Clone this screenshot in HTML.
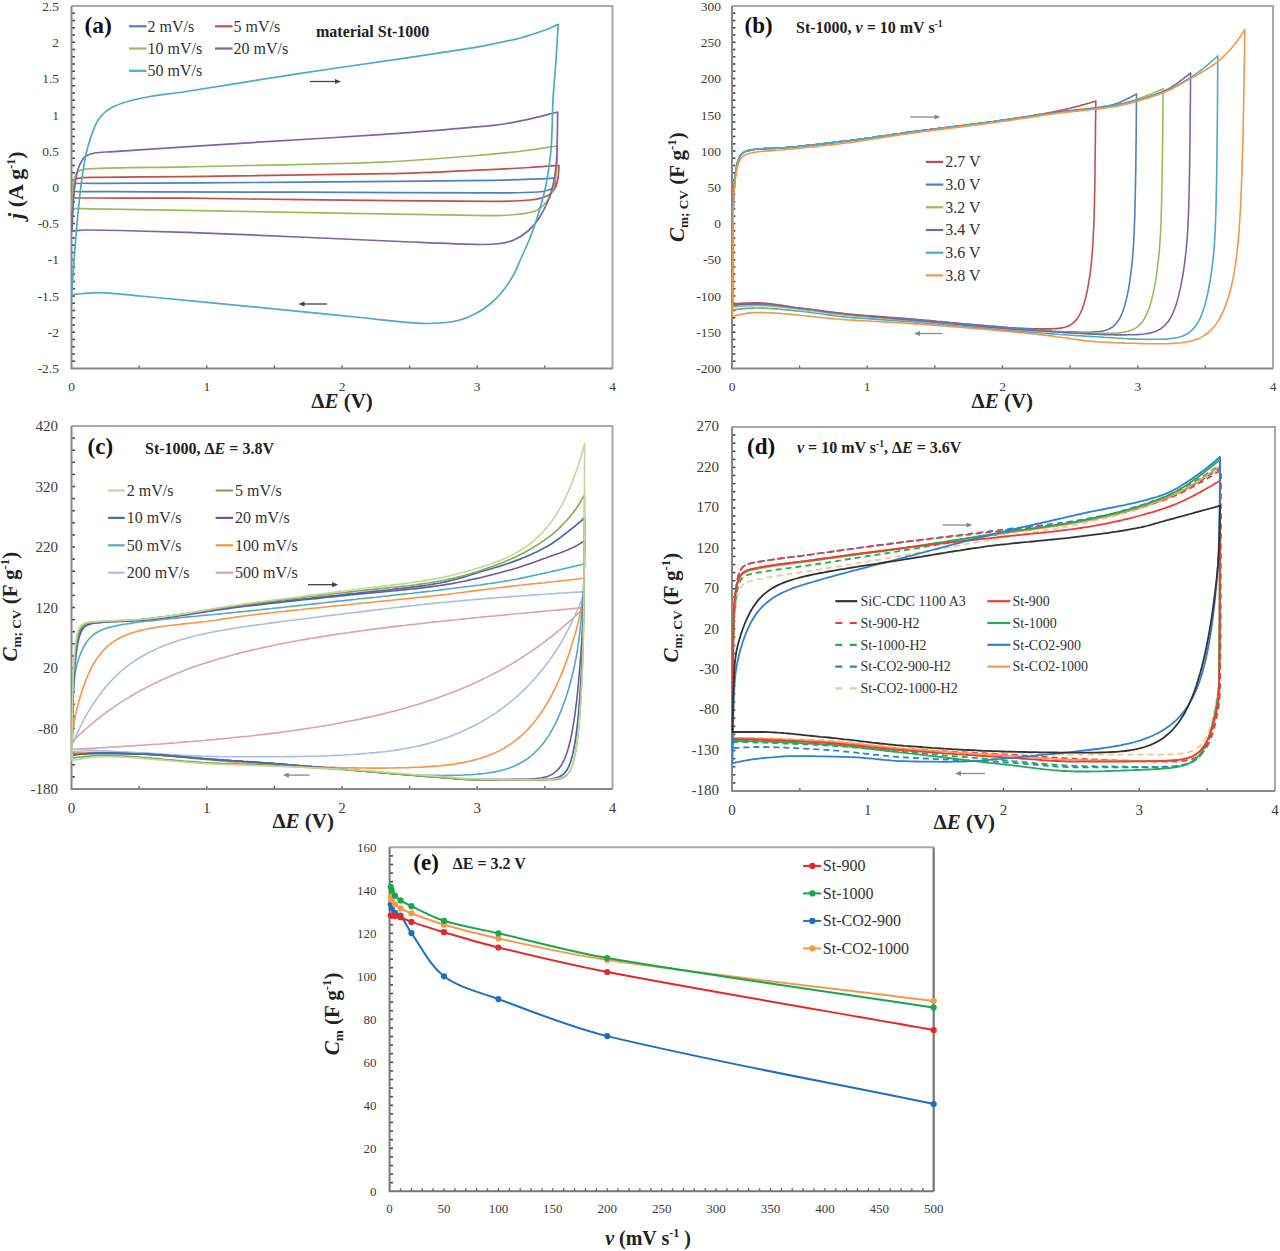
<!DOCTYPE html><html><head><meta charset="utf-8"><style>html,body{margin:0;padding:0;background:#fff;width:1280px;height:1251px;overflow:hidden}svg{display:block}text{font-family:"Liberation Serif",serif}</style></head><body>
<svg width="1280" height="1251" viewBox="0 0 1280 1251">
<rect width="1280" height="1251" fill="#fff"/>
<path d="M71.5 6.0 H612.5 V368.5" fill="none" stroke="#a8a8a8" stroke-width="2"/>
<path d="M71.5 13.2 h3.4" stroke="#444" stroke-width="1.6"/>
<path d="M71.5 20.5 h3.4" stroke="#444" stroke-width="1.6"/>
<path d="M71.5 27.8 h3.4" stroke="#444" stroke-width="1.6"/>
<path d="M71.5 35.0 h3.4" stroke="#444" stroke-width="1.6"/>
<path d="M71.5 42.2 h3.4" stroke="#444" stroke-width="1.6"/>
<path d="M71.5 49.5 h3.4" stroke="#444" stroke-width="1.6"/>
<path d="M71.5 56.8 h3.4" stroke="#444" stroke-width="1.6"/>
<path d="M71.5 64.0 h3.4" stroke="#444" stroke-width="1.6"/>
<path d="M71.5 71.2 h3.4" stroke="#444" stroke-width="1.6"/>
<path d="M71.5 78.5 h3.4" stroke="#444" stroke-width="1.6"/>
<path d="M71.5 85.8 h3.4" stroke="#444" stroke-width="1.6"/>
<path d="M71.5 93.0 h3.4" stroke="#444" stroke-width="1.6"/>
<path d="M71.5 100.2 h3.4" stroke="#444" stroke-width="1.6"/>
<path d="M71.5 107.5 h3.4" stroke="#444" stroke-width="1.6"/>
<path d="M71.5 114.8 h3.4" stroke="#444" stroke-width="1.6"/>
<path d="M71.5 122.0 h3.4" stroke="#444" stroke-width="1.6"/>
<path d="M71.5 129.2 h3.4" stroke="#444" stroke-width="1.6"/>
<path d="M71.5 136.5 h3.4" stroke="#444" stroke-width="1.6"/>
<path d="M71.5 143.8 h3.4" stroke="#444" stroke-width="1.6"/>
<path d="M71.5 151.0 h3.4" stroke="#444" stroke-width="1.6"/>
<path d="M71.5 158.2 h3.4" stroke="#444" stroke-width="1.6"/>
<path d="M71.5 165.5 h3.4" stroke="#444" stroke-width="1.6"/>
<path d="M71.5 172.8 h3.4" stroke="#444" stroke-width="1.6"/>
<path d="M71.5 180.0 h3.4" stroke="#444" stroke-width="1.6"/>
<path d="M71.5 187.2 h3.4" stroke="#444" stroke-width="1.6"/>
<path d="M71.5 194.5 h3.4" stroke="#444" stroke-width="1.6"/>
<path d="M71.5 201.8 h3.4" stroke="#444" stroke-width="1.6"/>
<path d="M71.5 209.0 h3.4" stroke="#444" stroke-width="1.6"/>
<path d="M71.5 216.2 h3.4" stroke="#444" stroke-width="1.6"/>
<path d="M71.5 223.5 h3.4" stroke="#444" stroke-width="1.6"/>
<path d="M71.5 230.8 h3.4" stroke="#444" stroke-width="1.6"/>
<path d="M71.5 238.0 h3.4" stroke="#444" stroke-width="1.6"/>
<path d="M71.5 245.2 h3.4" stroke="#444" stroke-width="1.6"/>
<path d="M71.5 252.5 h3.4" stroke="#444" stroke-width="1.6"/>
<path d="M71.5 259.8 h3.4" stroke="#444" stroke-width="1.6"/>
<path d="M71.5 267.0 h3.4" stroke="#444" stroke-width="1.6"/>
<path d="M71.5 274.2 h3.4" stroke="#444" stroke-width="1.6"/>
<path d="M71.5 281.5 h3.4" stroke="#444" stroke-width="1.6"/>
<path d="M71.5 288.8 h3.4" stroke="#444" stroke-width="1.6"/>
<path d="M71.5 296.0 h3.4" stroke="#444" stroke-width="1.6"/>
<path d="M71.5 303.2 h3.4" stroke="#444" stroke-width="1.6"/>
<path d="M71.5 310.5 h3.4" stroke="#444" stroke-width="1.6"/>
<path d="M71.5 317.8 h3.4" stroke="#444" stroke-width="1.6"/>
<path d="M71.5 325.0 h3.4" stroke="#444" stroke-width="1.6"/>
<path d="M71.5 332.2 h3.4" stroke="#444" stroke-width="1.6"/>
<path d="M71.5 339.5 h3.4" stroke="#444" stroke-width="1.6"/>
<path d="M71.5 346.8 h3.4" stroke="#444" stroke-width="1.6"/>
<path d="M71.5 354.0 h3.4" stroke="#444" stroke-width="1.6"/>
<path d="M71.5 361.2 h3.4" stroke="#444" stroke-width="1.6"/>
<path d="M139.1 368.5 v-3" stroke="#555" stroke-width="1.3"/>
<path d="M206.8 368.5 v-3" stroke="#555" stroke-width="1.3"/>
<path d="M274.4 368.5 v-3" stroke="#555" stroke-width="1.3"/>
<path d="M342.0 368.5 v-3" stroke="#555" stroke-width="1.3"/>
<path d="M409.6 368.5 v-3" stroke="#555" stroke-width="1.3"/>
<path d="M477.2 368.5 v-3" stroke="#555" stroke-width="1.3"/>
<path d="M544.9 368.5 v-3" stroke="#555" stroke-width="1.3"/>
<path d="M71.5 6.0 V368.5 H612.5" fill="none" stroke="#888" stroke-width="2"/>
<text x="59.0" y="10.7" font-size="13.5" text-anchor="end" font-weight="normal" fill="#3c3c3c" >2.5</text>
<text x="59.0" y="47.0" font-size="13.5" text-anchor="end" font-weight="normal" fill="#3c3c3c" >2</text>
<text x="59.0" y="83.2" font-size="13.5" text-anchor="end" font-weight="normal" fill="#3c3c3c" >1.5</text>
<text x="59.0" y="119.5" font-size="13.5" text-anchor="end" font-weight="normal" fill="#3c3c3c" >1</text>
<text x="59.0" y="155.7" font-size="13.5" text-anchor="end" font-weight="normal" fill="#3c3c3c" >0.5</text>
<text x="59.0" y="191.9" font-size="13.5" text-anchor="end" font-weight="normal" fill="#3c3c3c" >0</text>
<text x="59.0" y="228.2" font-size="13.5" text-anchor="end" font-weight="normal" fill="#3c3c3c" >-0.5</text>
<text x="59.0" y="264.4" font-size="13.5" text-anchor="end" font-weight="normal" fill="#3c3c3c" >-1</text>
<text x="59.0" y="300.7" font-size="13.5" text-anchor="end" font-weight="normal" fill="#3c3c3c" >-1.5</text>
<text x="59.0" y="336.9" font-size="13.5" text-anchor="end" font-weight="normal" fill="#3c3c3c" >-2</text>
<text x="59.0" y="373.2" font-size="13.5" text-anchor="end" font-weight="normal" fill="#3c3c3c" >-2.5</text>
<text x="71.5" y="390.5" font-size="13.5" text-anchor="middle" font-weight="normal" fill="#3c3c3c" >0</text>
<text x="206.8" y="390.5" font-size="13.5" text-anchor="middle" font-weight="normal" fill="#3c3c3c" >1</text>
<text x="342.0" y="390.5" font-size="13.5" text-anchor="middle" font-weight="normal" fill="#3c3c3c" >2</text>
<text x="477.2" y="390.5" font-size="13.5" text-anchor="middle" font-weight="normal" fill="#3c3c3c" >3</text>
<text x="612.5" y="390.5" font-size="13.5" text-anchor="middle" font-weight="normal" fill="#3c3c3c" >4</text>
<path d="M72.0 191.5 C72.3 189.3 72.1 186.8 73.0 185.0 C73.5 184.1 74.9 183.6 76.0 183.5 C83.9 183.0 92.0 183.4 100.0 183.4 C166.7 183.0 233.3 182.7 300.0 182.2 C363.3 181.7 426.7 181.2 490.0 180.3 C506.7 180.1 523.3 179.4 540.0 178.8 C545.2 178.6 550.3 178.3 555.5 178.0 C555.3 180.3 555.9 183.0 555.0 185.0 C554.1 186.9 552.0 188.7 550.0 189.5 C546.3 191.0 542.1 191.8 538.0 192.0 C522.1 192.9 506.0 192.9 490.0 192.9 C426.7 193.0 363.3 192.4 300.0 192.2 C250.0 192.0 200.0 191.9 150.0 191.8 C130.0 191.7 110.0 191.7 90.0 191.6 C84.0 191.6 78.0 191.5 72.0 191.5" fill="none" stroke="#4f81bd" stroke-width="1.70" stroke-linejoin="round" stroke-linecap="round" opacity="1.00"/>
<path d="M72.0 198.0 C72.3 193.3 71.9 188.4 73.0 184.0 C73.5 181.9 74.9 179.0 77.0 178.5 C83.9 176.8 92.3 177.5 100.0 177.4 C128.7 176.9 157.3 177.0 186.0 176.6 C253.2 175.7 320.4 175.3 387.5 173.7 C423.5 172.9 459.4 170.9 495.3 169.3 C506.9 168.8 518.4 168.2 530.0 167.5 C539.7 166.9 549.3 166.0 559.0 165.3 C558.7 169.5 558.7 173.8 558.0 178.0 C557.4 181.4 556.7 185.1 555.0 188.0 C553.3 190.9 551.0 194.1 548.0 195.5 C542.6 198.1 536.1 199.4 530.0 200.0 C516.8 201.3 503.3 201.3 490.0 201.3 C426.7 201.2 363.3 200.2 300.0 199.6 C262.0 199.2 224.0 198.5 186.0 198.2 C154.0 198.0 122.0 198.1 90.0 198.0 C84.0 198.0 78.0 198.0 72.0 198.0" fill="none" stroke="#c0504d" stroke-width="1.70" stroke-linejoin="round" stroke-linecap="round" opacity="1.00"/>
<path d="M72.0 208.5 C72.3 200.7 71.9 192.7 73.0 185.0 C73.6 180.7 74.3 175.4 77.0 172.5 C79.3 170.0 84.2 169.0 88.0 168.8 C120.5 167.1 153.3 167.6 186.0 166.8 C253.2 165.2 320.4 164.6 387.5 161.8 C423.5 160.3 459.4 156.9 495.3 153.9 C506.9 152.9 518.5 151.5 530.0 150.0 C539.0 148.8 548.0 147.3 557.0 146.0 C557.0 152.3 557.5 158.7 557.0 165.0 C556.5 171.7 555.7 178.5 554.0 185.0 C552.7 190.2 551.1 195.8 548.0 200.0 C544.7 204.4 540.1 209.0 535.0 211.0 C527.4 214.0 518.4 214.1 510.0 215.0 C503.4 215.7 496.7 215.7 490.0 215.6 C388.7 214.2 287.3 212.1 186.0 210.4 C154.0 209.9 122.0 209.3 90.0 208.8 C84.0 208.7 78.0 208.6 72.0 208.5" fill="none" stroke="#9bbb59" stroke-width="1.70" stroke-linejoin="round" stroke-linecap="round" opacity="1.00"/>
<path d="M72.0 231.0 C72.3 224.7 72.5 218.3 72.8 212.0 C73.1 206.7 73.3 201.3 73.8 196.0 C74.2 191.0 74.7 186.0 75.5 181.0 C76.2 176.8 77.0 172.5 78.3 168.5 C79.2 165.7 80.5 163.0 82.0 160.5 C83.0 158.8 84.3 157.0 86.0 156.0 C88.5 154.5 91.6 153.5 94.5 153.0 C99.6 152.1 104.8 152.1 110.0 151.8 C154.6 148.8 199.1 145.9 243.7 143.1 C291.6 140.0 339.6 137.5 387.5 134.1 C423.5 131.5 459.5 129.0 495.3 125.2 C507.4 123.9 519.3 121.2 531.2 118.7 C540.1 116.8 548.9 114.2 557.7 112.0 C557.6 119.7 557.5 127.3 557.3 135.0 C557.1 143.3 557.2 151.7 556.5 160.0 C555.9 167.7 555.1 175.5 553.5 183.0 C552.2 189.1 550.4 195.2 548.0 201.0 C545.3 207.5 541.9 213.9 538.0 219.8 C535.2 223.9 531.8 227.8 528.0 231.0 C524.1 234.3 519.7 237.4 515.0 239.5 C510.3 241.6 505.1 242.8 500.0 243.5 C493.4 244.4 486.7 244.6 480.0 244.5 C453.3 244.0 426.7 242.6 400.0 241.5 C366.0 240.1 332.0 238.4 298.0 237.0 C260.7 235.4 223.3 233.8 186.0 232.4 C164.0 231.6 142.0 231.0 120.0 230.5 C108.3 230.2 96.7 229.9 85.0 230.0 C80.7 230.0 76.3 230.7 72.0 231.0" fill="none" stroke="#8064a2" stroke-width="1.70" stroke-linejoin="round" stroke-linecap="round" opacity="1.00"/>
<path d="M71.8 294.7 C72.2 288.4 72.6 282.0 73.0 275.7 C74.0 261.3 75.0 247.0 76.2 232.6 C77.5 218.2 78.8 203.8 80.5 189.4 C81.4 181.2 82.6 173.1 84.0 165.0 C85.1 158.7 86.2 152.4 88.0 146.3 C90.1 139.0 92.5 131.6 95.6 124.7 C97.2 121.2 99.4 117.8 102.0 115.0 C104.8 112.0 108.2 109.4 111.8 107.5 C117.3 104.7 123.3 102.7 129.3 101.0 C136.1 99.1 143.0 97.7 150.0 96.5 C161.9 94.5 174.0 93.3 186.0 91.5 C223.6 85.7 261.2 79.4 298.8 73.6 C332.5 68.5 366.3 63.8 400.0 58.8 C413.3 56.8 426.5 54.8 439.8 52.8 C453.1 50.8 466.5 49.0 479.7 46.6 C493.0 44.2 506.4 41.5 519.5 38.2 C528.5 35.9 537.3 32.9 546.0 29.8 C550.2 28.3 554.1 26.2 558.2 24.4 C557.5 36.3 556.8 48.1 556.0 60.0 C555.1 73.3 553.7 86.7 553.0 100.0 C552.1 116.7 552.4 133.4 551.0 150.0 C550.0 161.7 548.3 173.5 546.0 185.0 C544.0 195.1 541.0 205.1 538.0 215.0 C535.7 222.8 532.9 230.4 530.0 238.0 C527.6 244.1 524.7 250.0 522.0 256.0 C519.3 262.0 517.2 268.3 514.0 274.0 C510.5 280.3 506.5 286.4 502.0 292.0 C498.5 296.4 494.4 300.4 490.0 304.0 C485.4 307.8 480.3 311.3 475.0 314.0 C469.6 316.8 463.8 319.0 458.0 320.5 C452.2 322.0 446.0 322.6 440.0 323.0 C432.5 323.5 425.0 323.7 417.5 323.2 C398.3 321.9 379.2 319.4 360.0 317.5 C339.6 315.5 319.2 313.3 298.8 311.3 C261.2 307.6 223.6 304.0 186.0 300.4 C170.7 298.9 155.3 297.4 140.0 296.0 C128.0 294.9 116.0 293.4 104.0 292.8 C97.7 292.5 91.3 292.9 85.0 293.3 C80.7 293.6 76.3 294.2 72.0 294.7" fill="none" stroke="#4bacc6" stroke-width="1.70" stroke-linejoin="round" stroke-linecap="round" opacity="1.00"/>
<text x="84.5" y="32.5" font-size="23.5" text-anchor="start" font-weight="bold" fill="#111" >(a)</text>
<path d="M129.0 26.3 h17.5" stroke="#4f81bd" stroke-width="2.2"/>
<text x="147.5" y="31.6" font-size="16.0" text-anchor="start" font-weight="normal" fill="#333" >2 mV/s</text>
<path d="M215.0 26.3 h17.5" stroke="#c0504d" stroke-width="2.2"/>
<text x="233.5" y="31.6" font-size="16.0" text-anchor="start" font-weight="normal" fill="#333" >5 mV/s</text>
<path d="M129.0 48.5 h17.5" stroke="#9bbb59" stroke-width="2.2"/>
<text x="147.5" y="53.8" font-size="16.0" text-anchor="start" font-weight="normal" fill="#333" >10 mV/s</text>
<path d="M215.0 48.5 h17.5" stroke="#8064a2" stroke-width="2.2"/>
<text x="233.5" y="53.8" font-size="16.0" text-anchor="start" font-weight="normal" fill="#333" >20 mV/s</text>
<path d="M129.0 70.8 h17.5" stroke="#4bacc6" stroke-width="2.2"/>
<text x="147.5" y="76.1" font-size="16.0" text-anchor="start" font-weight="normal" fill="#333" >50 mV/s</text>
<text x="316.0" y="36.5" font-size="16.0" text-anchor="start" font-weight="bold" fill="#222" >material St-1000</text>
<path d="M310.0 81.5 H338.0" stroke="#444" stroke-width="1.3"/>
<path d="M341.0 81.5 L335.0 78.9 L335.0 84.1 Z" fill="#444"/>
<path d="M327.0 304.0 H301.5" stroke="#444" stroke-width="1.3"/>
<path d="M298.5 304.0 L304.5 301.4 L304.5 306.6 Z" fill="#444"/>
<text x="342.0" y="407.5" font-size="21.0" text-anchor="middle" font-weight="bold" fill="#222" >&#916;<tspan font-style="italic">E</tspan> (V)</text>
<text transform="translate(22.5 185.2) rotate(-90)" font-size="22" font-weight="bold" fill="#222" text-anchor="middle"><tspan font-style="italic">j</tspan> (A g<tspan font-size="12" dy="-8">-1</tspan><tspan dy="8">)</tspan></text>
<path d="M732.0 6.0 H1273.0 V368.5" fill="none" stroke="#a8a8a8" stroke-width="2"/>
<path d="M732.0 13.2 h3.4" stroke="#444" stroke-width="1.6"/>
<path d="M732.0 20.5 h3.4" stroke="#444" stroke-width="1.6"/>
<path d="M732.0 27.8 h3.4" stroke="#444" stroke-width="1.6"/>
<path d="M732.0 35.0 h3.4" stroke="#444" stroke-width="1.6"/>
<path d="M732.0 42.2 h3.4" stroke="#444" stroke-width="1.6"/>
<path d="M732.0 49.5 h3.4" stroke="#444" stroke-width="1.6"/>
<path d="M732.0 56.8 h3.4" stroke="#444" stroke-width="1.6"/>
<path d="M732.0 64.0 h3.4" stroke="#444" stroke-width="1.6"/>
<path d="M732.0 71.2 h3.4" stroke="#444" stroke-width="1.6"/>
<path d="M732.0 78.5 h3.4" stroke="#444" stroke-width="1.6"/>
<path d="M732.0 85.8 h3.4" stroke="#444" stroke-width="1.6"/>
<path d="M732.0 93.0 h3.4" stroke="#444" stroke-width="1.6"/>
<path d="M732.0 100.2 h3.4" stroke="#444" stroke-width="1.6"/>
<path d="M732.0 107.5 h3.4" stroke="#444" stroke-width="1.6"/>
<path d="M732.0 114.8 h3.4" stroke="#444" stroke-width="1.6"/>
<path d="M732.0 122.0 h3.4" stroke="#444" stroke-width="1.6"/>
<path d="M732.0 129.2 h3.4" stroke="#444" stroke-width="1.6"/>
<path d="M732.0 136.5 h3.4" stroke="#444" stroke-width="1.6"/>
<path d="M732.0 143.8 h3.4" stroke="#444" stroke-width="1.6"/>
<path d="M732.0 151.0 h3.4" stroke="#444" stroke-width="1.6"/>
<path d="M732.0 158.2 h3.4" stroke="#444" stroke-width="1.6"/>
<path d="M732.0 165.5 h3.4" stroke="#444" stroke-width="1.6"/>
<path d="M732.0 172.8 h3.4" stroke="#444" stroke-width="1.6"/>
<path d="M732.0 180.0 h3.4" stroke="#444" stroke-width="1.6"/>
<path d="M732.0 187.2 h3.4" stroke="#444" stroke-width="1.6"/>
<path d="M732.0 194.5 h3.4" stroke="#444" stroke-width="1.6"/>
<path d="M732.0 201.8 h3.4" stroke="#444" stroke-width="1.6"/>
<path d="M732.0 209.0 h3.4" stroke="#444" stroke-width="1.6"/>
<path d="M732.0 216.2 h3.4" stroke="#444" stroke-width="1.6"/>
<path d="M732.0 223.5 h3.4" stroke="#444" stroke-width="1.6"/>
<path d="M732.0 230.8 h3.4" stroke="#444" stroke-width="1.6"/>
<path d="M732.0 238.0 h3.4" stroke="#444" stroke-width="1.6"/>
<path d="M732.0 245.2 h3.4" stroke="#444" stroke-width="1.6"/>
<path d="M732.0 252.5 h3.4" stroke="#444" stroke-width="1.6"/>
<path d="M732.0 259.8 h3.4" stroke="#444" stroke-width="1.6"/>
<path d="M732.0 267.0 h3.4" stroke="#444" stroke-width="1.6"/>
<path d="M732.0 274.2 h3.4" stroke="#444" stroke-width="1.6"/>
<path d="M732.0 281.5 h3.4" stroke="#444" stroke-width="1.6"/>
<path d="M732.0 288.8 h3.4" stroke="#444" stroke-width="1.6"/>
<path d="M732.0 296.0 h3.4" stroke="#444" stroke-width="1.6"/>
<path d="M732.0 303.2 h3.4" stroke="#444" stroke-width="1.6"/>
<path d="M732.0 310.5 h3.4" stroke="#444" stroke-width="1.6"/>
<path d="M732.0 317.8 h3.4" stroke="#444" stroke-width="1.6"/>
<path d="M732.0 325.0 h3.4" stroke="#444" stroke-width="1.6"/>
<path d="M732.0 332.2 h3.4" stroke="#444" stroke-width="1.6"/>
<path d="M732.0 339.5 h3.4" stroke="#444" stroke-width="1.6"/>
<path d="M732.0 346.8 h3.4" stroke="#444" stroke-width="1.6"/>
<path d="M732.0 354.0 h3.4" stroke="#444" stroke-width="1.6"/>
<path d="M732.0 361.2 h3.4" stroke="#444" stroke-width="1.6"/>
<path d="M799.6 368.5 v-3" stroke="#555" stroke-width="1.3"/>
<path d="M867.2 368.5 v-3" stroke="#555" stroke-width="1.3"/>
<path d="M934.9 368.5 v-3" stroke="#555" stroke-width="1.3"/>
<path d="M1002.5 368.5 v-3" stroke="#555" stroke-width="1.3"/>
<path d="M1070.1 368.5 v-3" stroke="#555" stroke-width="1.3"/>
<path d="M1137.8 368.5 v-3" stroke="#555" stroke-width="1.3"/>
<path d="M1205.4 368.5 v-3" stroke="#555" stroke-width="1.3"/>
<path d="M732.0 6.0 V368.5 H1273.0" fill="none" stroke="#888" stroke-width="2"/>
<text x="721.0" y="10.7" font-size="13.5" text-anchor="end" font-weight="normal" fill="#3c3c3c" >300</text>
<text x="721.0" y="47.0" font-size="13.5" text-anchor="end" font-weight="normal" fill="#3c3c3c" >250</text>
<text x="721.0" y="83.2" font-size="13.5" text-anchor="end" font-weight="normal" fill="#3c3c3c" >200</text>
<text x="721.0" y="119.5" font-size="13.5" text-anchor="end" font-weight="normal" fill="#3c3c3c" >150</text>
<text x="721.0" y="155.7" font-size="13.5" text-anchor="end" font-weight="normal" fill="#3c3c3c" >100</text>
<text x="721.0" y="191.9" font-size="13.5" text-anchor="end" font-weight="normal" fill="#3c3c3c" >50</text>
<text x="721.0" y="228.2" font-size="13.5" text-anchor="end" font-weight="normal" fill="#3c3c3c" >0</text>
<text x="721.0" y="264.4" font-size="13.5" text-anchor="end" font-weight="normal" fill="#3c3c3c" >-50</text>
<text x="721.0" y="300.7" font-size="13.5" text-anchor="end" font-weight="normal" fill="#3c3c3c" >-100</text>
<text x="721.0" y="336.9" font-size="13.5" text-anchor="end" font-weight="normal" fill="#3c3c3c" >-150</text>
<text x="721.0" y="373.2" font-size="13.5" text-anchor="end" font-weight="normal" fill="#3c3c3c" >-200</text>
<text x="732.0" y="390.5" font-size="13.5" text-anchor="middle" font-weight="normal" fill="#3c3c3c" >0</text>
<text x="867.2" y="390.5" font-size="13.5" text-anchor="middle" font-weight="normal" fill="#3c3c3c" >1</text>
<text x="1002.5" y="390.5" font-size="13.5" text-anchor="middle" font-weight="normal" fill="#3c3c3c" >2</text>
<text x="1137.8" y="390.5" font-size="13.5" text-anchor="middle" font-weight="normal" fill="#3c3c3c" >3</text>
<text x="1273.0" y="390.5" font-size="13.5" text-anchor="middle" font-weight="normal" fill="#3c3c3c" >4</text>
<path d="M732.4 304.0 L732.5 281.8 L732.6 264.2 L732.8 244.1 L732.9 229.6 L733.1 213.3 L733.4 203.0 L733.7 194.8 L734.0 189.2 L734.4 183.6 L734.9 178.4 L735.4 174.1 L735.9 170.6 L736.4 167.7 L737.4 163.0 L738.4 159.7 L739.4 157.2 L740.4 155.4 L741.4 154.1 L742.4 153.2 L744.4 151.9 L746.4 151.1 L748.4 150.6 L750.4 150.1 L752.4 149.8 L755.4 149.3 L756.4 149.1 L758.4 148.9 L760.4 148.8 L762.4 148.7 L764.4 148.6 L767.4 148.5 L768.4 148.5 L772.4 148.4 L776.4 148.2 L777.4 148.1 L780.4 147.9 L782.4 147.8 L784.4 147.7 L788.4 147.4 L792.4 147.0 L794.4 146.9 L796.4 146.7 L800.4 146.3 L802.4 146.1 L804.4 145.9 L808.4 145.4 L812.4 145.0 L816.4 144.5 L820.4 144.1 L824.4 143.6 L828.4 143.1 L832.4 142.6 L836.4 142.1 L840.4 141.6 L844.4 141.2 L848.4 140.7 L852.4 140.2 L856.4 139.7 L860.4 139.1 L864.4 138.6 L868.4 138.0 L872.4 137.5 L876.4 136.9 L880.4 136.3 L884.4 135.7 L888.4 135.2 L892.4 134.6 L896.4 134.0 L900.4 133.5 L904.4 132.9 L908.4 132.4 L912.4 131.9 L916.4 131.3 L920.4 130.8 L924.4 130.3 L928.4 129.8 L932.4 129.4 L936.4 128.9 L940.4 128.4 L944.4 127.9 L948.4 127.4 L952.4 126.9 L956.4 126.4 L960.4 125.9 L964.4 125.5 L968.4 124.9 L972.4 124.4 L976.4 123.9 L980.4 123.4 L984.4 122.9 L988.4 122.3 L992.4 121.8 L996.4 121.2 L1000.4 120.6 L1004.4 120.0 L1008.4 119.4 L1012.4 118.8 L1016.4 118.2 L1020.4 117.6 L1024.4 117.0 L1025.8 116.8 L1028.4 116.3 L1032.4 115.7 L1033.8 115.4 L1036.4 115.0 L1039.8 114.4 L1040.4 114.3 L1044.4 113.6 L1045.8 113.3 L1048.4 112.8 L1050.8 112.4 L1052.4 112.0 L1055.8 111.4 L1056.4 111.2 L1060.4 110.4 L1060.8 110.3 L1064.4 109.5 L1065.8 109.2 L1068.4 108.6 L1069.8 108.3 L1072.4 107.6 L1072.8 107.5 L1075.8 106.8 L1076.4 106.6 L1077.8 106.2 L1079.8 105.7 L1080.4 105.5 L1081.8 105.1 L1083.8 104.6 L1084.4 104.4 L1085.8 104.0 L1086.8 103.7 L1087.8 103.4 L1088.4 103.3 L1088.8 103.2 L1089.8 102.9 L1090.8 102.6 L1091.8 102.3 L1092.2 102.1 L1092.4 102.1 L1092.8 102.0 L1093.2 101.8 L1093.8 101.7 L1094.2 101.6 L1094.5 101.5 L1094.8 101.4 L1095.0 101.3 L1095.2 101.2 L1095.4 101.2 L1095.5 101.2 L1095.7 101.1 L1095.8 101.1 L1095.8 101.1 L1095.7 113.4 L1095.5 124.7 L1095.4 139.8 L1095.2 153.1 L1095.0 171.7 L1094.8 186.9 L1094.5 201.5 L1094.2 213.2 L1093.8 225.4 L1093.2 236.9 L1092.8 245.6 L1092.4 250.7 L1092.2 252.6 L1091.8 258.5 L1090.8 268.0 L1089.8 275.6 L1088.8 282.2 L1088.4 284.2 L1087.8 287.8 L1086.8 292.8 L1085.8 297.2 L1084.4 302.2 L1083.8 304.4 L1081.8 310.0 L1080.4 313.1 L1079.8 314.4 L1077.8 317.8 L1076.4 319.6 L1075.8 320.4 L1072.8 323.3 L1072.4 323.6 L1069.8 325.3 L1068.4 325.9 L1065.8 327.0 L1064.4 327.3 L1060.8 328.1 L1060.4 328.1 L1056.4 328.6 L1055.8 328.6 L1052.4 328.8 L1050.8 328.9 L1048.4 328.9 L1045.8 328.9 L1044.4 328.9 L1040.4 328.9 L1039.8 328.9 L1036.4 328.8 L1033.8 328.8 L1032.4 328.7 L1028.4 328.6 L1025.8 328.5 L1024.4 328.4 L1020.4 328.2 L1016.4 328.0 L1012.4 327.7 L1008.4 327.5 L1004.4 327.2 L1000.4 326.9 L996.4 326.6 L992.4 326.3 L988.4 326.0 L984.4 325.6 L980.4 325.3 L976.4 324.9 L972.4 324.6 L968.4 324.2 L964.4 323.8 L960.4 323.5 L956.4 323.1 L952.4 322.7 L948.4 322.3 L944.4 321.9 L940.4 321.5 L936.4 321.2 L932.4 320.8 L928.4 320.4 L924.4 320.1 L920.4 319.7 L916.4 319.4 L912.4 319.0 L908.4 318.7 L904.4 318.4 L900.4 318.1 L896.4 317.8 L892.4 317.5 L888.4 317.2 L884.4 316.9 L880.4 316.6 L876.4 316.3 L872.4 316.0 L868.4 315.7 L864.4 315.4 L860.4 315.0 L856.4 314.7 L852.4 314.3 L848.4 314.0 L844.4 313.6 L840.4 313.1 L836.4 312.7 L832.4 312.2 L828.4 311.7 L824.4 311.2 L820.4 310.6 L816.4 310.1 L812.4 309.6 L808.4 309.0 L804.4 308.5 L802.4 308.2 L800.4 308.0 L796.4 307.5 L794.4 307.2 L792.4 307.0 L788.4 306.4 L784.4 305.7 L782.4 305.4 L780.4 305.1 L777.4 304.7 L776.4 304.5 L772.4 304.0 L768.4 303.5 L767.4 303.4 L764.4 303.2 L762.4 303.1 L760.4 303.0 L758.4 302.9 L756.4 302.9 L755.4 302.9 L752.4 302.9 L750.4 303.0 L748.4 303.0 L746.4 303.1 L744.4 303.1 L742.4 303.2 L741.4 303.3 L740.4 303.3 L739.4 303.4 L738.4 303.5 L737.4 303.5 L736.4 303.6 L735.9 303.7 L735.4 303.7 L734.9 303.8 L734.4 303.8 L734.0 303.8 L733.7 303.9 L733.4 303.9 L733.1 303.9 L732.9 303.9 L732.8 304.0 L732.6 304.0 L732.5 304.0 L732.4 304.0 Z" fill="none" stroke="#c0504d" stroke-width="1.60" stroke-linejoin="round"/>
<path d="M732.4 305.5 L732.5 283.1 L732.6 265.3 L732.8 245.0 L732.9 230.3 L733.1 213.9 L733.4 203.5 L733.7 195.3 L734.0 189.6 L734.4 184.0 L734.9 178.6 L735.4 174.4 L735.9 170.8 L736.4 167.8 L737.4 163.1 L738.4 159.7 L739.4 157.3 L740.4 155.5 L741.4 154.2 L742.4 153.2 L744.4 151.9 L746.4 151.1 L748.4 150.6 L750.4 150.1 L752.4 149.8 L755.4 149.3 L756.4 149.1 L758.4 148.9 L760.4 148.8 L762.4 148.7 L764.4 148.6 L767.4 148.5 L768.4 148.5 L772.4 148.4 L776.4 148.2 L777.4 148.1 L780.4 147.9 L782.4 147.8 L784.4 147.7 L788.4 147.4 L792.4 147.0 L794.4 146.9 L796.4 146.7 L800.4 146.3 L802.4 146.1 L804.4 145.9 L808.4 145.4 L812.4 145.0 L816.4 144.5 L820.4 144.1 L824.4 143.6 L828.4 143.1 L832.4 142.6 L836.4 142.1 L840.4 141.6 L844.4 141.2 L848.4 140.7 L852.4 140.2 L856.4 139.7 L860.4 139.1 L864.4 138.6 L868.4 138.0 L872.4 137.5 L876.4 136.9 L880.4 136.3 L884.4 135.7 L888.4 135.2 L892.4 134.6 L896.4 134.0 L900.4 133.5 L904.4 132.9 L908.4 132.4 L912.4 131.9 L916.4 131.3 L920.4 130.8 L924.4 130.3 L928.4 129.8 L932.4 129.3 L936.4 128.8 L940.4 128.3 L944.4 127.8 L948.4 127.3 L952.4 126.8 L956.4 126.3 L960.4 125.8 L964.4 125.3 L968.4 124.8 L972.4 124.3 L976.4 123.8 L980.4 123.3 L984.4 122.7 L988.4 122.2 L992.4 121.7 L996.4 121.2 L1000.4 120.6 L1004.4 120.1 L1008.4 119.5 L1012.4 118.9 L1016.4 118.4 L1020.4 117.8 L1024.4 117.2 L1028.4 116.6 L1032.4 116.0 L1036.4 115.4 L1040.4 114.8 L1044.4 114.2 L1048.4 113.7 L1052.4 113.1 L1056.4 112.5 L1060.4 111.9 L1064.4 111.4 L1066.5 111.2 L1068.4 110.9 L1072.4 110.5 L1074.5 110.3 L1076.4 110.0 L1080.4 109.6 L1080.5 109.6 L1084.4 109.2 L1086.5 108.9 L1088.4 108.7 L1091.5 108.4 L1092.4 108.2 L1096.4 107.7 L1096.5 107.7 L1100.4 107.1 L1101.5 106.9 L1104.4 106.4 L1106.5 106.0 L1108.4 105.7 L1110.5 105.2 L1112.4 104.8 L1113.5 104.5 L1116.4 103.6 L1116.5 103.6 L1118.5 102.9 L1120.4 102.1 L1120.5 102.1 L1122.5 101.2 L1124.4 100.3 L1124.5 100.2 L1126.5 99.3 L1127.5 98.7 L1128.4 98.3 L1128.5 98.2 L1129.5 97.7 L1130.5 97.2 L1131.5 96.6 L1132.4 96.1 L1132.5 96.1 L1133.0 95.8 L1133.5 95.5 L1134.0 95.3 L1134.5 95.0 L1134.9 94.8 L1135.2 94.6 L1135.5 94.4 L1135.8 94.3 L1136.0 94.2 L1136.2 94.1 L1136.3 94.0 L1136.4 94.0 L1136.5 93.9 L1136.5 93.9 L1136.4 106.8 L1136.3 118.5 L1136.2 134.3 L1136.0 148.2 L1135.8 167.7 L1135.5 183.5 L1135.2 198.8 L1134.9 211.0 L1134.5 223.7 L1134.0 235.7 L1133.5 244.9 L1133.0 252.2 L1132.5 258.3 L1132.4 259.4 L1131.5 268.2 L1130.5 276.2 L1129.5 283.0 L1128.5 289.0 L1128.4 289.5 L1127.5 294.2 L1126.5 298.7 L1124.5 306.3 L1124.4 306.6 L1122.5 312.2 L1120.5 316.8 L1120.4 317.0 L1118.5 320.3 L1116.5 323.1 L1116.4 323.2 L1113.5 326.1 L1112.4 327.0 L1110.5 328.2 L1108.4 329.2 L1106.5 330.0 L1104.4 330.6 L1101.5 331.2 L1100.4 331.4 L1096.5 331.8 L1096.4 331.8 L1092.4 332.0 L1091.5 332.1 L1088.4 332.2 L1086.5 332.2 L1084.4 332.2 L1080.5 332.2 L1080.4 332.2 L1076.4 332.1 L1074.5 332.1 L1072.4 332.0 L1068.4 331.9 L1066.5 331.9 L1064.4 331.8 L1060.4 331.5 L1056.4 331.3 L1052.4 331.0 L1048.4 330.6 L1044.4 330.3 L1040.4 330.0 L1036.4 329.7 L1032.4 329.4 L1028.4 329.1 L1024.4 328.8 L1020.4 328.5 L1016.4 328.2 L1012.4 327.9 L1008.4 327.6 L1004.4 327.2 L1000.4 326.9 L996.4 326.6 L992.4 326.2 L988.4 325.9 L984.4 325.6 L980.4 325.2 L976.4 324.9 L972.4 324.5 L968.4 324.2 L964.4 323.9 L960.4 323.5 L956.4 323.2 L952.4 322.8 L948.4 322.5 L944.4 322.1 L940.4 321.8 L936.4 321.5 L932.4 321.1 L928.4 320.8 L924.4 320.5 L920.4 320.1 L916.4 319.8 L912.4 319.5 L908.4 319.2 L904.4 318.9 L900.4 318.6 L896.4 318.3 L892.4 318.0 L888.4 317.7 L884.4 317.5 L880.4 317.2 L876.4 316.9 L872.4 316.6 L868.4 316.3 L864.4 316.1 L860.4 315.7 L856.4 315.4 L852.4 315.1 L848.4 314.7 L844.4 314.4 L840.4 313.9 L836.4 313.5 L832.4 313.0 L828.4 312.5 L824.4 311.9 L820.4 311.4 L816.4 310.8 L812.4 310.3 L808.4 309.8 L804.4 309.2 L802.4 309.0 L800.4 308.8 L796.4 308.3 L794.4 308.1 L792.4 307.8 L788.4 307.3 L784.4 306.8 L782.4 306.5 L780.4 306.3 L777.4 305.9 L776.4 305.8 L772.4 305.4 L768.4 305.0 L767.4 304.9 L764.4 304.7 L762.4 304.6 L760.4 304.5 L758.4 304.5 L756.4 304.5 L755.4 304.5 L752.4 304.5 L750.4 304.6 L748.4 304.6 L746.4 304.7 L744.4 304.7 L742.4 304.8 L741.4 304.9 L740.4 304.9 L739.4 305.0 L738.4 305.0 L737.4 305.1 L736.4 305.2 L735.9 305.2 L735.4 305.2 L734.9 305.3 L734.4 305.3 L734.0 305.4 L733.7 305.4 L733.4 305.4 L733.1 305.4 L732.9 305.5 L732.8 305.5 L732.6 305.5 L732.5 305.5 L732.4 305.5 Z" fill="none" stroke="#4f81bd" stroke-width="1.60" stroke-linejoin="round"/>
<path d="M732.4 307.0 L732.5 284.4 L732.6 266.4 L732.8 245.9 L732.9 231.1 L733.1 214.5 L733.4 204.0 L733.7 195.7 L734.0 189.9 L734.4 184.3 L734.9 178.9 L735.4 174.6 L735.9 171.0 L736.4 168.0 L737.4 163.2 L738.4 159.8 L739.4 157.3 L740.4 155.5 L741.4 154.2 L742.4 153.2 L744.4 151.9 L746.4 151.1 L748.4 150.6 L750.4 150.1 L752.4 149.8 L755.4 149.3 L756.4 149.1 L758.4 148.9 L760.4 148.8 L762.4 148.7 L764.4 148.6 L767.4 148.5 L768.4 148.5 L772.4 148.4 L776.4 148.2 L777.4 148.1 L780.4 147.9 L782.4 147.8 L784.4 147.7 L788.4 147.4 L792.4 147.0 L794.4 146.9 L796.4 146.7 L800.4 146.3 L802.4 146.1 L804.4 145.9 L808.4 145.4 L812.4 145.0 L816.4 144.5 L820.4 144.1 L824.4 143.6 L828.4 143.1 L832.4 142.6 L836.4 142.1 L840.4 141.6 L844.4 141.2 L848.4 140.7 L852.4 140.2 L856.4 139.7 L860.4 139.1 L864.4 138.6 L868.4 138.0 L872.4 137.5 L876.4 136.9 L880.4 136.3 L884.4 135.7 L888.4 135.2 L892.4 134.6 L896.4 134.0 L900.4 133.5 L904.4 132.9 L908.4 132.4 L912.4 131.9 L916.4 131.3 L920.4 130.8 L924.4 130.3 L928.4 129.8 L932.4 129.3 L936.4 128.8 L940.4 128.3 L944.4 127.8 L948.4 127.3 L952.4 126.8 L956.4 126.3 L960.4 125.8 L964.4 125.3 L968.4 124.8 L972.4 124.3 L976.4 123.8 L980.4 123.3 L984.4 122.7 L988.4 122.2 L992.4 121.7 L996.4 121.2 L1000.4 120.6 L1004.4 120.1 L1008.4 119.5 L1012.4 118.9 L1016.4 118.3 L1020.4 117.7 L1024.4 117.1 L1028.4 116.5 L1032.4 115.9 L1036.4 115.3 L1040.4 114.7 L1044.4 114.2 L1048.4 113.6 L1052.4 113.0 L1056.4 112.5 L1060.4 111.9 L1064.4 111.5 L1068.4 111.0 L1072.4 110.6 L1076.4 110.2 L1080.4 109.8 L1084.4 109.4 L1088.4 109.0 L1092.4 108.6 L1093.1 108.5 L1096.4 108.2 L1100.4 107.7 L1101.1 107.6 L1104.4 107.1 L1107.1 106.7 L1108.4 106.5 L1112.4 105.9 L1113.1 105.7 L1116.4 105.1 L1118.1 104.7 L1120.4 104.2 L1123.1 103.5 L1124.4 103.1 L1128.1 102.1 L1128.4 102.0 L1132.4 100.8 L1133.1 100.6 L1136.4 99.5 L1137.1 99.2 L1140.1 98.1 L1140.4 98.0 L1143.1 97.0 L1144.4 96.5 L1145.1 96.3 L1147.1 95.5 L1148.4 95.0 L1149.1 94.7 L1151.1 93.9 L1152.4 93.4 L1153.1 93.1 L1154.1 92.6 L1155.1 92.2 L1156.1 91.8 L1156.4 91.7 L1157.1 91.4 L1158.1 90.9 L1159.1 90.5 L1159.6 90.3 L1160.1 90.1 L1160.4 89.9 L1160.6 89.9 L1161.1 89.6 L1161.5 89.5 L1161.8 89.3 L1162.1 89.2 L1162.3 89.1 L1162.6 89.0 L1162.8 88.9 L1162.9 88.8 L1163.0 88.8 L1163.1 88.8 L1163.1 88.8 L1163.0 101.8 L1162.9 113.7 L1162.8 129.6 L1162.6 143.6 L1162.3 163.3 L1162.1 179.2 L1161.8 194.4 L1161.5 206.6 L1161.1 219.2 L1160.6 231.0 L1160.4 234.9 L1160.1 240.0 L1159.6 247.2 L1159.1 253.1 L1158.1 262.8 L1157.1 270.7 L1156.4 275.6 L1156.1 277.5 L1155.1 283.5 L1154.1 288.9 L1153.1 293.6 L1152.4 296.6 L1151.1 301.7 L1149.1 308.1 L1148.4 310.0 L1147.1 313.2 L1145.1 317.4 L1144.4 318.6 L1143.1 320.7 L1140.4 324.1 L1140.1 324.4 L1137.1 327.1 L1136.4 327.6 L1133.1 329.5 L1132.4 329.8 L1128.4 331.2 L1128.1 331.3 L1124.4 332.1 L1123.1 332.3 L1120.4 332.7 L1118.1 332.9 L1116.4 333.0 L1113.1 333.2 L1112.4 333.2 L1108.4 333.3 L1107.1 333.3 L1104.4 333.4 L1101.1 333.4 L1100.4 333.4 L1096.4 333.4 L1093.1 333.3 L1092.4 333.3 L1088.4 333.2 L1084.4 333.1 L1080.4 333.0 L1076.4 332.8 L1072.4 332.7 L1068.4 332.5 L1064.4 332.3 L1060.4 332.1 L1056.4 331.9 L1052.4 331.7 L1048.4 331.4 L1044.4 331.2 L1040.4 331.0 L1036.4 330.8 L1032.4 330.6 L1028.4 330.3 L1024.4 330.1 L1020.4 329.8 L1016.4 329.5 L1012.4 329.2 L1008.4 328.9 L1004.4 328.6 L1000.4 328.3 L996.4 328.0 L992.4 327.7 L988.4 327.3 L984.4 327.0 L980.4 326.6 L976.4 326.3 L972.4 325.9 L968.4 325.6 L964.4 325.2 L960.4 324.9 L956.4 324.5 L952.4 324.1 L948.4 323.8 L944.4 323.4 L940.4 323.0 L936.4 322.7 L932.4 322.3 L928.4 321.9 L924.4 321.6 L920.4 321.2 L916.4 320.9 L912.4 320.5 L908.4 320.2 L904.4 319.9 L900.4 319.5 L896.4 319.2 L892.4 318.9 L888.4 318.6 L884.4 318.3 L880.4 318.0 L876.4 317.7 L872.4 317.4 L868.4 317.0 L864.4 316.7 L860.4 316.4 L856.4 316.0 L852.4 315.6 L848.4 315.3 L844.4 314.9 L840.4 314.4 L836.4 313.9 L832.4 313.4 L828.4 312.9 L824.4 312.3 L820.4 311.8 L816.4 311.2 L812.4 310.7 L808.4 310.2 L804.4 309.7 L802.4 309.5 L800.4 309.3 L796.4 308.8 L794.4 308.6 L792.4 308.4 L788.4 307.9 L784.4 307.5 L782.4 307.3 L780.4 307.0 L777.4 306.7 L776.4 306.6 L772.4 306.2 L768.4 305.9 L767.4 305.9 L764.4 305.7 L762.4 305.6 L760.4 305.5 L758.4 305.5 L756.4 305.5 L755.4 305.5 L752.4 305.6 L750.4 305.6 L748.4 305.7 L746.4 305.8 L744.4 305.9 L742.4 306.0 L741.4 306.1 L740.4 306.2 L739.4 306.3 L738.4 306.4 L737.4 306.5 L736.4 306.6 L735.9 306.6 L735.4 306.7 L734.9 306.7 L734.4 306.8 L734.0 306.8 L733.7 306.9 L733.4 306.9 L733.1 306.9 L732.9 306.9 L732.8 307.0 L732.6 307.0 L732.5 307.0 L732.4 307.0 Z" fill="none" stroke="#9bbb59" stroke-width="1.60" stroke-linejoin="round"/>
<path d="M732.4 305.0 L732.5 282.7 L732.6 264.9 L732.8 244.7 L732.9 230.1 L733.1 213.7 L733.4 203.3 L733.7 195.1 L734.0 189.4 L734.4 183.9 L734.9 178.5 L735.4 174.3 L735.9 170.7 L736.4 167.8 L737.4 163.1 L738.4 159.7 L739.4 157.3 L740.4 155.5 L741.4 154.2 L742.4 153.2 L744.4 151.9 L746.4 151.1 L748.4 150.6 L750.4 150.1 L752.4 149.8 L755.4 149.3 L756.4 149.1 L758.4 148.9 L760.4 148.8 L762.4 148.7 L764.4 148.6 L767.4 148.5 L768.4 148.5 L772.4 148.4 L776.4 148.2 L777.4 148.1 L780.4 147.9 L782.4 147.8 L784.4 147.7 L788.4 147.4 L792.4 147.0 L794.4 146.9 L796.4 146.7 L800.4 146.3 L802.4 146.1 L804.4 145.9 L808.4 145.4 L812.4 145.0 L816.4 144.5 L820.4 144.1 L824.4 143.6 L828.4 143.1 L832.4 142.6 L836.4 142.1 L840.4 141.6 L844.4 141.2 L848.4 140.7 L852.4 140.2 L856.4 139.7 L860.4 139.1 L864.4 138.6 L868.4 138.0 L872.4 137.5 L876.4 136.9 L880.4 136.3 L884.4 135.7 L888.4 135.2 L892.4 134.6 L896.4 134.0 L900.4 133.5 L904.4 132.9 L908.4 132.4 L912.4 131.9 L916.4 131.3 L920.4 130.8 L924.4 130.3 L928.4 129.8 L932.4 129.3 L936.4 128.8 L940.4 128.3 L944.4 127.8 L948.4 127.3 L952.4 126.8 L956.4 126.3 L960.4 125.8 L964.4 125.3 L968.4 124.8 L972.4 124.3 L976.4 123.8 L980.4 123.3 L984.4 122.7 L988.4 122.2 L992.4 121.7 L996.4 121.2 L1000.4 120.6 L1004.4 120.1 L1008.4 119.5 L1012.4 118.9 L1016.4 118.3 L1020.4 117.7 L1024.4 117.1 L1028.4 116.5 L1032.4 115.9 L1036.4 115.3 L1040.4 114.7 L1044.4 114.2 L1048.4 113.6 L1052.4 113.0 L1056.4 112.5 L1060.4 111.9 L1064.4 111.5 L1068.4 111.0 L1072.4 110.6 L1076.4 110.2 L1080.4 109.8 L1084.4 109.4 L1088.4 109.0 L1092.4 108.5 L1096.4 108.1 L1100.4 107.6 L1104.4 107.1 L1108.4 106.5 L1112.4 105.9 L1116.4 105.2 L1120.4 104.4 L1120.6 104.4 L1124.4 103.6 L1128.4 102.6 L1128.6 102.6 L1132.4 101.7 L1134.6 101.1 L1136.4 100.6 L1140.4 99.5 L1140.6 99.4 L1144.4 98.3 L1145.6 97.9 L1148.4 97.0 L1150.6 96.2 L1152.4 95.6 L1155.6 94.4 L1156.4 94.1 L1160.4 92.6 L1160.6 92.5 L1164.4 90.9 L1164.6 90.8 L1167.6 89.3 L1168.4 88.9 L1170.6 87.6 L1172.4 86.5 L1172.6 86.4 L1174.6 85.1 L1176.4 83.8 L1176.6 83.7 L1178.6 82.3 L1180.4 80.9 L1180.6 80.8 L1181.6 80.0 L1182.6 79.3 L1183.6 78.5 L1184.4 77.9 L1184.6 77.7 L1185.6 76.9 L1186.6 76.1 L1187.1 75.7 L1187.6 75.3 L1188.1 74.9 L1188.4 74.7 L1188.6 74.5 L1189.0 74.2 L1189.3 74.0 L1189.6 73.7 L1189.8 73.5 L1190.1 73.3 L1190.2 73.2 L1190.4 73.1 L1190.5 73.0 L1190.6 72.9 L1190.6 72.9 L1190.5 86.7 L1190.4 99.3 L1190.2 116.2 L1190.1 131.0 L1189.8 151.7 L1189.6 168.4 L1189.3 184.4 L1189.0 197.1 L1188.6 210.2 L1188.4 215.6 L1188.1 222.5 L1187.6 231.7 L1187.1 239.0 L1186.6 245.1 L1185.6 255.0 L1184.6 263.1 L1184.4 264.6 L1183.6 270.2 L1182.6 276.5 L1181.6 282.1 L1180.6 287.2 L1180.4 288.1 L1178.6 295.9 L1176.6 303.1 L1176.4 303.7 L1174.6 309.0 L1172.6 313.8 L1172.4 314.2 L1170.6 317.7 L1168.4 321.2 L1167.6 322.3 L1164.6 325.7 L1164.4 325.9 L1160.6 328.9 L1160.4 329.0 L1156.4 331.1 L1155.6 331.4 L1152.4 332.5 L1150.6 332.9 L1148.4 333.4 L1145.6 333.8 L1144.4 334.0 L1140.6 334.3 L1140.4 334.4 L1136.4 334.6 L1134.6 334.7 L1132.4 334.8 L1128.6 334.8 L1128.4 334.8 L1124.4 334.9 L1120.6 334.9 L1120.4 334.9 L1116.4 334.9 L1112.4 334.8 L1108.4 334.7 L1104.4 334.6 L1100.4 334.5 L1096.4 334.3 L1092.4 334.1 L1088.4 333.9 L1084.4 333.7 L1080.4 333.5 L1076.4 333.3 L1072.4 333.0 L1068.4 332.8 L1064.4 332.6 L1060.4 332.3 L1056.4 332.0 L1052.4 331.8 L1048.4 331.5 L1044.4 331.3 L1040.4 331.0 L1036.4 330.8 L1032.4 330.5 L1028.4 330.2 L1024.4 330.0 L1020.4 329.7 L1016.4 329.4 L1012.4 329.1 L1008.4 328.7 L1004.4 328.4 L1000.4 328.1 L996.4 327.8 L992.4 327.4 L988.4 327.1 L984.4 326.7 L980.4 326.4 L976.4 326.0 L972.4 325.6 L968.4 325.3 L964.4 324.9 L960.4 324.5 L956.4 324.2 L952.4 323.8 L948.4 323.4 L944.4 323.0 L940.4 322.7 L936.4 322.3 L932.4 321.9 L928.4 321.5 L924.4 321.2 L920.4 320.8 L916.4 320.4 L912.4 320.1 L908.4 319.7 L904.4 319.4 L900.4 319.0 L896.4 318.7 L892.4 318.3 L888.4 318.0 L884.4 317.6 L880.4 317.3 L876.4 316.9 L872.4 316.6 L868.4 316.2 L864.4 315.8 L860.4 315.5 L856.4 315.1 L852.4 314.7 L848.4 314.3 L844.4 313.8 L840.4 313.4 L836.4 312.9 L832.4 312.4 L828.4 311.9 L824.4 311.4 L820.4 310.9 L816.4 310.3 L812.4 309.8 L808.4 309.3 L804.4 308.8 L802.4 308.5 L800.4 308.3 L796.4 307.8 L794.4 307.6 L792.4 307.3 L788.4 306.7 L784.4 306.1 L782.4 305.8 L780.4 305.6 L777.4 305.1 L776.4 305.0 L772.4 304.5 L768.4 304.1 L767.4 304.0 L764.4 303.8 L762.4 303.6 L760.4 303.6 L758.4 303.5 L756.4 303.5 L755.4 303.5 L752.4 303.6 L750.4 303.6 L748.4 303.7 L746.4 303.8 L744.4 303.9 L742.4 304.0 L741.4 304.1 L740.4 304.2 L739.4 304.3 L738.4 304.3 L737.4 304.4 L736.4 304.5 L735.9 304.6 L735.4 304.6 L734.9 304.7 L734.4 304.8 L734.0 304.8 L733.7 304.8 L733.4 304.9 L733.1 304.9 L732.9 304.9 L732.8 305.0 L732.6 305.0 L732.5 305.0 L732.4 305.0 Z" fill="none" stroke="#8064a2" stroke-width="1.60" stroke-linejoin="round"/>
<path d="M732.4 310.0 L732.5 286.9 L732.6 268.6 L732.8 247.7 L732.9 232.6 L733.1 215.7 L733.4 205.0 L733.7 196.5 L734.0 190.7 L734.4 184.9 L734.9 179.4 L735.4 175.0 L735.9 171.4 L736.4 168.3 L737.4 163.5 L738.4 160.0 L739.4 157.5 L740.4 155.6 L741.4 154.3 L742.4 153.3 L744.4 151.9 L746.4 151.1 L748.4 150.6 L750.4 150.1 L752.4 149.8 L755.4 149.3 L756.4 149.1 L758.4 148.9 L760.4 148.8 L762.4 148.7 L764.4 148.6 L767.4 148.5 L768.4 148.5 L772.4 148.4 L776.4 148.2 L777.4 148.1 L780.4 147.9 L782.4 147.8 L784.4 147.7 L788.4 147.4 L792.4 147.0 L794.4 146.9 L796.4 146.7 L800.4 146.3 L802.4 146.1 L804.4 145.9 L808.4 145.4 L812.4 145.0 L816.4 144.5 L820.4 144.1 L824.4 143.6 L828.4 143.1 L832.4 142.6 L836.4 142.1 L840.4 141.6 L844.4 141.2 L848.4 140.7 L852.4 140.2 L856.4 139.7 L860.4 139.1 L864.4 138.6 L868.4 138.0 L872.4 137.5 L876.4 136.9 L880.4 136.3 L884.4 135.7 L888.4 135.2 L892.4 134.6 L896.4 134.0 L900.4 133.5 L904.4 132.9 L908.4 132.4 L912.4 131.9 L916.4 131.3 L920.4 130.8 L924.4 130.3 L928.4 129.8 L932.4 129.3 L936.4 128.8 L940.4 128.3 L944.4 127.7 L948.4 127.2 L952.4 126.7 L956.4 126.2 L960.4 125.7 L964.4 125.2 L968.4 124.7 L972.4 124.2 L976.4 123.7 L980.4 123.2 L984.4 122.7 L988.4 122.2 L992.4 121.7 L996.4 121.1 L1000.4 120.6 L1004.4 120.1 L1008.4 119.5 L1012.4 119.0 L1016.4 118.5 L1020.4 117.9 L1024.4 117.4 L1028.4 116.8 L1032.4 116.2 L1036.4 115.7 L1040.4 115.1 L1044.4 114.6 L1048.4 114.0 L1052.4 113.5 L1056.4 113.0 L1060.4 112.4 L1064.4 111.9 L1068.4 111.5 L1072.4 111.0 L1076.4 110.6 L1080.4 110.1 L1084.4 109.7 L1088.4 109.2 L1092.4 108.7 L1096.4 108.3 L1100.4 107.7 L1104.4 107.1 L1108.4 106.5 L1112.4 105.9 L1116.4 105.1 L1120.4 104.3 L1124.4 103.5 L1128.4 102.5 L1132.4 101.6 L1136.4 100.5 L1140.4 99.4 L1144.4 98.2 L1147.8 97.2 L1148.4 97.0 L1152.4 95.7 L1155.8 94.6 L1156.4 94.4 L1160.4 93.0 L1161.8 92.4 L1164.4 91.5 L1167.8 90.1 L1168.4 89.8 L1172.4 87.9 L1172.8 87.7 L1176.4 85.9 L1177.8 85.1 L1180.4 83.7 L1182.8 82.3 L1184.4 81.3 L1187.8 79.3 L1188.4 78.9 L1191.8 76.7 L1192.4 76.3 L1194.8 74.7 L1196.4 73.6 L1197.8 72.6 L1199.8 71.1 L1200.4 70.6 L1201.8 69.6 L1203.8 68.0 L1204.4 67.5 L1205.8 66.3 L1207.8 64.7 L1208.4 64.2 L1208.8 63.8 L1209.8 63.0 L1210.8 62.1 L1211.8 61.2 L1212.4 60.7 L1212.8 60.3 L1213.8 59.4 L1214.3 59.0 L1214.8 58.5 L1215.3 58.1 L1215.8 57.6 L1216.2 57.2 L1216.4 57.1 L1216.5 57.0 L1216.8 56.7 L1217.0 56.4 L1217.3 56.2 L1217.5 56.1 L1217.6 55.9 L1217.7 55.8 L1217.8 55.8 L1217.8 55.8 L1217.7 71.9 L1217.6 86.6 L1217.5 106.3 L1217.3 123.5 L1217.0 147.5 L1216.8 166.7 L1216.5 185.1 L1216.4 190.2 L1216.2 199.4 L1215.8 214.1 L1215.3 227.5 L1214.8 237.5 L1214.3 245.1 L1213.8 251.4 L1212.8 261.4 L1212.4 264.7 L1211.8 269.4 L1210.8 276.3 L1209.8 282.5 L1208.8 288.0 L1208.4 290.0 L1207.8 292.9 L1205.8 301.5 L1204.4 306.5 L1203.8 308.4 L1201.8 314.1 L1200.4 317.5 L1199.8 318.8 L1197.8 322.6 L1196.4 324.9 L1194.8 327.1 L1192.4 329.8 L1191.8 330.4 L1188.4 333.1 L1187.8 333.5 L1184.4 335.3 L1182.8 336.0 L1180.4 336.8 L1177.8 337.5 L1176.4 337.8 L1172.8 338.3 L1172.4 338.4 L1168.4 338.8 L1167.8 338.9 L1164.4 339.1 L1161.8 339.2 L1160.4 339.2 L1156.4 339.3 L1155.8 339.3 L1152.4 339.3 L1148.4 339.4 L1147.8 339.3 L1144.4 339.3 L1140.4 339.2 L1136.4 339.1 L1132.4 338.9 L1128.4 338.7 L1124.4 338.5 L1120.4 338.2 L1116.4 338.0 L1112.4 337.7 L1108.4 337.5 L1104.4 337.3 L1100.4 337.0 L1096.4 336.8 L1092.4 336.6 L1088.4 336.3 L1084.4 336.1 L1080.4 335.8 L1076.4 335.6 L1072.4 335.3 L1068.4 335.0 L1064.4 334.7 L1060.4 334.5 L1056.4 334.2 L1052.4 333.9 L1048.4 333.6 L1044.4 333.3 L1040.4 333.0 L1036.4 332.7 L1032.4 332.4 L1028.4 332.1 L1024.4 331.8 L1020.4 331.5 L1016.4 331.1 L1012.4 330.8 L1008.4 330.5 L1004.4 330.1 L1000.4 329.8 L996.4 329.4 L992.4 329.1 L988.4 328.7 L984.4 328.4 L980.4 328.0 L976.4 327.6 L972.4 327.3 L968.4 326.9 L964.4 326.6 L960.4 326.2 L956.4 325.8 L952.4 325.5 L948.4 325.1 L944.4 324.8 L940.4 324.4 L936.4 324.1 L932.4 323.7 L928.4 323.4 L924.4 323.0 L920.4 322.7 L916.4 322.3 L912.4 322.0 L908.4 321.7 L904.4 321.4 L900.4 321.1 L896.4 320.8 L892.4 320.5 L888.4 320.2 L884.4 319.9 L880.4 319.7 L876.4 319.4 L872.4 319.1 L868.4 318.8 L864.4 318.5 L860.4 318.2 L856.4 317.9 L852.4 317.6 L848.4 317.2 L844.4 316.9 L840.4 316.4 L836.4 316.0 L832.4 315.4 L828.4 314.9 L824.4 314.3 L820.4 313.8 L816.4 313.2 L812.4 312.7 L808.4 312.1 L804.4 311.7 L802.4 311.4 L800.4 311.2 L796.4 310.9 L794.4 310.7 L792.4 310.5 L788.4 310.1 L784.4 309.7 L782.4 309.5 L780.4 309.3 L777.4 309.0 L776.4 308.9 L772.4 308.6 L768.4 308.4 L767.4 308.3 L764.4 308.2 L762.4 308.1 L760.4 308.0 L758.4 308.0 L756.4 308.0 L755.4 308.0 L752.4 308.1 L750.4 308.2 L748.4 308.3 L746.4 308.4 L744.4 308.6 L742.4 308.8 L741.4 308.9 L740.4 309.0 L739.4 309.1 L738.4 309.2 L737.4 309.3 L736.4 309.5 L735.9 309.5 L735.4 309.6 L734.9 309.7 L734.4 309.7 L734.0 309.8 L733.7 309.8 L733.4 309.9 L733.1 309.9 L732.9 309.9 L732.8 310.0 L732.6 310.0 L732.5 310.0 L732.4 310.0 Z" fill="none" stroke="#4bacc6" stroke-width="1.60" stroke-linejoin="round"/>
<path d="M732.4 316.0 L732.5 292.7 L732.6 274.1 L732.8 252.9 L732.9 237.6 L733.1 220.5 L733.4 209.6 L733.7 201.0 L734.0 195.1 L734.4 189.2 L734.9 183.6 L735.4 179.1 L735.9 175.4 L736.4 172.3 L737.4 167.3 L738.4 163.7 L739.4 161.1 L740.4 159.2 L741.4 157.8 L742.4 156.7 L744.4 155.3 L746.4 154.4 L748.4 153.7 L750.4 153.2 L752.4 152.8 L755.4 152.2 L756.4 152.0 L758.4 151.7 L760.4 151.5 L762.4 151.3 L764.4 151.1 L767.4 150.9 L768.4 150.9 L772.4 150.6 L776.4 150.3 L777.4 150.2 L780.4 150.0 L782.4 149.8 L784.4 149.6 L788.4 149.3 L792.4 148.9 L794.4 148.7 L796.4 148.5 L800.4 148.1 L802.4 147.9 L804.4 147.7 L808.4 147.3 L812.4 146.9 L816.4 146.4 L820.4 146.0 L824.4 145.5 L828.4 145.1 L832.4 144.6 L836.4 144.1 L840.4 143.7 L844.4 143.2 L848.4 142.7 L852.4 142.1 L856.4 141.6 L860.4 141.0 L864.4 140.4 L868.4 139.8 L872.4 139.2 L876.4 138.5 L880.4 137.9 L884.4 137.3 L888.4 136.6 L892.4 136.0 L896.4 135.4 L900.4 134.8 L904.4 134.2 L908.4 133.7 L912.4 133.1 L916.4 132.6 L920.4 132.0 L924.4 131.5 L928.4 131.0 L932.4 130.5 L936.4 130.0 L940.4 129.4 L944.4 128.9 L948.4 128.4 L952.4 127.9 L956.4 127.4 L960.4 126.9 L964.4 126.4 L968.4 125.9 L972.4 125.4 L976.4 124.9 L980.4 124.4 L984.4 123.9 L988.4 123.3 L992.4 122.8 L996.4 122.3 L1000.4 121.7 L1004.4 121.2 L1008.4 120.6 L1012.4 120.0 L1016.4 119.4 L1020.4 118.8 L1024.4 118.2 L1028.4 117.6 L1032.4 117.0 L1036.4 116.4 L1040.4 115.8 L1044.4 115.2 L1048.4 114.6 L1052.4 114.0 L1056.4 113.5 L1060.4 112.9 L1064.4 112.5 L1068.4 112.0 L1072.4 111.6 L1076.4 111.2 L1080.4 110.8 L1084.4 110.4 L1088.4 110.0 L1092.4 109.5 L1096.4 109.1 L1100.4 108.6 L1104.4 108.1 L1108.4 107.5 L1112.4 106.9 L1116.4 106.2 L1120.4 105.4 L1124.4 104.5 L1128.4 103.6 L1132.4 102.6 L1136.4 101.5 L1140.4 100.3 L1144.4 99.1 L1148.4 97.9 L1152.4 96.6 L1156.4 95.2 L1160.4 93.8 L1164.4 92.3 L1168.4 90.6 L1172.4 88.7 L1174.8 87.4 L1176.4 86.6 L1180.4 84.4 L1182.8 83.0 L1184.4 82.1 L1188.4 79.9 L1188.8 79.6 L1192.4 77.6 L1194.8 76.2 L1196.4 75.3 L1199.8 73.4 L1200.4 73.0 L1204.4 70.7 L1204.8 70.4 L1208.4 68.2 L1209.8 67.3 L1212.4 65.5 L1214.8 63.8 L1216.4 62.6 L1218.8 60.7 L1220.4 59.4 L1221.8 58.1 L1224.4 55.7 L1224.8 55.3 L1226.8 53.2 L1228.4 51.5 L1228.8 51.1 L1230.8 48.9 L1232.4 47.0 L1232.8 46.6 L1234.8 44.1 L1235.8 42.8 L1236.4 42.0 L1236.8 41.4 L1237.8 40.0 L1238.8 38.6 L1239.8 37.2 L1240.4 36.3 L1240.8 35.7 L1241.3 34.9 L1241.8 34.2 L1242.3 33.4 L1242.8 32.6 L1243.2 32.0 L1243.5 31.5 L1243.8 31.0 L1244.0 30.7 L1244.3 30.3 L1244.4 30.1 L1244.5 30.0 L1244.6 29.8 L1244.7 29.6 L1244.8 29.4 L1244.8 29.4 L1244.7 37.2 L1244.6 44.7 L1244.5 55.4 L1244.4 58.8 L1244.3 65.6 L1244.0 81.4 L1243.8 95.8 L1243.5 111.6 L1243.2 125.9 L1242.8 142.7 L1242.3 161.0 L1241.8 176.5 L1241.3 189.8 L1240.8 201.2 L1240.4 209.2 L1239.8 219.8 L1238.8 234.1 L1237.8 245.4 L1236.8 254.6 L1236.4 257.9 L1235.8 262.3 L1234.8 268.9 L1232.8 279.8 L1232.4 281.7 L1230.8 288.5 L1228.8 295.8 L1228.4 297.2 L1226.8 302.1 L1224.8 307.5 L1224.4 308.5 L1221.8 314.3 L1220.4 317.1 L1218.8 319.9 L1216.4 323.6 L1214.8 325.8 L1212.4 328.6 L1209.8 331.2 L1208.4 332.5 L1204.8 335.1 L1204.4 335.4 L1200.4 337.6 L1199.8 337.9 L1196.4 339.4 L1194.8 339.9 L1192.4 340.6 L1188.8 341.5 L1188.4 341.6 L1184.4 342.3 L1182.8 342.5 L1180.4 342.8 L1176.4 343.2 L1174.8 343.3 L1172.4 343.4 L1168.4 343.6 L1164.4 343.7 L1160.4 343.7 L1156.4 343.7 L1152.4 343.7 L1148.4 343.7 L1144.4 343.6 L1140.4 343.5 L1136.4 343.4 L1132.4 343.3 L1128.4 343.2 L1124.4 343.1 L1120.4 342.9 L1116.4 342.8 L1112.4 342.6 L1108.4 342.4 L1104.4 342.2 L1100.4 342.0 L1096.4 341.8 L1092.4 341.4 L1088.4 341.0 L1084.4 340.6 L1080.4 340.1 L1076.4 339.5 L1072.4 339.0 L1068.4 338.4 L1064.4 337.8 L1060.4 337.2 L1056.4 336.7 L1052.4 336.1 L1048.4 335.6 L1044.4 335.1 L1040.4 334.6 L1036.4 334.2 L1032.4 333.8 L1028.4 333.4 L1024.4 333.0 L1020.4 332.6 L1016.4 332.2 L1012.4 331.9 L1008.4 331.5 L1004.4 331.1 L1000.4 330.7 L996.4 330.4 L992.4 330.0 L988.4 329.6 L984.4 329.3 L980.4 328.9 L976.4 328.6 L972.4 328.3 L968.4 327.9 L964.4 327.6 L960.4 327.3 L956.4 326.9 L952.4 326.6 L948.4 326.3 L944.4 326.0 L940.4 325.7 L936.4 325.4 L932.4 325.1 L928.4 324.8 L924.4 324.5 L920.4 324.2 L916.4 323.9 L912.4 323.6 L908.4 323.4 L904.4 323.1 L900.4 322.8 L896.4 322.6 L892.4 322.4 L888.4 322.1 L884.4 321.9 L880.4 321.7 L876.4 321.5 L872.4 321.3 L868.4 321.0 L864.4 320.8 L860.4 320.6 L856.4 320.4 L852.4 320.1 L848.4 319.9 L844.4 319.6 L840.4 319.3 L836.4 319.0 L832.4 318.6 L828.4 318.2 L824.4 317.8 L820.4 317.4 L816.4 317.0 L812.4 316.5 L808.4 316.1 L804.4 315.7 L802.4 315.5 L800.4 315.3 L796.4 314.8 L794.4 314.6 L792.4 314.5 L788.4 314.1 L784.4 313.7 L782.4 313.6 L780.4 313.4 L777.4 313.2 L776.4 313.2 L772.4 312.9 L768.4 312.7 L767.4 312.7 L764.4 312.6 L762.4 312.6 L760.4 312.5 L758.4 312.5 L756.4 312.5 L755.4 312.5 L752.4 312.7 L750.4 312.9 L748.4 313.1 L746.4 313.4 L744.4 313.7 L742.4 314.1 L741.4 314.2 L740.4 314.4 L739.4 314.6 L738.4 314.8 L737.4 315.0 L736.4 315.2 L735.9 315.3 L735.4 315.4 L734.9 315.5 L734.4 315.6 L734.0 315.7 L733.7 315.7 L733.4 315.8 L733.1 315.9 L732.9 315.9 L732.8 315.9 L732.6 316.0 L732.5 316.0 L732.4 316.0 Z" fill="none" stroke="#f79646" stroke-width="1.60" stroke-linejoin="round"/>
<text x="744.5" y="33.0" font-size="23.0" text-anchor="start" font-weight="bold" fill="#111" >(b)</text>
<text x="796.0" y="32.5" font-size="16.0" text-anchor="start" font-weight="bold" fill="#222" >St-1000, <tspan font-style="italic">v</tspan> = 10 mV s<tspan font-size="9.6" dy="-6">-1</tspan></text>
<path d="M925.8 161.9 h17.5" stroke="#c0504d" stroke-width="2.2"/>
<text x="945.3" y="167.2" font-size="16.0" text-anchor="start" font-weight="normal" fill="#333" >2.7 V</text>
<path d="M925.8 184.6 h17.5" stroke="#4f81bd" stroke-width="2.2"/>
<text x="945.3" y="189.9" font-size="16.0" text-anchor="start" font-weight="normal" fill="#333" >3.0 V</text>
<path d="M925.8 207.3 h17.5" stroke="#9bbb59" stroke-width="2.2"/>
<text x="945.3" y="212.6" font-size="16.0" text-anchor="start" font-weight="normal" fill="#333" >3.2 V</text>
<path d="M925.8 230.0 h17.5" stroke="#8064a2" stroke-width="2.2"/>
<text x="945.3" y="235.3" font-size="16.0" text-anchor="start" font-weight="normal" fill="#333" >3.4 V</text>
<path d="M925.8 252.7 h17.5" stroke="#4bacc6" stroke-width="2.2"/>
<text x="945.3" y="258.0" font-size="16.0" text-anchor="start" font-weight="normal" fill="#333" >3.6 V</text>
<path d="M925.8 275.4 h17.5" stroke="#f79646" stroke-width="2.2"/>
<text x="945.3" y="280.7" font-size="16.0" text-anchor="start" font-weight="normal" fill="#333" >3.8 V</text>
<path d="M910.0 117.0 H937.5" stroke="#888" stroke-width="1.3"/>
<path d="M940.5 117.0 L934.5 114.4 L934.5 119.6 Z" fill="#888"/>
<path d="M942.0 333.5 H917.0" stroke="#888" stroke-width="1.3"/>
<path d="M914.0 333.5 L920.0 330.9 L920.0 336.1 Z" fill="#888"/>
<text x="1002.3" y="407.5" font-size="21.0" text-anchor="middle" font-weight="bold" fill="#222" >&#916;<tspan font-style="italic">E</tspan> (V)</text>
<text transform="translate(683.5 187.2) rotate(-90)" font-size="21" font-weight="bold" fill="#222" text-anchor="middle"><tspan font-style="italic">C</tspan><tspan font-size="13.3" dy="4">m; CV</tspan><tspan dy="-4"> (F g</tspan><tspan font-size="12.9" dy="-8">-1</tspan><tspan dy="8">)</tspan></text>
<path d="M71.5 426.0 H612.5 V789.0" fill="none" stroke="#a8a8a8" stroke-width="2"/>
<path d="M71.5 438.1 h3.4" stroke="#444" stroke-width="1.6"/>
<path d="M71.5 450.2 h3.4" stroke="#444" stroke-width="1.6"/>
<path d="M71.5 462.3 h3.4" stroke="#444" stroke-width="1.6"/>
<path d="M71.5 474.4 h3.4" stroke="#444" stroke-width="1.6"/>
<path d="M71.5 486.5 h3.4" stroke="#444" stroke-width="1.6"/>
<path d="M71.5 498.6 h3.4" stroke="#444" stroke-width="1.6"/>
<path d="M71.5 510.7 h3.4" stroke="#444" stroke-width="1.6"/>
<path d="M71.5 522.8 h3.4" stroke="#444" stroke-width="1.6"/>
<path d="M71.5 534.9 h3.4" stroke="#444" stroke-width="1.6"/>
<path d="M71.5 547.0 h3.4" stroke="#444" stroke-width="1.6"/>
<path d="M71.5 559.1 h3.4" stroke="#444" stroke-width="1.6"/>
<path d="M71.5 571.2 h3.4" stroke="#444" stroke-width="1.6"/>
<path d="M71.5 583.3 h3.4" stroke="#444" stroke-width="1.6"/>
<path d="M71.5 595.4 h3.4" stroke="#444" stroke-width="1.6"/>
<path d="M71.5 607.5 h3.4" stroke="#444" stroke-width="1.6"/>
<path d="M71.5 619.6 h3.4" stroke="#444" stroke-width="1.6"/>
<path d="M71.5 631.7 h3.4" stroke="#444" stroke-width="1.6"/>
<path d="M71.5 643.8 h3.4" stroke="#444" stroke-width="1.6"/>
<path d="M71.5 655.9 h3.4" stroke="#444" stroke-width="1.6"/>
<path d="M71.5 668.0 h3.4" stroke="#444" stroke-width="1.6"/>
<path d="M71.5 680.1 h3.4" stroke="#444" stroke-width="1.6"/>
<path d="M71.5 692.2 h3.4" stroke="#444" stroke-width="1.6"/>
<path d="M71.5 704.3 h3.4" stroke="#444" stroke-width="1.6"/>
<path d="M71.5 716.4 h3.4" stroke="#444" stroke-width="1.6"/>
<path d="M71.5 728.5 h3.4" stroke="#444" stroke-width="1.6"/>
<path d="M71.5 740.6 h3.4" stroke="#444" stroke-width="1.6"/>
<path d="M71.5 752.7 h3.4" stroke="#444" stroke-width="1.6"/>
<path d="M71.5 764.8 h3.4" stroke="#444" stroke-width="1.6"/>
<path d="M71.5 776.9 h3.4" stroke="#444" stroke-width="1.6"/>
<path d="M139.1 789.0 v-3" stroke="#555" stroke-width="1.3"/>
<path d="M206.8 789.0 v-3" stroke="#555" stroke-width="1.3"/>
<path d="M274.4 789.0 v-3" stroke="#555" stroke-width="1.3"/>
<path d="M342.0 789.0 v-3" stroke="#555" stroke-width="1.3"/>
<path d="M409.6 789.0 v-3" stroke="#555" stroke-width="1.3"/>
<path d="M477.2 789.0 v-3" stroke="#555" stroke-width="1.3"/>
<path d="M544.9 789.0 v-3" stroke="#555" stroke-width="1.3"/>
<path d="M71.5 426.0 V789.0 H612.5" fill="none" stroke="#888" stroke-width="2"/>
<text x="58.0" y="431.1" font-size="15.0" text-anchor="end" font-weight="normal" fill="#3c3c3c" >420</text>
<text x="58.0" y="491.6" font-size="15.0" text-anchor="end" font-weight="normal" fill="#3c3c3c" >320</text>
<text x="58.0" y="552.1" font-size="15.0" text-anchor="end" font-weight="normal" fill="#3c3c3c" >220</text>
<text x="58.0" y="612.6" font-size="15.0" text-anchor="end" font-weight="normal" fill="#3c3c3c" >120</text>
<text x="58.0" y="673.1" font-size="15.0" text-anchor="end" font-weight="normal" fill="#3c3c3c" >20</text>
<text x="58.0" y="733.6" font-size="15.0" text-anchor="end" font-weight="normal" fill="#3c3c3c" >-80</text>
<text x="58.0" y="794.1" font-size="15.0" text-anchor="end" font-weight="normal" fill="#3c3c3c" >-180</text>
<text x="71.5" y="812.8" font-size="15.0" text-anchor="middle" font-weight="normal" fill="#3c3c3c" >0</text>
<text x="206.8" y="812.8" font-size="15.0" text-anchor="middle" font-weight="normal" fill="#3c3c3c" >1</text>
<text x="342.0" y="812.8" font-size="15.0" text-anchor="middle" font-weight="normal" fill="#3c3c3c" >2</text>
<text x="477.2" y="812.8" font-size="15.0" text-anchor="middle" font-weight="normal" fill="#3c3c3c" >3</text>
<text x="612.5" y="812.8" font-size="15.0" text-anchor="middle" font-weight="normal" fill="#3c3c3c" >4</text>
<path d="M72.0 742.0 L72.1 741.9 L72.2 741.8 L72.3 741.6 L72.5 741.5 L72.8 741.2 L73.0 741.0 L73.3 740.7 L73.6 740.4 L74.0 740.0 L74.5 739.5 L75.0 739.0 L75.5 738.5 L76.0 738.1 L77.0 737.1 L78.0 736.1 L79.0 735.2 L80.0 734.3 L81.0 733.3 L82.0 732.4 L84.0 730.6 L86.0 728.8 L88.0 727.1 L90.0 725.3 L92.0 723.6 L95.0 721.2 L96.0 720.4 L98.0 718.8 L100.0 717.2 L102.0 715.6 L104.0 714.1 L107.0 711.9 L108.0 711.2 L112.0 708.3 L116.0 705.6 L117.0 704.9 L120.0 702.9 L122.0 701.6 L124.0 700.3 L128.0 697.9 L132.0 695.5 L134.0 694.3 L136.0 693.1 L140.0 690.9 L142.0 689.8 L144.0 688.7 L148.0 686.6 L152.0 684.6 L156.0 682.7 L160.0 680.8 L164.0 678.9 L168.0 677.2 L172.0 675.5 L176.0 673.8 L180.0 672.2 L184.0 670.6 L188.0 669.1 L192.0 667.6 L196.0 666.2 L200.0 664.8 L204.0 663.5 L208.0 662.2 L212.0 660.9 L216.0 659.7 L220.0 658.5 L224.0 657.4 L228.0 656.2 L232.0 655.2 L236.0 654.1 L240.0 653.1 L244.0 652.0 L248.0 651.1 L252.0 650.1 L256.0 649.2 L260.0 648.3 L264.0 647.4 L268.0 646.5 L272.0 645.7 L276.0 644.8 L280.0 644.0 L284.0 643.3 L288.0 642.5 L292.0 641.7 L296.0 641.0 L300.0 640.3 L304.0 639.6 L308.0 638.9 L312.0 638.2 L316.0 637.6 L320.0 636.9 L324.0 636.3 L328.0 635.6 L332.0 635.0 L336.0 634.4 L340.0 633.8 L344.0 633.2 L348.0 632.7 L352.0 632.1 L356.0 631.6 L360.0 631.0 L364.0 630.5 L368.0 629.9 L372.0 629.4 L376.0 628.9 L380.0 628.4 L384.0 627.9 L388.0 627.4 L392.0 626.9 L396.0 626.4 L400.0 625.9 L404.0 625.5 L408.0 625.0 L412.0 624.5 L416.0 624.1 L420.0 623.6 L424.0 623.2 L428.0 622.8 L432.0 622.3 L436.0 621.9 L440.0 621.5 L444.0 621.0 L448.0 620.6 L452.0 620.2 L456.0 619.8 L460.0 619.4 L464.0 618.9 L468.0 618.5 L472.0 618.1 L476.0 617.7 L480.0 617.3 L484.0 616.9 L488.0 616.5 L492.0 616.1 L496.0 615.8 L500.0 615.4 L504.0 615.0 L508.0 614.6 L512.0 614.2 L514.6 614.0 L516.0 613.8 L520.0 613.5 L522.6 613.2 L524.0 613.1 L528.0 612.7 L528.6 612.7 L532.0 612.3 L534.6 612.1 L536.0 612.0 L539.6 611.6 L540.0 611.6 L544.0 611.2 L544.6 611.2 L548.0 610.9 L549.6 610.7 L552.0 610.5 L554.6 610.3 L556.0 610.1 L558.6 609.9 L560.0 609.8 L561.6 609.6 L564.0 609.4 L564.6 609.3 L566.6 609.2 L568.0 609.0 L568.6 609.0 L570.6 608.8 L572.0 608.7 L572.6 608.6 L574.6 608.4 L575.6 608.4 L576.0 608.3 L576.6 608.3 L577.6 608.2 L578.6 608.1 L579.6 608.0 L580.0 608.0 L580.6 607.9 L581.1 607.9 L581.6 607.8 L582.1 607.8 L582.6 607.7 L583.0 607.7 L583.3 607.7 L583.6 607.6 L583.9 607.6 L584.0 607.6 L584.1 607.6 L584.2 607.6 L584.4 607.6 L584.5 607.6 L584.6 607.5 L584.6 607.0 L584.5 607.1 L584.4 607.2 L584.2 607.4 L584.1 607.5 L584.0 607.6 L583.9 607.8 L583.6 608.0 L583.3 608.3 L583.0 608.6 L582.6 609.0 L582.1 609.5 L581.6 610.0 L581.1 610.5 L580.6 611.0 L580.0 611.5 L579.6 611.9 L578.6 612.9 L577.6 613.8 L576.6 614.8 L576.0 615.4 L575.6 615.7 L574.6 616.7 L572.6 618.5 L572.0 619.1 L570.6 620.3 L568.6 622.1 L568.0 622.7 L566.6 623.9 L564.6 625.7 L564.0 626.2 L561.6 628.2 L560.0 629.6 L558.6 630.7 L556.0 632.9 L554.6 634.0 L552.0 636.1 L549.6 638.0 L548.0 639.2 L544.6 641.8 L544.0 642.2 L540.0 645.2 L539.6 645.5 L536.0 648.0 L534.6 649.0 L532.0 650.8 L528.6 653.1 L528.0 653.5 L524.0 656.1 L522.6 657.0 L520.0 658.7 L516.0 661.2 L514.6 662.0 L512.0 663.6 L508.0 665.9 L504.0 668.2 L500.0 670.4 L496.0 672.5 L492.0 674.6 L488.0 676.6 L484.0 678.6 L480.0 680.5 L476.0 682.4 L472.0 684.2 L468.0 686.0 L464.0 687.7 L460.0 689.3 L456.0 690.9 L452.0 692.5 L448.0 694.1 L444.0 695.5 L440.0 697.0 L436.0 698.4 L432.0 699.8 L428.0 701.1 L424.0 702.4 L420.0 703.7 L416.0 704.9 L412.0 706.1 L408.0 707.3 L404.0 708.4 L400.0 709.5 L396.0 710.6 L392.0 711.6 L388.0 712.7 L384.0 713.6 L380.0 714.6 L376.0 715.6 L372.0 716.5 L368.0 717.4 L364.0 718.2 L360.0 719.1 L356.0 719.9 L352.0 720.7 L348.0 721.5 L344.0 722.3 L340.0 723.0 L336.0 723.8 L332.0 724.5 L328.0 725.2 L324.0 725.9 L320.0 726.5 L316.0 727.2 L312.0 727.8 L308.0 728.4 L304.0 729.0 L300.0 729.6 L296.0 730.2 L292.0 730.8 L288.0 731.3 L284.0 731.8 L280.0 732.4 L276.0 732.9 L272.0 733.4 L268.0 733.9 L264.0 734.4 L260.0 734.8 L256.0 735.3 L252.0 735.7 L248.0 736.2 L244.0 736.6 L240.0 737.0 L236.0 737.4 L232.0 737.8 L228.0 738.2 L224.0 738.6 L220.0 739.0 L216.0 739.4 L212.0 739.7 L208.0 740.1 L204.0 740.5 L200.0 740.8 L196.0 741.1 L192.0 741.5 L188.0 741.8 L184.0 742.1 L180.0 742.4 L176.0 742.8 L172.0 743.1 L168.0 743.4 L164.0 743.7 L160.0 744.0 L156.0 744.2 L152.0 744.5 L148.0 744.8 L144.0 745.1 L142.0 745.2 L140.0 745.3 L136.0 745.6 L134.0 745.7 L132.0 745.9 L128.0 746.1 L124.0 746.4 L122.0 746.5 L120.0 746.6 L117.0 746.8 L116.0 746.9 L112.0 747.1 L108.0 747.3 L107.0 747.4 L104.0 747.6 L102.0 747.7 L100.0 747.8 L98.0 747.9 L96.0 748.0 L95.0 748.1 L92.0 748.3 L90.0 748.4 L88.0 748.5 L86.0 748.6 L84.0 748.7 L82.0 748.8 L81.0 748.9 L80.0 748.9 L79.0 749.0 L78.0 749.0 L77.0 749.1 L76.0 749.2 L75.5 749.2 L75.0 749.2 L74.5 749.2 L74.0 749.3 L73.6 749.3 L73.3 749.3 L73.0 749.3 L72.8 749.3 L72.5 749.3 L72.3 749.3 L72.2 749.4 L72.1 749.4 L72.0 749.4 Z" fill="none" stroke="#dba5a3" stroke-width="1.60" stroke-linejoin="round"/>
<path d="M72.0 745.0 L72.1 744.8 L72.2 744.5 L72.3 744.2 L72.5 743.8 L72.8 743.2 L73.0 742.6 L73.3 741.9 L73.6 741.2 L74.0 740.3 L74.5 739.1 L75.0 738.0 L75.5 736.9 L76.0 735.8 L77.0 733.6 L78.0 731.5 L79.0 729.4 L80.0 727.3 L81.0 725.3 L82.0 723.3 L84.0 719.5 L86.0 715.9 L88.0 712.4 L90.0 709.0 L92.0 705.8 L95.0 701.2 L96.0 699.7 L98.0 696.9 L100.0 694.2 L102.0 691.6 L104.0 689.1 L107.0 685.5 L108.0 684.3 L112.0 680.0 L116.0 676.0 L117.0 675.0 L120.0 672.2 L122.0 670.5 L124.0 668.8 L128.0 665.7 L132.0 662.7 L134.0 661.3 L136.0 660.0 L140.0 657.5 L142.0 656.3 L144.0 655.2 L148.0 653.0 L152.0 651.0 L156.0 649.1 L160.0 647.3 L164.0 645.7 L168.0 644.2 L172.0 642.7 L176.0 641.4 L180.0 640.1 L184.0 638.9 L188.0 637.8 L192.0 636.8 L196.0 635.8 L200.0 634.8 L204.0 633.9 L208.0 633.0 L212.0 632.2 L216.0 631.4 L220.0 630.7 L224.0 630.0 L228.0 629.3 L232.0 628.6 L236.0 628.0 L240.0 627.4 L244.0 626.8 L248.0 626.2 L252.0 625.6 L256.0 625.1 L260.0 624.5 L264.0 624.0 L268.0 623.4 L272.0 622.9 L276.0 622.4 L280.0 621.8 L284.0 621.3 L288.0 620.8 L292.0 620.3 L296.0 619.7 L300.0 619.2 L304.0 618.7 L308.0 618.2 L312.0 617.7 L316.0 617.2 L320.0 616.7 L324.0 616.2 L328.0 615.7 L332.0 615.2 L336.0 614.7 L340.0 614.3 L344.0 613.8 L348.0 613.3 L352.0 612.8 L356.0 612.4 L360.0 611.9 L364.0 611.4 L368.0 610.9 L372.0 610.4 L376.0 609.9 L380.0 609.4 L384.0 609.0 L388.0 608.5 L392.0 608.0 L396.0 607.5 L400.0 607.1 L404.0 606.6 L408.0 606.1 L412.0 605.7 L416.0 605.2 L420.0 604.8 L424.0 604.4 L428.0 603.9 L432.0 603.5 L436.0 603.1 L440.0 602.7 L444.0 602.3 L448.0 602.0 L452.0 601.6 L456.0 601.2 L460.0 600.9 L464.0 600.5 L468.0 600.1 L472.0 599.8 L476.0 599.4 L480.0 599.1 L484.0 598.8 L488.0 598.4 L492.0 598.1 L496.0 597.8 L500.0 597.5 L504.0 597.2 L508.0 596.9 L512.0 596.6 L514.6 596.4 L516.0 596.3 L520.0 596.0 L522.6 595.8 L524.0 595.7 L528.0 595.4 L528.6 595.4 L532.0 595.1 L534.6 594.9 L536.0 594.8 L539.6 594.6 L540.0 594.5 L544.0 594.3 L544.6 594.2 L548.0 594.0 L549.6 593.9 L552.0 593.7 L554.6 593.6 L556.0 593.5 L558.6 593.3 L560.0 593.2 L561.6 593.1 L564.0 593.0 L564.6 592.9 L566.6 592.8 L568.0 592.7 L568.6 592.7 L570.6 592.5 L572.0 592.5 L572.6 592.4 L574.6 592.3 L575.6 592.2 L576.0 592.2 L576.6 592.2 L577.6 592.1 L578.6 592.1 L579.6 592.0 L580.0 592.0 L580.6 591.9 L581.1 591.9 L581.6 591.9 L582.1 591.8 L582.6 591.8 L583.0 591.8 L583.3 591.8 L583.6 591.8 L583.9 591.7 L584.0 591.7 L584.1 591.7 L584.2 591.7 L584.4 591.7 L584.5 591.7 L584.6 591.7 L584.6 591.7 L584.5 592.0 L584.4 592.3 L584.2 592.7 L584.1 593.1 L584.0 593.3 L583.9 593.8 L583.6 594.4 L583.3 595.2 L583.0 596.0 L582.6 597.1 L582.1 598.4 L581.6 599.7 L581.1 601.0 L580.6 602.2 L580.0 603.7 L579.6 604.7 L578.6 607.2 L577.6 609.5 L576.6 611.9 L576.0 613.2 L575.6 614.1 L574.6 616.4 L572.6 620.7 L572.0 621.9 L570.6 624.8 L568.6 628.8 L568.0 629.9 L566.6 632.6 L564.6 636.3 L564.0 637.4 L561.6 641.6 L560.0 644.3 L558.6 646.6 L556.0 650.7 L554.6 652.8 L552.0 656.7 L549.6 660.1 L548.0 662.3 L544.6 666.8 L544.0 667.6 L540.0 672.6 L539.6 673.1 L536.0 677.3 L534.6 678.9 L532.0 681.7 L528.6 685.3 L528.0 685.9 L524.0 689.9 L522.6 691.3 L520.0 693.7 L516.0 697.3 L514.6 698.5 L512.0 700.7 L508.0 704.0 L504.0 707.1 L500.0 710.0 L496.0 712.8 L492.0 715.4 L488.0 717.9 L484.0 720.3 L480.0 722.6 L476.0 724.8 L472.0 726.8 L468.0 728.8 L464.0 730.6 L460.0 732.4 L456.0 734.1 L452.0 735.7 L448.0 737.2 L444.0 738.6 L440.0 740.0 L436.0 741.3 L432.0 742.5 L428.0 743.6 L424.0 744.6 L420.0 745.6 L416.0 746.5 L412.0 747.3 L408.0 748.1 L404.0 748.8 L400.0 749.5 L396.0 750.1 L392.0 750.7 L388.0 751.2 L384.0 751.7 L380.0 752.1 L376.0 752.6 L372.0 752.9 L368.0 753.3 L364.0 753.6 L360.0 753.9 L356.0 754.2 L352.0 754.5 L348.0 754.7 L344.0 755.0 L340.0 755.2 L336.0 755.4 L332.0 755.6 L328.0 755.8 L324.0 755.9 L320.0 756.0 L316.0 756.2 L312.0 756.3 L308.0 756.3 L304.0 756.4 L300.0 756.5 L296.0 756.5 L292.0 756.6 L288.0 756.6 L284.0 756.6 L280.0 756.7 L276.0 756.7 L272.0 756.7 L268.0 756.7 L264.0 756.7 L260.0 756.7 L256.0 756.8 L252.0 756.8 L248.0 756.8 L244.0 756.8 L240.0 756.8 L236.0 756.8 L232.0 756.8 L228.0 756.8 L224.0 756.7 L220.0 756.7 L216.0 756.6 L212.0 756.5 L208.0 756.4 L204.0 756.2 L200.0 756.1 L196.0 755.9 L192.0 755.7 L188.0 755.5 L184.0 755.3 L180.0 755.1 L176.0 754.8 L172.0 754.6 L168.0 754.3 L164.0 754.1 L160.0 753.8 L156.0 753.6 L152.0 753.4 L148.0 753.1 L144.0 752.9 L142.0 752.8 L140.0 752.7 L136.0 752.5 L134.0 752.4 L132.0 752.3 L128.0 752.1 L124.0 751.9 L122.0 751.8 L120.0 751.7 L117.0 751.5 L116.0 751.5 L112.0 751.3 L108.0 751.1 L107.0 751.0 L104.0 750.9 L102.0 750.8 L100.0 750.7 L98.0 750.6 L96.0 750.5 L95.0 750.4 L92.0 750.3 L90.0 750.2 L88.0 750.1 L86.0 750.0 L84.0 749.9 L82.0 749.8 L81.0 749.8 L80.0 749.7 L79.0 749.7 L78.0 749.6 L77.0 749.6 L76.0 749.5 L75.5 749.5 L75.0 749.5 L74.5 749.5 L74.0 749.4 L73.6 749.4 L73.3 749.4 L73.0 749.4 L72.8 749.4 L72.5 749.4 L72.3 749.4 L72.2 749.4 L72.1 749.4 L72.0 749.4 Z" fill="none" stroke="#a9bfdf" stroke-width="1.60" stroke-linejoin="round"/>
<path d="M72.0 748.0 L72.1 745.9 L72.2 743.9 L72.3 741.3 L72.5 738.9 L72.8 735.4 L73.0 732.4 L73.3 729.3 L73.6 726.7 L74.0 723.7 L74.5 720.5 L75.0 717.8 L75.5 715.2 L76.0 712.9 L77.0 708.7 L78.0 704.7 L79.0 701.0 L80.0 697.5 L81.0 694.2 L82.0 691.0 L84.0 685.1 L86.0 679.8 L88.0 675.0 L90.0 670.7 L92.0 666.7 L95.0 661.5 L96.0 659.9 L98.0 657.0 L100.0 654.4 L102.0 651.9 L104.0 649.7 L107.0 646.8 L108.0 645.9 L112.0 642.7 L116.0 640.1 L117.0 639.5 L120.0 637.8 L122.0 636.8 L124.0 635.9 L128.0 634.3 L132.0 632.9 L134.0 632.3 L136.0 631.7 L140.0 630.6 L142.0 630.1 L144.0 629.7 L148.0 628.8 L152.0 628.1 L156.0 627.4 L160.0 626.8 L164.0 626.3 L168.0 625.8 L172.0 625.3 L176.0 624.8 L180.0 624.4 L184.0 623.9 L188.0 623.5 L192.0 623.0 L196.0 622.6 L200.0 622.1 L204.0 621.7 L208.0 621.2 L212.0 620.7 L216.0 620.2 L220.0 619.6 L224.0 618.9 L228.0 618.3 L232.0 617.7 L236.0 617.1 L240.0 616.5 L244.0 616.0 L248.0 615.5 L252.0 615.0 L256.0 614.5 L260.0 614.0 L264.0 613.6 L268.0 613.1 L272.0 612.7 L276.0 612.2 L280.0 611.8 L284.0 611.4 L288.0 610.9 L292.0 610.5 L296.0 610.1 L300.0 609.7 L304.0 609.2 L308.0 608.8 L312.0 608.4 L316.0 608.0 L320.0 607.6 L324.0 607.2 L328.0 606.8 L332.0 606.3 L336.0 605.9 L340.0 605.5 L344.0 605.1 L348.0 604.7 L352.0 604.2 L356.0 603.8 L360.0 603.4 L364.0 603.0 L368.0 602.6 L372.0 602.2 L376.0 601.8 L380.0 601.4 L384.0 601.0 L388.0 600.6 L392.0 600.2 L396.0 599.8 L400.0 599.4 L404.0 599.0 L408.0 598.6 L412.0 598.1 L416.0 597.7 L420.0 597.3 L424.0 596.9 L428.0 596.4 L432.0 596.0 L436.0 595.6 L440.0 595.1 L444.0 594.6 L448.0 594.2 L452.0 593.7 L456.0 593.2 L460.0 592.7 L464.0 592.2 L468.0 591.6 L472.0 591.1 L476.0 590.6 L480.0 590.1 L484.0 589.6 L488.0 589.0 L492.0 588.5 L496.0 588.0 L500.0 587.5 L504.0 587.1 L508.0 586.6 L512.0 586.1 L514.6 585.9 L516.0 585.7 L520.0 585.3 L522.6 585.0 L524.0 584.8 L528.0 584.4 L528.6 584.3 L532.0 583.9 L534.6 583.7 L536.0 583.5 L539.6 583.1 L540.0 583.1 L544.0 582.7 L544.6 582.6 L548.0 582.2 L549.6 582.0 L552.0 581.8 L554.6 581.5 L556.0 581.3 L558.6 581.1 L560.0 580.9 L561.6 580.7 L564.0 580.5 L564.6 580.4 L566.6 580.2 L568.0 580.0 L568.6 580.0 L570.6 579.7 L572.0 579.6 L572.6 579.5 L574.6 579.3 L575.6 579.2 L576.0 579.1 L576.6 579.1 L577.6 579.0 L578.6 578.9 L579.6 578.7 L580.0 578.7 L580.6 578.6 L581.1 578.6 L581.6 578.5 L582.1 578.5 L582.6 578.4 L583.0 578.4 L583.3 578.3 L583.6 578.3 L583.9 578.3 L584.0 578.3 L584.1 578.3 L584.2 578.2 L584.4 578.2 L584.5 578.2 L584.6 578.2 L584.6 578.2 L584.5 579.6 L584.4 580.9 L584.2 582.8 L584.1 584.6 L584.0 585.8 L583.9 587.5 L583.6 590.1 L583.3 593.0 L583.0 595.7 L582.6 598.9 L582.1 602.5 L581.6 605.8 L581.1 608.7 L580.6 611.5 L580.0 614.5 L579.6 616.4 L578.6 620.8 L577.6 624.9 L576.6 628.7 L576.0 630.9 L575.6 632.4 L574.6 635.9 L572.6 642.6 L572.0 644.5 L570.6 648.9 L568.6 654.9 L568.0 656.6 L566.6 660.6 L564.6 666.0 L564.0 667.6 L561.6 673.6 L560.0 677.4 L558.6 680.7 L556.0 686.4 L554.6 689.3 L552.0 694.5 L549.6 699.0 L548.0 701.8 L544.6 707.5 L544.0 708.5 L540.0 714.5 L539.6 715.0 L536.0 719.9 L534.6 721.7 L532.0 724.8 L528.6 728.6 L528.0 729.2 L524.0 733.3 L522.6 734.6 L520.0 736.9 L516.0 740.2 L514.6 741.3 L512.0 743.2 L508.0 745.8 L504.0 748.2 L500.0 750.4 L496.0 752.4 L492.0 754.1 L488.0 755.7 L484.0 757.1 L480.0 758.4 L476.0 759.6 L472.0 760.6 L468.0 761.5 L464.0 762.4 L460.0 763.1 L456.0 763.8 L452.0 764.4 L448.0 764.9 L444.0 765.4 L440.0 765.8 L436.0 766.1 L432.0 766.4 L428.0 766.7 L424.0 766.9 L420.0 767.2 L416.0 767.3 L412.0 767.5 L408.0 767.6 L404.0 767.7 L400.0 767.8 L396.0 767.9 L392.0 768.0 L388.0 768.0 L384.0 768.1 L380.0 768.1 L376.0 768.1 L372.0 768.1 L368.0 768.1 L364.0 768.0 L360.0 768.0 L356.0 767.9 L352.0 767.9 L348.0 767.8 L344.0 767.7 L340.0 767.6 L336.0 767.5 L332.0 767.4 L328.0 767.3 L324.0 767.1 L320.0 767.0 L316.0 766.8 L312.0 766.6 L308.0 766.5 L304.0 766.3 L300.0 766.1 L296.0 765.9 L292.0 765.7 L288.0 765.4 L284.0 765.2 L280.0 765.0 L276.0 764.7 L272.0 764.5 L268.0 764.3 L264.0 764.0 L260.0 763.8 L256.0 763.5 L252.0 763.3 L248.0 763.0 L244.0 762.7 L240.0 762.5 L236.0 762.2 L232.0 761.9 L228.0 761.6 L224.0 761.2 L220.0 760.9 L216.0 760.5 L212.0 760.1 L208.0 759.8 L204.0 759.4 L200.0 759.0 L196.0 758.6 L192.0 758.2 L188.0 757.8 L184.0 757.4 L180.0 757.0 L176.0 756.6 L172.0 756.2 L168.0 755.9 L164.0 755.6 L160.0 755.2 L156.0 754.9 L152.0 754.7 L148.0 754.4 L144.0 754.2 L142.0 754.1 L140.0 754.0 L136.0 753.8 L134.0 753.8 L132.0 753.7 L128.0 753.5 L124.0 753.4 L122.0 753.3 L120.0 753.2 L117.0 753.1 L116.0 753.1 L112.0 752.9 L108.0 752.8 L107.0 752.7 L104.0 752.6 L102.0 752.6 L100.0 752.5 L98.0 752.5 L96.0 752.4 L95.0 752.4 L92.0 752.3 L90.0 752.3 L88.0 752.2 L86.0 752.2 L84.0 752.2 L82.0 752.1 L81.0 752.1 L80.0 752.1 L79.0 752.1 L78.0 752.1 L77.0 752.0 L76.0 752.0 L75.5 752.0 L75.0 752.0 L74.5 752.0 L74.0 752.0 L73.6 752.0 L73.3 752.0 L73.0 752.0 L72.8 752.0 L72.5 752.0 L72.3 752.0 L72.2 752.0 L72.1 752.0 L72.0 752.0 Z" fill="none" stroke="#f79646" stroke-width="1.60" stroke-linejoin="round"/>
<path d="M72.0 752.0 L72.1 745.2 L72.2 738.9 L72.3 730.6 L72.5 723.3 L72.8 713.1 L73.0 705.0 L73.3 697.2 L73.6 691.1 L74.0 684.8 L74.5 679.1 L75.0 674.8 L75.5 671.5 L76.0 668.7 L77.0 664.4 L78.0 660.8 L79.0 657.7 L80.0 655.0 L81.0 652.5 L82.0 650.2 L84.0 646.3 L86.0 643.0 L88.0 640.3 L90.0 638.0 L92.0 636.0 L95.0 633.7 L96.0 633.0 L98.0 631.8 L100.0 630.8 L102.0 629.9 L104.0 629.1 L107.0 628.1 L108.0 627.8 L112.0 626.7 L116.0 625.8 L117.0 625.6 L120.0 625.0 L122.0 624.6 L124.0 624.3 L128.0 623.7 L132.0 623.1 L134.0 622.8 L136.0 622.5 L140.0 622.0 L142.0 621.7 L144.0 621.5 L148.0 621.0 L152.0 620.6 L156.0 620.1 L160.0 619.7 L164.0 619.3 L168.0 618.9 L172.0 618.5 L176.0 618.1 L180.0 617.7 L184.0 617.3 L188.0 616.9 L192.0 616.5 L196.0 616.2 L200.0 615.8 L204.0 615.4 L208.0 615.0 L212.0 614.7 L216.0 614.3 L220.0 613.9 L224.0 613.5 L228.0 613.1 L232.0 612.7 L236.0 612.3 L240.0 611.9 L244.0 611.5 L248.0 611.1 L252.0 610.6 L256.0 610.2 L260.0 609.8 L264.0 609.3 L268.0 608.9 L272.0 608.5 L276.0 608.0 L280.0 607.6 L284.0 607.2 L288.0 606.7 L292.0 606.3 L296.0 605.9 L300.0 605.4 L304.0 605.0 L308.0 604.5 L312.0 604.1 L316.0 603.6 L320.0 603.2 L324.0 602.8 L328.0 602.3 L332.0 601.9 L336.0 601.4 L340.0 601.0 L344.0 600.6 L348.0 600.1 L352.0 599.7 L356.0 599.3 L360.0 598.8 L364.0 598.4 L368.0 598.0 L372.0 597.6 L376.0 597.2 L380.0 596.7 L384.0 596.3 L388.0 595.9 L392.0 595.4 L396.0 595.0 L400.0 594.6 L404.0 594.1 L408.0 593.7 L412.0 593.3 L416.0 592.8 L420.0 592.4 L424.0 591.9 L428.0 591.4 L432.0 591.0 L436.0 590.5 L440.0 590.0 L444.0 589.5 L448.0 589.0 L452.0 588.5 L456.0 588.0 L460.0 587.5 L464.0 587.0 L468.0 586.5 L472.0 586.0 L476.0 585.5 L480.0 585.0 L484.0 584.4 L488.0 583.8 L492.0 583.2 L496.0 582.6 L500.0 582.0 L504.0 581.4 L508.0 580.7 L512.0 580.0 L514.6 579.5 L516.0 579.2 L520.0 578.4 L522.6 577.9 L524.0 577.6 L528.0 576.8 L528.6 576.6 L532.0 575.9 L534.6 575.3 L536.0 575.0 L539.6 574.2 L540.0 574.1 L544.0 573.2 L544.6 573.1 L548.0 572.3 L549.6 572.0 L552.0 571.4 L554.6 570.9 L556.0 570.5 L558.6 570.0 L560.0 569.6 L561.6 569.3 L564.0 568.7 L564.6 568.6 L566.6 568.1 L568.0 567.8 L568.6 567.6 L570.6 567.2 L572.0 566.8 L572.6 566.7 L574.6 566.2 L575.6 566.0 L576.0 565.9 L576.6 565.7 L577.6 565.5 L578.6 565.3 L579.6 565.0 L580.0 564.9 L580.6 564.8 L581.1 564.7 L581.6 564.5 L582.1 564.4 L582.6 564.3 L583.0 564.2 L583.3 564.1 L583.6 564.0 L583.9 564.0 L584.0 563.9 L584.1 563.9 L584.2 563.9 L584.4 563.8 L584.5 563.8 L584.6 563.8 L584.6 563.8 L584.5 566.1 L584.4 568.4 L584.2 571.8 L584.1 575.0 L584.0 577.0 L583.9 580.0 L583.6 584.8 L583.3 590.2 L583.0 595.2 L582.6 601.3 L582.1 608.3 L581.6 614.5 L581.1 620.2 L580.6 625.4 L580.0 631.0 L579.6 634.4 L578.6 642.1 L577.6 648.8 L576.6 654.8 L576.0 658.1 L575.6 660.2 L574.6 665.2 L572.6 674.0 L572.0 676.5 L570.6 681.8 L568.6 688.9 L568.0 690.9 L566.6 695.4 L564.6 701.3 L564.0 703.0 L561.6 709.4 L560.0 713.4 L558.6 716.7 L556.0 722.3 L554.6 725.1 L552.0 730.0 L549.6 734.1 L548.0 736.6 L544.6 741.5 L544.0 742.3 L540.0 747.2 L539.6 747.7 L536.0 751.4 L534.6 752.8 L532.0 755.1 L528.6 757.8 L528.0 758.3 L524.0 761.0 L522.6 761.8 L520.0 763.3 L516.0 765.3 L514.6 766.0 L512.0 767.0 L508.0 768.5 L504.0 769.7 L500.0 770.8 L496.0 771.6 L492.0 772.4 L488.0 773.0 L484.0 773.5 L480.0 773.9 L476.0 774.3 L472.0 774.6 L468.0 774.8 L464.0 775.0 L460.0 775.2 L456.0 775.3 L452.0 775.4 L448.0 775.4 L444.0 775.5 L440.0 775.5 L436.0 775.4 L432.0 775.4 L428.0 775.3 L424.0 775.2 L420.0 775.1 L416.0 775.0 L412.0 774.8 L408.0 774.6 L404.0 774.4 L400.0 774.1 L396.0 773.9 L392.0 773.6 L388.0 773.2 L384.0 772.9 L380.0 772.6 L376.0 772.2 L372.0 771.8 L368.0 771.5 L364.0 771.1 L360.0 770.7 L356.0 770.4 L352.0 770.0 L348.0 769.7 L344.0 769.3 L340.0 769.0 L336.0 768.7 L332.0 768.3 L328.0 768.0 L324.0 767.7 L320.0 767.3 L316.0 767.0 L312.0 766.7 L308.0 766.3 L304.0 766.0 L300.0 765.7 L296.0 765.3 L292.0 765.0 L288.0 764.7 L284.0 764.4 L280.0 764.1 L276.0 763.8 L272.0 763.4 L268.0 763.1 L264.0 762.9 L260.0 762.6 L256.0 762.3 L252.0 762.0 L248.0 761.7 L244.0 761.5 L240.0 761.2 L236.0 760.9 L232.0 760.7 L228.0 760.4 L224.0 760.2 L220.0 759.9 L216.0 759.6 L212.0 759.3 L208.0 759.0 L204.0 758.7 L200.0 758.3 L196.0 758.0 L192.0 757.6 L188.0 757.2 L184.0 756.8 L180.0 756.4 L176.0 756.0 L172.0 755.7 L168.0 755.3 L164.0 755.0 L160.0 754.7 L156.0 754.5 L152.0 754.3 L148.0 754.1 L144.0 754.0 L142.0 754.0 L140.0 754.0 L136.0 754.0 L134.0 754.0 L132.0 754.0 L128.0 754.0 L124.0 754.0 L122.0 754.0 L120.0 754.0 L117.0 754.0 L116.0 754.0 L112.0 754.0 L108.0 754.0 L107.0 754.0 L104.0 754.0 L102.0 754.0 L100.0 754.0 L98.0 754.0 L96.0 754.0 L95.0 754.0 L92.0 754.0 L90.0 754.0 L88.0 754.0 L86.0 754.0 L84.0 754.0 L82.0 754.0 L81.0 754.0 L80.0 754.0 L79.0 754.0 L78.0 754.0 L77.0 754.0 L76.0 754.0 L75.5 754.0 L75.0 754.0 L74.5 754.0 L74.0 754.0 L73.6 754.0 L73.3 754.0 L73.0 754.0 L72.8 754.0 L72.5 754.0 L72.3 754.0 L72.2 754.0 L72.1 754.0 L72.0 754.0 Z" fill="none" stroke="#4bacc6" stroke-width="1.60" stroke-linejoin="round"/>
<path d="M72.0 755.0 L72.1 738.3 L72.2 725.8 L72.3 712.2 L72.5 702.7 L72.8 692.2 L73.0 685.1 L73.3 678.8 L73.6 673.6 L74.0 667.8 L74.5 661.6 L75.0 656.4 L75.5 652.0 L76.0 648.2 L77.0 642.2 L78.0 637.8 L79.0 634.6 L80.0 632.1 L81.0 630.3 L82.0 628.9 L84.0 626.9 L86.0 625.6 L88.0 624.7 L90.0 624.0 L92.0 623.5 L95.0 623.0 L96.0 622.9 L98.0 622.7 L100.0 622.6 L102.0 622.4 L104.0 622.3 L107.0 622.1 L108.0 622.0 L112.0 621.8 L116.0 621.6 L117.0 621.6 L120.0 621.5 L122.0 621.4 L124.0 621.3 L128.0 621.2 L132.0 621.0 L134.0 620.9 L136.0 620.7 L140.0 620.5 L142.0 620.3 L144.0 620.1 L148.0 619.8 L152.0 619.4 L156.0 618.9 L160.0 618.5 L164.0 618.0 L168.0 617.5 L172.0 616.9 L176.0 616.4 L180.0 615.8 L184.0 615.2 L188.0 614.6 L192.0 614.0 L196.0 613.4 L200.0 612.7 L204.0 612.1 L208.0 611.5 L212.0 610.9 L216.0 610.3 L220.0 609.7 L224.0 609.1 L228.0 608.6 L232.0 608.0 L236.0 607.5 L240.0 607.0 L244.0 606.5 L248.0 606.0 L252.0 605.6 L256.0 605.1 L260.0 604.7 L264.0 604.2 L268.0 603.7 L272.0 603.3 L276.0 602.9 L280.0 602.4 L284.0 602.0 L288.0 601.5 L292.0 601.1 L296.0 600.7 L300.0 600.3 L304.0 599.8 L308.0 599.4 L312.0 599.0 L316.0 598.6 L320.0 598.1 L324.0 597.7 L328.0 597.3 L332.0 596.9 L336.0 596.4 L340.0 596.0 L344.0 595.6 L348.0 595.2 L352.0 594.8 L356.0 594.4 L360.0 594.0 L364.0 593.6 L368.0 593.3 L372.0 592.9 L376.0 592.5 L380.0 592.2 L384.0 591.8 L388.0 591.4 L392.0 591.0 L396.0 590.7 L400.0 590.3 L404.0 589.9 L408.0 589.4 L412.0 589.0 L416.0 588.6 L420.0 588.1 L424.0 587.6 L428.0 587.1 L432.0 586.6 L436.0 586.1 L440.0 585.5 L444.0 584.9 L448.0 584.2 L452.0 583.6 L456.0 582.8 L460.0 582.0 L464.0 581.2 L468.0 580.4 L472.0 579.5 L476.0 578.6 L480.0 577.7 L484.0 576.7 L488.0 575.7 L492.0 574.7 L496.0 573.7 L500.0 572.7 L504.0 571.6 L508.0 570.5 L512.0 569.4 L514.6 568.6 L516.0 568.2 L520.0 566.9 L522.6 566.1 L524.0 565.6 L528.0 564.3 L528.6 564.0 L532.0 562.9 L534.6 561.9 L536.0 561.5 L539.6 560.2 L540.0 560.0 L544.0 558.6 L544.6 558.4 L548.0 557.1 L549.6 556.6 L552.0 555.7 L554.6 554.8 L556.0 554.3 L558.6 553.4 L560.0 552.9 L561.6 552.3 L564.0 551.4 L564.6 551.1 L566.6 550.4 L568.0 549.8 L568.6 549.5 L570.6 548.6 L572.0 548.0 L572.6 547.7 L574.6 546.7 L575.6 546.2 L576.0 546.0 L576.6 545.6 L577.6 545.1 L578.6 544.5 L579.6 543.9 L580.0 543.7 L580.6 543.3 L581.1 543.0 L581.6 542.7 L582.1 542.4 L582.6 542.1 L583.0 541.8 L583.3 541.6 L583.6 541.4 L583.9 541.3 L584.0 541.2 L584.1 541.1 L584.2 541.0 L584.4 540.9 L584.5 540.9 L584.6 540.8 L584.6 540.8 L584.5 551.6 L584.4 560.7 L584.2 572.1 L584.1 581.3 L584.0 586.5 L583.9 593.2 L583.6 602.2 L583.3 610.7 L583.0 617.7 L582.6 625.7 L582.1 634.5 L581.6 642.6 L581.1 650.0 L580.6 657.0 L580.0 665.0 L579.6 669.9 L578.6 681.5 L577.6 691.8 L576.6 701.0 L576.0 706.1 L575.6 709.2 L574.6 716.6 L572.6 729.2 L572.0 732.4 L570.6 739.2 L568.6 747.2 L568.0 749.3 L566.6 753.7 L564.6 758.8 L564.0 760.1 L561.6 764.7 L560.0 767.1 L558.6 768.9 L556.0 771.5 L554.6 772.7 L552.0 774.4 L549.6 775.6 L548.0 776.2 L544.6 777.3 L544.0 777.4 L540.0 778.2 L539.6 778.2 L536.0 778.6 L534.6 778.8 L532.0 778.9 L528.6 779.1 L528.0 779.1 L524.0 779.3 L522.6 779.3 L520.0 779.4 L516.0 779.4 L514.6 779.4 L512.0 779.4 L508.0 779.5 L504.0 779.5 L500.0 779.5 L496.0 779.5 L492.0 779.6 L488.0 779.6 L484.0 779.6 L480.0 779.6 L476.0 779.6 L472.0 779.5 L468.0 779.4 L464.0 779.1 L460.0 778.9 L456.0 778.6 L452.0 778.2 L448.0 777.9 L444.0 777.6 L440.0 777.3 L436.0 777.0 L432.0 776.7 L428.0 776.4 L424.0 776.1 L420.0 775.8 L416.0 775.5 L412.0 775.2 L408.0 774.8 L404.0 774.5 L400.0 774.2 L396.0 773.8 L392.0 773.5 L388.0 773.1 L384.0 772.8 L380.0 772.4 L376.0 772.1 L372.0 771.7 L368.0 771.4 L364.0 771.0 L360.0 770.7 L356.0 770.3 L352.0 770.0 L348.0 769.7 L344.0 769.3 L340.0 769.0 L336.0 768.7 L332.0 768.3 L328.0 768.0 L324.0 767.7 L320.0 767.3 L316.0 767.0 L312.0 766.7 L308.0 766.3 L304.0 766.0 L300.0 765.7 L296.0 765.3 L292.0 765.0 L288.0 764.7 L284.0 764.4 L280.0 764.1 L276.0 763.8 L272.0 763.4 L268.0 763.1 L264.0 762.9 L260.0 762.6 L256.0 762.3 L252.0 762.0 L248.0 761.7 L244.0 761.5 L240.0 761.2 L236.0 760.9 L232.0 760.7 L228.0 760.4 L224.0 760.2 L220.0 759.9 L216.0 759.6 L212.0 759.3 L208.0 759.0 L204.0 758.7 L200.0 758.4 L196.0 758.1 L192.0 757.7 L188.0 757.4 L184.0 757.1 L180.0 756.7 L176.0 756.4 L172.0 756.1 L168.0 755.7 L164.0 755.4 L160.0 755.1 L156.0 754.9 L152.0 754.6 L148.0 754.4 L144.0 754.2 L142.0 754.1 L140.0 754.0 L136.0 753.9 L134.0 753.8 L132.0 753.7 L128.0 753.6 L124.0 753.4 L122.0 753.4 L120.0 753.3 L117.0 753.2 L116.0 753.2 L112.0 753.1 L108.0 753.0 L107.0 753.0 L104.0 753.0 L102.0 753.0 L100.0 753.0 L98.0 753.1 L96.0 753.1 L95.0 753.2 L92.0 753.3 L90.0 753.4 L88.0 753.5 L86.0 753.7 L84.0 753.8 L82.0 754.0 L81.0 754.1 L80.0 754.2 L79.0 754.3 L78.0 754.4 L77.0 754.5 L76.0 754.6 L75.5 754.6 L75.0 754.7 L74.5 754.7 L74.0 754.8 L73.6 754.8 L73.3 754.9 L73.0 754.9 L72.8 754.9 L72.5 754.9 L72.3 755.0 L72.2 755.0 L72.1 755.0 L72.0 755.0 Z" fill="none" stroke="#6f55a0" stroke-width="1.60" stroke-linejoin="round"/>
<path d="M72.0 755.0 L72.1 744.0 L72.2 735.0 L72.3 724.2 L72.5 715.8 L72.8 705.4 L73.0 697.6 L73.3 690.4 L73.6 684.5 L74.0 677.8 L74.5 670.8 L75.0 664.8 L75.5 659.6 L76.0 655.1 L77.0 647.8 L78.0 642.2 L79.0 637.9 L80.0 634.6 L81.0 632.1 L82.0 630.1 L84.0 627.4 L86.0 625.7 L88.0 624.6 L90.0 623.9 L92.0 623.5 L95.0 623.0 L96.0 622.8 L98.0 622.6 L100.0 622.4 L102.0 622.2 L104.0 622.0 L107.0 621.8 L108.0 621.8 L112.0 621.5 L116.0 621.3 L117.0 621.2 L120.0 621.1 L122.0 620.9 L124.0 620.8 L128.0 620.6 L132.0 620.3 L134.0 620.2 L136.0 620.0 L140.0 619.7 L142.0 619.5 L144.0 619.3 L148.0 618.8 L152.0 618.4 L156.0 617.9 L160.0 617.4 L164.0 616.9 L168.0 616.4 L172.0 615.8 L176.0 615.2 L180.0 614.7 L184.0 614.1 L188.0 613.5 L192.0 612.9 L196.0 612.3 L200.0 611.7 L204.0 611.0 L208.0 610.4 L212.0 609.8 L216.0 609.3 L220.0 608.7 L224.0 608.1 L228.0 607.6 L232.0 607.0 L236.0 606.5 L240.0 606.0 L244.0 605.5 L248.0 605.0 L252.0 604.6 L256.0 604.1 L260.0 603.7 L264.0 603.2 L268.0 602.8 L272.0 602.3 L276.0 601.9 L280.0 601.5 L284.0 601.0 L288.0 600.6 L292.0 600.2 L296.0 599.8 L300.0 599.4 L304.0 598.9 L308.0 598.5 L312.0 598.1 L316.0 597.7 L320.0 597.2 L324.0 596.8 L328.0 596.3 L332.0 595.9 L336.0 595.5 L340.0 595.0 L344.0 594.5 L348.0 594.1 L352.0 593.7 L356.0 593.3 L360.0 592.8 L364.0 592.4 L368.0 592.0 L372.0 591.6 L376.0 591.2 L380.0 590.8 L384.0 590.4 L388.0 590.0 L392.0 589.6 L396.0 589.1 L400.0 588.7 L404.0 588.2 L408.0 587.7 L412.0 587.2 L416.0 586.7 L420.0 586.1 L424.0 585.6 L428.0 585.0 L432.0 584.3 L436.0 583.7 L440.0 583.0 L444.0 582.2 L448.0 581.3 L452.0 580.3 L456.0 579.2 L460.0 578.1 L464.0 576.9 L468.0 575.7 L472.0 574.4 L476.0 573.2 L480.0 572.0 L484.0 570.8 L488.0 569.7 L492.0 568.5 L496.0 567.3 L500.0 566.1 L504.0 564.8 L508.0 563.5 L512.0 562.1 L514.6 561.1 L516.0 560.6 L520.0 559.1 L522.6 558.0 L524.0 557.5 L528.0 555.8 L528.6 555.5 L532.0 554.0 L534.6 552.8 L536.0 552.2 L539.6 550.4 L540.0 550.2 L544.0 548.1 L544.6 547.8 L548.0 545.9 L549.6 545.0 L552.0 543.5 L554.6 541.7 L556.0 540.7 L558.6 538.8 L560.0 537.8 L561.6 536.6 L564.0 534.7 L564.6 534.2 L566.6 532.7 L568.0 531.6 L568.6 531.1 L570.6 529.5 L572.0 528.4 L572.6 527.9 L574.6 526.3 L575.6 525.5 L576.0 525.2 L576.6 524.7 L577.6 523.8 L578.6 523.0 L579.6 522.1 L580.0 521.8 L580.6 521.3 L581.1 520.9 L581.6 520.4 L582.1 520.0 L582.6 519.6 L583.0 519.2 L583.3 518.9 L583.6 518.7 L583.9 518.5 L584.0 518.3 L584.1 518.2 L584.2 518.1 L584.4 518.0 L584.5 517.9 L584.6 517.8 L584.6 517.8 L584.5 535.1 L584.4 549.7 L584.2 567.7 L584.1 582.1 L584.0 590.1 L583.9 600.3 L583.6 613.8 L583.3 626.2 L583.0 636.0 L582.6 646.8 L582.1 658.2 L581.6 668.2 L581.1 677.2 L580.6 685.4 L580.0 694.4 L579.6 699.9 L578.6 712.1 L577.6 722.5 L576.6 731.2 L576.0 735.8 L575.6 738.6 L574.6 744.9 L572.6 754.7 L572.0 757.1 L570.6 761.7 L568.6 766.8 L568.0 768.0 L566.6 770.4 L564.6 773.0 L564.0 773.6 L561.6 775.5 L560.0 776.5 L558.6 777.1 L556.0 777.9 L554.6 778.3 L552.0 778.7 L549.6 779.0 L548.0 779.1 L544.6 779.3 L544.0 779.3 L540.0 779.4 L539.6 779.4 L536.0 779.4 L534.6 779.5 L532.0 779.5 L528.6 779.5 L528.0 779.5 L524.0 779.5 L522.6 779.5 L520.0 779.5 L516.0 779.5 L514.6 779.5 L512.0 779.5 L508.0 779.5 L504.0 779.5 L500.0 779.5 L496.0 779.6 L492.0 779.6 L488.0 779.6 L484.0 779.6 L480.0 779.6 L476.0 779.6 L472.0 779.5 L468.0 779.4 L464.0 779.1 L460.0 778.9 L456.0 778.6 L452.0 778.2 L448.0 777.9 L444.0 777.6 L440.0 777.3 L436.0 777.0 L432.0 776.7 L428.0 776.4 L424.0 776.1 L420.0 775.8 L416.0 775.5 L412.0 775.2 L408.0 774.8 L404.0 774.5 L400.0 774.2 L396.0 773.8 L392.0 773.5 L388.0 773.1 L384.0 772.8 L380.0 772.4 L376.0 772.1 L372.0 771.7 L368.0 771.4 L364.0 771.0 L360.0 770.7 L356.0 770.3 L352.0 770.0 L348.0 769.7 L344.0 769.3 L340.0 769.0 L336.0 768.7 L332.0 768.3 L328.0 768.0 L324.0 767.7 L320.0 767.3 L316.0 767.0 L312.0 766.7 L308.0 766.3 L304.0 766.0 L300.0 765.7 L296.0 765.3 L292.0 765.0 L288.0 764.7 L284.0 764.4 L280.0 764.1 L276.0 763.8 L272.0 763.4 L268.0 763.1 L264.0 762.9 L260.0 762.6 L256.0 762.3 L252.0 762.0 L248.0 761.7 L244.0 761.5 L240.0 761.2 L236.0 760.9 L232.0 760.7 L228.0 760.4 L224.0 760.2 L220.0 759.9 L216.0 759.6 L212.0 759.3 L208.0 759.0 L204.0 758.7 L200.0 758.4 L196.0 758.1 L192.0 757.7 L188.0 757.4 L184.0 757.1 L180.0 756.7 L176.0 756.4 L172.0 756.1 L168.0 755.7 L164.0 755.4 L160.0 755.1 L156.0 754.9 L152.0 754.6 L148.0 754.4 L144.0 754.2 L142.0 754.1 L140.0 754.0 L136.0 753.9 L134.0 753.8 L132.0 753.7 L128.0 753.6 L124.0 753.4 L122.0 753.4 L120.0 753.3 L117.0 753.2 L116.0 753.2 L112.0 753.1 L108.0 753.0 L107.0 753.0 L104.0 753.0 L102.0 753.0 L100.0 753.0 L98.0 753.1 L96.0 753.1 L95.0 753.2 L92.0 753.3 L90.0 753.4 L88.0 753.5 L86.0 753.7 L84.0 753.8 L82.0 754.0 L81.0 754.1 L80.0 754.2 L79.0 754.3 L78.0 754.4 L77.0 754.5 L76.0 754.6 L75.5 754.6 L75.0 754.7 L74.5 754.7 L74.0 754.8 L73.6 754.8 L73.3 754.9 L73.0 754.9 L72.8 754.9 L72.5 754.9 L72.3 755.0 L72.2 755.0 L72.1 755.0 L72.0 755.0 Z" fill="none" stroke="#4668ae" stroke-width="1.70" stroke-linejoin="round"/>
<path d="M72.0 758.0 L72.1 740.4 L72.2 727.2 L72.3 712.8 L72.5 702.9 L72.8 691.8 L73.0 684.4 L73.3 677.7 L73.6 672.3 L74.0 666.3 L74.5 659.9 L75.0 654.4 L75.5 649.9 L76.0 645.9 L77.0 639.8 L78.0 635.3 L79.0 632.1 L80.0 629.7 L81.0 627.9 L82.0 626.6 L84.0 624.8 L86.0 623.8 L88.0 623.1 L90.0 622.7 L92.0 622.4 L95.0 622.1 L96.0 622.0 L98.0 621.8 L100.0 621.7 L102.0 621.5 L104.0 621.4 L107.0 621.3 L108.0 621.2 L112.0 621.0 L116.0 620.8 L117.0 620.8 L120.0 620.6 L122.0 620.6 L124.0 620.5 L128.0 620.3 L132.0 620.0 L134.0 619.9 L136.0 619.8 L140.0 619.5 L142.0 619.3 L144.0 619.1 L148.0 618.7 L152.0 618.3 L156.0 617.8 L160.0 617.3 L164.0 616.8 L168.0 616.3 L172.0 615.7 L176.0 615.1 L180.0 614.5 L184.0 613.9 L188.0 613.3 L192.0 612.6 L196.0 612.0 L200.0 611.3 L204.0 610.7 L208.0 610.0 L212.0 609.4 L216.0 608.7 L220.0 608.1 L224.0 607.5 L228.0 606.9 L232.0 606.3 L236.0 605.7 L240.0 605.2 L244.0 604.7 L248.0 604.2 L252.0 603.6 L256.0 603.1 L260.0 602.6 L264.0 602.1 L268.0 601.6 L272.0 601.2 L276.0 600.7 L280.0 600.2 L284.0 599.7 L288.0 599.2 L292.0 598.7 L296.0 598.3 L300.0 597.8 L304.0 597.3 L308.0 596.8 L312.0 596.3 L316.0 595.9 L320.0 595.4 L324.0 594.9 L328.0 594.4 L332.0 594.0 L336.0 593.5 L340.0 593.0 L344.0 592.5 L348.0 592.1 L352.0 591.6 L356.0 591.2 L360.0 590.8 L364.0 590.4 L368.0 589.9 L372.0 589.5 L376.0 589.1 L380.0 588.7 L384.0 588.3 L388.0 587.9 L392.0 587.5 L396.0 587.1 L400.0 586.6 L404.0 586.1 L408.0 585.7 L412.0 585.2 L416.0 584.7 L420.0 584.1 L424.0 583.6 L428.0 583.0 L432.0 582.3 L436.0 581.7 L440.0 581.0 L444.0 580.3 L448.0 579.4 L452.0 578.6 L456.0 577.6 L460.0 576.6 L464.0 575.5 L468.0 574.4 L472.0 573.2 L476.0 572.0 L480.0 570.7 L484.0 569.3 L488.0 567.9 L492.0 566.5 L496.0 565.0 L500.0 563.5 L504.0 561.9 L508.0 560.3 L512.0 558.6 L514.6 557.4 L516.0 556.8 L520.0 554.8 L522.6 553.5 L524.0 552.7 L528.0 550.5 L528.6 550.2 L532.0 548.2 L534.6 546.6 L536.0 545.8 L539.6 543.4 L540.0 543.2 L544.0 540.5 L544.6 540.0 L548.0 537.6 L549.6 536.4 L552.0 534.6 L554.6 532.4 L556.0 531.2 L558.6 528.8 L560.0 527.4 L561.6 525.8 L564.0 523.3 L564.6 522.7 L566.6 520.5 L568.0 518.9 L568.6 518.2 L570.6 515.8 L572.0 514.1 L572.6 513.4 L574.6 510.7 L575.6 509.3 L576.0 508.7 L576.6 507.9 L577.6 506.3 L578.6 504.8 L579.6 503.2 L580.0 502.5 L580.6 501.5 L581.1 500.7 L581.6 499.9 L582.1 499.0 L582.6 498.2 L583.0 497.5 L583.3 497.0 L583.6 496.4 L583.9 496.0 L584.0 495.7 L584.1 495.6 L584.2 495.3 L584.4 495.0 L584.5 494.9 L584.6 494.7 L584.6 494.7 L584.5 518.8 L584.4 539.0 L584.2 563.7 L584.1 583.1 L584.0 593.8 L583.9 607.2 L583.6 624.4 L583.3 639.5 L583.0 651.0 L582.6 663.2 L582.1 675.4 L581.6 685.8 L581.1 694.9 L580.6 703.0 L580.0 711.8 L579.6 717.0 L578.6 728.4 L577.6 737.8 L576.6 745.4 L576.0 749.3 L575.6 751.7 L574.6 756.8 L572.6 764.5 L572.0 766.2 L570.6 769.6 L568.6 773.0 L568.0 773.8 L566.6 775.3 L564.6 776.9 L564.0 777.2 L561.6 778.3 L560.0 778.8 L558.6 779.1 L556.0 779.4 L554.6 779.6 L552.0 779.7 L549.6 779.8 L548.0 779.9 L544.6 779.9 L544.0 779.9 L540.0 780.0 L539.6 780.0 L536.0 780.0 L534.6 780.0 L532.0 780.0 L528.6 780.0 L528.0 780.0 L524.0 780.0 L522.6 780.0 L520.0 780.0 L516.0 780.0 L514.6 780.0 L512.0 780.0 L508.0 780.0 L504.0 780.0 L500.0 780.0 L496.0 780.0 L492.0 780.0 L488.0 780.0 L484.0 780.0 L480.0 780.0 L476.0 780.0 L472.0 779.9 L468.0 779.7 L464.0 779.5 L460.0 779.2 L456.0 778.9 L452.0 778.5 L448.0 778.1 L444.0 777.8 L440.0 777.5 L436.0 777.2 L432.0 776.9 L428.0 776.6 L424.0 776.3 L420.0 776.0 L416.0 775.6 L412.0 775.3 L408.0 775.0 L404.0 774.6 L400.0 774.3 L396.0 774.0 L392.0 773.6 L388.0 773.3 L384.0 773.0 L380.0 772.6 L376.0 772.3 L372.0 772.0 L368.0 771.6 L364.0 771.3 L360.0 771.0 L356.0 770.7 L352.0 770.4 L348.0 770.1 L344.0 769.8 L340.0 769.5 L336.0 769.2 L332.0 769.0 L328.0 768.7 L324.0 768.4 L320.0 768.1 L316.0 767.9 L312.0 767.6 L308.0 767.4 L304.0 767.1 L300.0 766.9 L296.0 766.6 L292.0 766.4 L288.0 766.1 L284.0 765.9 L280.0 765.7 L276.0 765.5 L272.0 765.3 L268.0 765.1 L264.0 764.9 L260.0 764.7 L256.0 764.6 L252.0 764.4 L248.0 764.3 L244.0 764.2 L240.0 764.0 L236.0 763.9 L232.0 763.8 L228.0 763.6 L224.0 763.5 L220.0 763.3 L216.0 763.1 L212.0 763.0 L208.0 762.7 L204.0 762.5 L200.0 762.2 L196.0 761.9 L192.0 761.6 L188.0 761.3 L184.0 761.0 L180.0 760.6 L176.0 760.3 L172.0 759.9 L168.0 759.5 L164.0 759.2 L160.0 758.8 L156.0 758.4 L152.0 758.1 L148.0 757.7 L144.0 757.4 L142.0 757.2 L140.0 757.1 L136.0 756.8 L134.0 756.7 L132.0 756.5 L128.0 756.3 L124.0 756.1 L122.0 756.0 L120.0 755.9 L117.0 755.8 L116.0 755.7 L112.0 755.6 L108.0 755.5 L107.0 755.5 L104.0 755.5 L102.0 755.5 L100.0 755.5 L98.0 755.6 L96.0 755.7 L95.0 755.7 L92.0 755.9 L90.0 756.1 L88.0 756.3 L86.0 756.4 L84.0 756.6 L82.0 756.9 L81.0 757.0 L80.0 757.1 L79.0 757.2 L78.0 757.3 L77.0 757.4 L76.0 757.5 L75.5 757.6 L75.0 757.7 L74.5 757.7 L74.0 757.8 L73.6 757.8 L73.3 757.9 L73.0 757.9 L72.8 757.9 L72.5 757.9 L72.3 758.0 L72.2 758.0 L72.1 758.0 L72.0 758.0 Z" fill="none" stroke="#88aa48" stroke-width="1.60" stroke-linejoin="round"/>
<path d="M72.0 760.4 L72.1 741.8 L72.2 727.8 L72.3 712.4 L72.5 701.6 L72.8 689.5 L73.0 681.2 L73.3 673.8 L73.6 667.8 L74.0 661.2 L74.5 654.4 L75.0 648.9 L75.5 644.3 L76.0 640.6 L77.0 635.0 L78.0 631.2 L79.0 628.6 L80.0 626.7 L81.0 625.5 L82.0 624.6 L84.0 623.4 L86.0 622.7 L88.0 622.3 L90.0 622.1 L92.0 621.9 L95.0 621.6 L96.0 621.6 L98.0 621.4 L100.0 621.3 L102.0 621.2 L104.0 621.1 L107.0 621.0 L108.0 620.9 L112.0 620.8 L116.0 620.6 L117.0 620.6 L120.0 620.5 L122.0 620.4 L124.0 620.3 L128.0 620.2 L132.0 620.0 L134.0 619.9 L136.0 619.7 L140.0 619.5 L142.0 619.3 L144.0 619.1 L148.0 618.8 L152.0 618.4 L156.0 617.9 L160.0 617.4 L164.0 616.9 L168.0 616.3 L172.0 615.7 L176.0 615.1 L180.0 614.5 L184.0 613.8 L188.0 613.1 L192.0 612.5 L196.0 611.8 L200.0 611.1 L204.0 610.4 L208.0 609.7 L212.0 609.0 L216.0 608.3 L220.0 607.6 L224.0 606.9 L228.0 606.3 L232.0 605.7 L236.0 605.1 L240.0 604.5 L244.0 603.9 L248.0 603.4 L252.0 602.9 L256.0 602.3 L260.0 601.8 L264.0 601.3 L268.0 600.7 L272.0 600.2 L276.0 599.7 L280.0 599.2 L284.0 598.7 L288.0 598.2 L292.0 597.7 L296.0 597.2 L300.0 596.7 L304.0 596.1 L308.0 595.6 L312.0 595.1 L316.0 594.6 L320.0 594.1 L324.0 593.6 L328.0 593.1 L332.0 592.6 L336.0 592.0 L340.0 591.5 L344.0 591.0 L348.0 590.5 L352.0 590.0 L356.0 589.5 L360.0 589.0 L364.0 588.5 L368.0 588.0 L372.0 587.5 L376.0 587.1 L380.0 586.6 L384.0 586.1 L388.0 585.6 L392.0 585.1 L396.0 584.6 L400.0 584.1 L404.0 583.6 L408.0 583.0 L412.0 582.5 L416.0 581.9 L420.0 581.3 L424.0 580.6 L428.0 580.0 L432.0 579.3 L436.0 578.6 L440.0 577.9 L444.0 577.1 L448.0 576.2 L452.0 575.3 L456.0 574.3 L460.0 573.2 L464.0 572.1 L468.0 571.0 L472.0 569.9 L476.0 568.7 L480.0 567.5 L484.0 566.3 L488.0 565.0 L492.0 563.6 L496.0 562.1 L500.0 560.5 L504.0 558.8 L508.0 556.9 L512.0 555.0 L514.6 553.6 L516.0 552.8 L520.0 550.5 L522.6 548.9 L524.0 548.0 L528.0 545.2 L528.6 544.8 L532.0 542.1 L534.6 539.9 L536.0 538.6 L539.6 535.2 L540.0 534.8 L544.0 530.7 L544.6 530.0 L548.0 526.0 L549.6 524.0 L552.0 520.7 L554.6 516.9 L556.0 514.7 L558.6 510.5 L560.0 508.2 L561.6 505.4 L564.0 500.8 L564.6 499.6 L566.6 495.4 L568.0 492.3 L568.6 490.9 L570.6 486.3 L572.0 482.8 L572.6 481.3 L574.6 476.0 L575.6 473.2 L576.0 472.0 L576.6 470.3 L577.6 467.3 L578.6 464.3 L579.6 461.2 L580.0 459.9 L580.6 457.9 L581.1 456.2 L581.6 454.5 L582.1 452.8 L582.6 451.1 L583.0 449.6 L583.3 448.6 L583.6 447.5 L583.9 446.6 L584.0 446.0 L584.1 445.7 L584.2 445.1 L584.4 444.6 L584.5 444.2 L584.6 443.8 L584.6 443.8 L584.5 477.5 L584.4 505.7 L584.2 539.5 L584.1 565.7 L584.0 579.9 L583.9 597.4 L583.6 619.1 L583.3 637.4 L583.0 650.5 L582.6 663.6 L582.1 676.3 L581.6 686.7 L581.1 695.7 L580.6 703.7 L580.0 712.3 L579.6 717.4 L578.6 728.6 L577.6 737.8 L576.6 745.3 L576.0 749.1 L575.6 751.5 L574.6 756.5 L572.6 764.0 L572.0 765.7 L570.6 769.0 L568.6 772.4 L568.0 773.2 L566.6 774.7 L564.6 776.2 L564.0 776.6 L561.6 777.6 L560.0 778.1 L558.6 778.4 L556.0 778.8 L554.6 779.0 L552.0 779.2 L549.6 779.3 L548.0 779.3 L544.6 779.4 L544.0 779.4 L540.0 779.4 L539.6 779.5 L536.0 779.5 L534.6 779.5 L532.0 779.5 L528.6 779.5 L528.0 779.5 L524.0 779.5 L522.6 779.5 L520.0 779.5 L516.0 779.5 L514.6 779.5 L512.0 779.5 L508.0 779.5 L504.0 779.4 L500.0 779.4 L496.0 779.3 L492.0 779.3 L488.0 779.2 L484.0 779.1 L480.0 779.0 L476.0 779.0 L472.0 778.8 L468.0 778.6 L464.0 778.4 L460.0 778.1 L456.0 777.8 L452.0 777.4 L448.0 777.1 L444.0 776.8 L440.0 776.5 L436.0 776.2 L432.0 775.9 L428.0 775.6 L424.0 775.3 L420.0 775.0 L416.0 774.7 L412.0 774.4 L408.0 774.0 L404.0 773.7 L400.0 773.4 L396.0 773.0 L392.0 772.7 L388.0 772.4 L384.0 772.1 L380.0 771.7 L376.0 771.4 L372.0 771.1 L368.0 770.8 L364.0 770.5 L360.0 770.2 L356.0 770.0 L352.0 769.7 L348.0 769.5 L344.0 769.2 L340.0 769.0 L336.0 768.8 L332.0 768.6 L328.0 768.4 L324.0 768.2 L320.0 768.0 L316.0 767.9 L312.0 767.7 L308.0 767.5 L304.0 767.4 L300.0 767.2 L296.0 767.0 L292.0 766.9 L288.0 766.7 L284.0 766.6 L280.0 766.4 L276.0 766.3 L272.0 766.1 L268.0 766.0 L264.0 765.8 L260.0 765.7 L256.0 765.5 L252.0 765.4 L248.0 765.3 L244.0 765.1 L240.0 765.0 L236.0 764.9 L232.0 764.7 L228.0 764.6 L224.0 764.5 L220.0 764.3 L216.0 764.1 L212.0 764.0 L208.0 763.8 L204.0 763.5 L200.0 763.3 L196.0 763.0 L192.0 762.7 L188.0 762.4 L184.0 762.0 L180.0 761.7 L176.0 761.3 L172.0 761.0 L168.0 760.6 L164.0 760.3 L160.0 759.9 L156.0 759.6 L152.0 759.2 L148.0 758.9 L144.0 758.6 L142.0 758.4 L140.0 758.3 L136.0 758.0 L134.0 757.8 L132.0 757.7 L128.0 757.5 L124.0 757.3 L122.0 757.2 L120.0 757.1 L117.0 757.0 L116.0 756.9 L112.0 756.8 L108.0 756.7 L107.0 756.7 L104.0 756.7 L102.0 756.7 L100.0 756.7 L98.0 756.8 L96.0 757.0 L95.0 757.1 L92.0 757.4 L90.0 757.6 L88.0 757.8 L86.0 758.1 L84.0 758.4 L82.0 758.7 L81.0 758.9 L80.0 759.1 L79.0 759.2 L78.0 759.4 L77.0 759.6 L76.0 759.7 L75.5 759.8 L75.0 759.9 L74.5 760.0 L74.0 760.1 L73.6 760.1 L73.3 760.2 L73.0 760.2 L72.8 760.3 L72.5 760.3 L72.3 760.3 L72.2 760.4 L72.1 760.4 L72.0 760.4 Z" fill="none" stroke="#c3d69b" stroke-width="1.60" stroke-linejoin="round"/>
<text x="87.6" y="453.5" font-size="23.0" text-anchor="start" font-weight="bold" fill="#111" >(c)</text>
<text x="145.0" y="453.5" font-size="16.0" text-anchor="start" font-weight="bold" fill="#222" >St-1000, &#916;<tspan font-style="italic">E</tspan> = 3.8V</text>
<path d="M108.1 490.5 h16.6" stroke="#c3d69b" stroke-width="2.2"/>
<text x="126.7" y="495.8" font-size="16.0" text-anchor="start" font-weight="normal" fill="#333" >2 mV/s</text>
<path d="M215.6 490.5 h17.5" stroke="#88aa48" stroke-width="2.2"/>
<text x="235.1" y="495.8" font-size="16.0" text-anchor="start" font-weight="normal" fill="#333" >5 mV/s</text>
<path d="M108.1 517.9 h16.6" stroke="#4668ae" stroke-width="2.2"/>
<text x="126.7" y="523.2" font-size="16.0" text-anchor="start" font-weight="normal" fill="#333" >10 mV/s</text>
<path d="M215.6 517.9 h17.5" stroke="#6f55a0" stroke-width="2.2"/>
<text x="235.1" y="523.2" font-size="16.0" text-anchor="start" font-weight="normal" fill="#333" >20 mV/s</text>
<path d="M108.1 545.3 h16.6" stroke="#4bacc6" stroke-width="2.2"/>
<text x="126.7" y="550.6" font-size="16.0" text-anchor="start" font-weight="normal" fill="#333" >50 mV/s</text>
<path d="M215.6 545.3 h17.5" stroke="#f79646" stroke-width="2.2"/>
<text x="235.1" y="550.6" font-size="16.0" text-anchor="start" font-weight="normal" fill="#333" >100 mV/s</text>
<path d="M108.1 572.7 h16.6" stroke="#a9bfdf" stroke-width="2.2"/>
<text x="126.7" y="578.0" font-size="16.0" text-anchor="start" font-weight="normal" fill="#333" >200 mV/s</text>
<path d="M215.6 572.7 h17.5" stroke="#dba5a3" stroke-width="2.2"/>
<text x="235.1" y="578.0" font-size="16.0" text-anchor="start" font-weight="normal" fill="#333" >500 mV/s</text>
<path d="M308.0 584.7 H335.2" stroke="#444" stroke-width="1.3"/>
<path d="M338.2 584.7 L332.2 582.1 L332.2 587.3 Z" fill="#444"/>
<path d="M309.7 775.1 H285.8" stroke="#888" stroke-width="1.3"/>
<path d="M282.8 775.1 L288.8 772.5 L288.8 777.7 Z" fill="#888"/>
<text x="303.2" y="828.0" font-size="21.0" text-anchor="middle" font-weight="bold" fill="#222" >&#916;<tspan font-style="italic">E</tspan> (V)</text>
<text transform="translate(16.5 606.7) rotate(-90)" font-size="21" font-weight="bold" fill="#222" text-anchor="middle"><tspan font-style="italic">C</tspan><tspan font-size="13.3" dy="4">m; CV</tspan><tspan dy="-4"> (F g</tspan><tspan font-size="12.9" dy="-8">-1</tspan><tspan dy="8">)</tspan></text>
<path d="M732.0 427.0 H1275.0 V791.0" fill="none" stroke="#a8a8a8" stroke-width="2"/>
<path d="M732.0 435.1 h3.4" stroke="#444" stroke-width="1.6"/>
<path d="M732.0 443.2 h3.4" stroke="#444" stroke-width="1.6"/>
<path d="M732.0 451.3 h3.4" stroke="#444" stroke-width="1.6"/>
<path d="M732.0 459.4 h3.4" stroke="#444" stroke-width="1.6"/>
<path d="M732.0 467.4 h3.4" stroke="#444" stroke-width="1.6"/>
<path d="M732.0 475.5 h3.4" stroke="#444" stroke-width="1.6"/>
<path d="M732.0 483.6 h3.4" stroke="#444" stroke-width="1.6"/>
<path d="M732.0 491.7 h3.4" stroke="#444" stroke-width="1.6"/>
<path d="M732.0 499.8 h3.4" stroke="#444" stroke-width="1.6"/>
<path d="M732.0 507.9 h3.4" stroke="#444" stroke-width="1.6"/>
<path d="M732.0 516.0 h3.4" stroke="#444" stroke-width="1.6"/>
<path d="M732.0 524.1 h3.4" stroke="#444" stroke-width="1.6"/>
<path d="M732.0 532.2 h3.4" stroke="#444" stroke-width="1.6"/>
<path d="M732.0 540.2 h3.4" stroke="#444" stroke-width="1.6"/>
<path d="M732.0 548.3 h3.4" stroke="#444" stroke-width="1.6"/>
<path d="M732.0 556.4 h3.4" stroke="#444" stroke-width="1.6"/>
<path d="M732.0 564.5 h3.4" stroke="#444" stroke-width="1.6"/>
<path d="M732.0 572.6 h3.4" stroke="#444" stroke-width="1.6"/>
<path d="M732.0 580.7 h3.4" stroke="#444" stroke-width="1.6"/>
<path d="M732.0 588.8 h3.4" stroke="#444" stroke-width="1.6"/>
<path d="M732.0 596.9 h3.4" stroke="#444" stroke-width="1.6"/>
<path d="M732.0 605.0 h3.4" stroke="#444" stroke-width="1.6"/>
<path d="M732.0 613.0 h3.4" stroke="#444" stroke-width="1.6"/>
<path d="M732.0 621.1 h3.4" stroke="#444" stroke-width="1.6"/>
<path d="M732.0 629.2 h3.4" stroke="#444" stroke-width="1.6"/>
<path d="M732.0 637.3 h3.4" stroke="#444" stroke-width="1.6"/>
<path d="M732.0 645.4 h3.4" stroke="#444" stroke-width="1.6"/>
<path d="M732.0 653.5 h3.4" stroke="#444" stroke-width="1.6"/>
<path d="M732.0 661.6 h3.4" stroke="#444" stroke-width="1.6"/>
<path d="M732.0 669.7 h3.4" stroke="#444" stroke-width="1.6"/>
<path d="M732.0 677.8 h3.4" stroke="#444" stroke-width="1.6"/>
<path d="M732.0 685.8 h3.4" stroke="#444" stroke-width="1.6"/>
<path d="M732.0 693.9 h3.4" stroke="#444" stroke-width="1.6"/>
<path d="M732.0 702.0 h3.4" stroke="#444" stroke-width="1.6"/>
<path d="M732.0 710.1 h3.4" stroke="#444" stroke-width="1.6"/>
<path d="M732.0 718.2 h3.4" stroke="#444" stroke-width="1.6"/>
<path d="M732.0 726.3 h3.4" stroke="#444" stroke-width="1.6"/>
<path d="M732.0 734.4 h3.4" stroke="#444" stroke-width="1.6"/>
<path d="M732.0 742.5 h3.4" stroke="#444" stroke-width="1.6"/>
<path d="M732.0 750.6 h3.4" stroke="#444" stroke-width="1.6"/>
<path d="M732.0 758.6 h3.4" stroke="#444" stroke-width="1.6"/>
<path d="M732.0 766.7 h3.4" stroke="#444" stroke-width="1.6"/>
<path d="M732.0 774.8 h3.4" stroke="#444" stroke-width="1.6"/>
<path d="M732.0 782.9 h3.4" stroke="#444" stroke-width="1.6"/>
<path d="M799.9 791.0 v-3" stroke="#555" stroke-width="1.3"/>
<path d="M867.8 791.0 v-3" stroke="#555" stroke-width="1.3"/>
<path d="M935.6 791.0 v-3" stroke="#555" stroke-width="1.3"/>
<path d="M1003.5 791.0 v-3" stroke="#555" stroke-width="1.3"/>
<path d="M1071.4 791.0 v-3" stroke="#555" stroke-width="1.3"/>
<path d="M1139.2 791.0 v-3" stroke="#555" stroke-width="1.3"/>
<path d="M1207.1 791.0 v-3" stroke="#555" stroke-width="1.3"/>
<path d="M732.0 427.0 V791.0 H1275.0" fill="none" stroke="#888" stroke-width="2"/>
<text x="719.0" y="431.3" font-size="15.0" text-anchor="end" font-weight="normal" fill="#3c3c3c" >270</text>
<text x="719.0" y="471.7" font-size="15.0" text-anchor="end" font-weight="normal" fill="#3c3c3c" >220</text>
<text x="719.0" y="512.2" font-size="15.0" text-anchor="end" font-weight="normal" fill="#3c3c3c" >170</text>
<text x="719.0" y="552.6" font-size="15.0" text-anchor="end" font-weight="normal" fill="#3c3c3c" >120</text>
<text x="719.0" y="593.1" font-size="15.0" text-anchor="end" font-weight="normal" fill="#3c3c3c" >70</text>
<text x="719.0" y="633.5" font-size="15.0" text-anchor="end" font-weight="normal" fill="#3c3c3c" >20</text>
<text x="719.0" y="674.0" font-size="15.0" text-anchor="end" font-weight="normal" fill="#3c3c3c" >-30</text>
<text x="719.0" y="714.4" font-size="15.0" text-anchor="end" font-weight="normal" fill="#3c3c3c" >-80</text>
<text x="719.0" y="754.9" font-size="15.0" text-anchor="end" font-weight="normal" fill="#3c3c3c" >-130</text>
<text x="719.0" y="795.3" font-size="15.0" text-anchor="end" font-weight="normal" fill="#3c3c3c" >-180</text>
<text x="732.0" y="815.0" font-size="15.0" text-anchor="middle" font-weight="normal" fill="#3c3c3c" >0</text>
<text x="867.8" y="815.0" font-size="15.0" text-anchor="middle" font-weight="normal" fill="#3c3c3c" >1</text>
<text x="1003.5" y="815.0" font-size="15.0" text-anchor="middle" font-weight="normal" fill="#3c3c3c" >2</text>
<text x="1139.2" y="815.0" font-size="15.0" text-anchor="middle" font-weight="normal" fill="#3c3c3c" >3</text>
<text x="1275.0" y="815.0" font-size="15.0" text-anchor="middle" font-weight="normal" fill="#3c3c3c" >4</text>
<path d="M732.5 738.0 L732.6 719.4 L732.7 703.9 L732.9 685.3 L733.0 670.9 L733.2 653.5 L733.5 641.6 L733.8 631.8 L734.1 624.9 L734.5 618.3 L735.0 612.2 L735.5 607.6 L736.0 603.9 L736.5 600.8 L737.5 595.9 L738.5 592.3 L739.5 589.7 L740.5 587.7 L741.5 586.2 L742.5 585.1 L744.5 583.4 L746.5 582.4 L748.5 581.6 L750.5 581.0 L752.5 580.5 L755.5 579.8 L756.5 579.6 L758.5 579.2 L760.5 578.8 L762.5 578.5 L764.5 578.1 L767.5 577.5 L768.5 577.4 L772.5 576.7 L776.5 576.0 L777.5 575.9 L780.5 575.4 L782.5 575.1 L784.5 574.8 L788.5 574.2 L792.5 573.6 L794.5 573.3 L796.5 573.0 L800.5 572.4 L802.5 572.1 L804.5 571.8 L808.5 571.2 L812.5 570.6 L816.5 570.0 L820.5 569.3 L824.5 568.7 L828.5 568.0 L832.5 567.3 L836.5 566.7 L840.5 566.0 L844.5 565.3 L848.5 564.7 L852.5 564.0 L856.5 563.4 L860.5 562.7 L864.5 562.0 L868.5 561.4 L872.5 560.7 L876.5 560.0 L880.5 559.4 L884.5 558.7 L888.5 558.0 L892.5 557.3 L896.5 556.6 L900.5 556.0 L904.5 555.3 L908.5 554.6 L912.5 553.9 L916.5 553.2 L920.5 552.4 L924.5 551.7 L928.5 551.0 L932.5 550.3 L936.5 549.6 L940.5 548.8 L944.5 548.1 L948.5 547.4 L952.5 546.6 L956.5 545.9 L960.5 545.2 L964.5 544.4 L968.5 543.7 L972.5 543.0 L976.5 542.2 L980.5 541.5 L984.5 540.8 L988.5 540.1 L992.5 539.3 L996.5 538.6 L1000.5 537.9 L1004.5 537.2 L1008.5 536.5 L1012.5 535.9 L1016.5 535.2 L1020.5 534.5 L1024.5 533.9 L1028.5 533.3 L1032.5 532.6 L1036.5 532.0 L1040.5 531.3 L1044.5 530.6 L1048.5 530.0 L1052.5 529.3 L1056.5 528.6 L1060.5 527.9 L1064.5 527.1 L1068.5 526.4 L1072.5 525.6 L1076.5 524.7 L1080.5 523.9 L1084.5 523.0 L1088.5 522.1 L1092.5 521.2 L1096.5 520.3 L1100.5 519.3 L1104.5 518.4 L1108.5 517.4 L1112.5 516.3 L1116.5 515.3 L1120.5 514.2 L1124.5 513.1 L1128.5 511.9 L1132.5 510.8 L1136.5 509.5 L1140.5 508.3 L1144.5 507.0 L1148.5 505.6 L1150.0 505.1 L1152.5 504.2 L1156.5 502.8 L1158.0 502.2 L1160.5 501.3 L1164.0 500.0 L1164.5 499.8 L1168.5 498.1 L1170.0 497.5 L1172.5 496.3 L1175.0 495.2 L1176.5 494.4 L1180.0 492.7 L1180.5 492.4 L1184.5 490.3 L1185.0 490.0 L1188.5 488.1 L1190.0 487.2 L1192.5 485.7 L1194.0 484.9 L1196.5 483.3 L1197.0 483.0 L1200.0 481.2 L1200.5 480.9 L1202.0 479.9 L1204.0 478.6 L1204.5 478.3 L1206.0 477.4 L1208.0 476.1 L1208.5 475.7 L1210.0 474.7 L1211.0 474.1 L1212.0 473.4 L1212.5 473.1 L1213.0 472.7 L1214.0 472.1 L1215.0 471.4 L1216.0 470.7 L1216.5 470.4 L1217.0 470.0 L1217.5 469.7 L1218.0 469.4 L1218.4 469.1 L1218.7 468.9 L1219.0 468.7 L1219.2 468.5 L1219.5 468.3 L1219.7 468.2 L1219.8 468.1 L1219.9 468.1 L1220.0 468.0 L1220.0 468.0 L1219.9 527.3 L1219.8 570.0 L1219.7 612.9 L1219.5 639.4 L1219.2 663.4 L1219.0 675.0 L1218.7 682.0 L1218.4 686.0 L1218.0 689.7 L1217.5 693.3 L1217.0 696.7 L1216.5 699.8 L1216.0 702.7 L1215.0 708.2 L1214.0 713.0 L1213.0 717.4 L1212.5 719.4 L1212.0 721.2 L1211.0 724.7 L1210.0 727.9 L1208.5 731.9 L1208.0 733.1 L1206.0 737.4 L1204.5 740.0 L1204.0 740.8 L1202.0 743.5 L1200.5 745.2 L1200.0 745.7 L1197.0 748.3 L1196.5 748.6 L1194.0 750.1 L1192.5 750.8 L1190.0 751.7 L1188.5 752.2 L1185.0 753.0 L1184.5 753.1 L1180.5 753.7 L1180.0 753.7 L1176.5 754.1 L1175.0 754.2 L1172.5 754.3 L1170.0 754.4 L1168.5 754.4 L1164.5 754.5 L1164.0 754.5 L1160.5 754.6 L1158.0 754.6 L1156.5 754.6 L1152.5 754.7 L1150.0 754.7 L1148.5 754.7 L1144.5 754.7 L1140.5 754.7 L1136.5 754.7 L1132.5 754.7 L1128.5 754.7 L1124.5 754.7 L1120.5 754.7 L1116.5 754.7 L1112.5 754.7 L1108.5 754.7 L1104.5 754.7 L1100.5 754.7 L1096.5 754.7 L1092.5 754.7 L1088.5 754.7 L1084.5 754.7 L1080.5 754.7 L1076.5 754.7 L1072.5 754.7 L1068.5 754.6 L1064.5 754.5 L1060.5 754.4 L1056.5 754.3 L1052.5 754.2 L1048.5 754.1 L1044.5 753.9 L1040.5 753.8 L1036.5 753.6 L1032.5 753.4 L1028.5 753.3 L1024.5 753.1 L1020.5 752.9 L1016.5 752.7 L1012.5 752.5 L1008.5 752.4 L1004.5 752.2 L1000.5 752.0 L996.5 751.9 L992.5 751.7 L988.5 751.5 L984.5 751.3 L980.5 751.1 L976.5 751.0 L972.5 750.8 L968.5 750.6 L964.5 750.4 L960.5 750.2 L956.5 750.0 L952.5 749.7 L948.5 749.5 L944.5 749.3 L940.5 749.1 L936.5 748.9 L932.5 748.6 L928.5 748.4 L924.5 748.2 L920.5 747.9 L916.5 747.7 L912.5 747.4 L908.5 747.2 L904.5 746.9 L900.5 746.6 L896.5 746.3 L892.5 746.0 L888.5 745.7 L884.5 745.3 L880.5 744.9 L876.5 744.5 L872.5 744.2 L868.5 743.8 L864.5 743.4 L860.5 743.0 L856.5 742.6 L852.5 742.3 L848.5 741.9 L844.5 741.6 L840.5 741.3 L836.5 741.0 L832.5 740.7 L828.5 740.5 L824.5 740.2 L820.5 740.1 L816.5 739.9 L812.5 739.8 L808.5 739.6 L804.5 739.5 L802.5 739.4 L800.5 739.4 L796.5 739.2 L794.5 739.2 L792.5 739.1 L788.5 739.0 L784.5 738.9 L782.5 738.8 L780.5 738.7 L777.5 738.7 L776.5 738.6 L772.5 738.5 L768.5 738.4 L767.5 738.4 L764.5 738.4 L762.5 738.3 L760.5 738.3 L758.5 738.2 L756.5 738.2 L755.5 738.2 L752.5 738.1 L750.5 738.1 L748.5 738.1 L746.5 738.1 L744.5 738.1 L742.5 738.0 L741.5 738.0 L740.5 738.0 L739.5 738.0 L738.5 738.0 L737.5 738.0 L736.5 738.0 L736.0 738.0 L735.5 738.0 L735.0 738.0 L734.5 738.0 L734.1 738.0 L733.8 738.0 L733.5 738.0 L733.2 738.0 L733.0 738.0 L732.9 738.0 L732.7 738.0 L732.6 738.0 L732.5 738.0 Z" fill="none" stroke="#f8c49a" stroke-width="1.80" stroke-linejoin="round" stroke-dasharray="6,4"/>
<path d="M732.5 742.0 L732.6 722.0 L732.7 705.3 L732.9 685.2 L733.0 669.6 L733.2 650.9 L733.5 638.1 L733.8 627.5 L734.1 620.1 L734.5 613.0 L735.0 606.6 L735.5 601.6 L736.0 597.7 L736.5 594.3 L737.5 589.2 L738.5 585.4 L739.5 582.6 L740.5 580.6 L741.5 579.1 L742.5 577.9 L744.5 576.3 L746.5 575.3 L748.5 574.6 L750.5 574.1 L752.5 573.6 L755.5 573.0 L756.5 572.9 L758.5 572.5 L760.5 572.2 L762.5 571.8 L764.5 571.5 L767.5 571.1 L768.5 570.9 L772.5 570.3 L776.5 569.7 L777.5 569.6 L780.5 569.2 L782.5 568.9 L784.5 568.6 L788.5 568.1 L792.5 567.5 L794.5 567.2 L796.5 567.0 L800.5 566.4 L802.5 566.2 L804.5 565.9 L808.5 565.3 L812.5 564.7 L816.5 564.1 L820.5 563.5 L824.5 562.9 L828.5 562.3 L832.5 561.7 L836.5 561.1 L840.5 560.4 L844.5 559.8 L848.5 559.2 L852.5 558.6 L856.5 557.9 L860.5 557.3 L864.5 556.7 L868.5 556.0 L872.5 555.4 L876.5 554.8 L880.5 554.1 L884.5 553.5 L888.5 552.8 L892.5 552.2 L896.5 551.6 L900.5 550.9 L904.5 550.2 L908.5 549.6 L912.5 548.9 L916.5 548.3 L920.5 547.6 L924.5 546.9 L928.5 546.2 L932.5 545.6 L936.5 544.9 L940.5 544.2 L944.5 543.5 L948.5 542.8 L952.5 542.1 L956.5 541.4 L960.5 540.7 L964.5 540.0 L968.5 539.3 L972.5 538.7 L976.5 538.0 L980.5 537.3 L984.5 536.6 L988.5 535.9 L992.5 535.3 L996.5 534.6 L1000.5 533.9 L1004.5 533.3 L1008.5 532.6 L1012.5 532.0 L1016.5 531.4 L1020.5 530.8 L1024.5 530.2 L1028.5 529.6 L1032.5 529.0 L1036.5 528.4 L1040.5 527.8 L1044.5 527.2 L1048.5 526.6 L1052.5 526.0 L1056.5 525.3 L1060.5 524.6 L1064.5 524.0 L1068.5 523.2 L1072.5 522.5 L1076.5 521.7 L1080.5 520.9 L1084.5 520.1 L1088.5 519.2 L1092.5 518.3 L1096.5 517.4 L1100.5 516.5 L1104.5 515.5 L1108.5 514.5 L1112.5 513.5 L1116.5 512.4 L1120.5 511.3 L1124.5 510.2 L1128.5 509.0 L1132.5 507.8 L1136.5 506.6 L1140.5 505.3 L1144.5 504.0 L1148.5 502.7 L1150.0 502.1 L1152.5 501.2 L1156.5 499.8 L1158.0 499.2 L1160.5 498.3 L1164.0 497.0 L1164.5 496.8 L1168.5 495.1 L1170.0 494.5 L1172.5 493.3 L1175.0 492.2 L1176.5 491.4 L1180.0 489.7 L1180.5 489.4 L1184.5 487.3 L1185.0 487.0 L1188.5 485.1 L1190.0 484.2 L1192.5 482.7 L1194.0 481.9 L1196.5 480.3 L1197.0 480.0 L1200.0 478.2 L1200.5 477.9 L1202.0 476.9 L1204.0 475.6 L1204.5 475.3 L1206.0 474.4 L1208.0 473.1 L1208.5 472.7 L1210.0 471.7 L1211.0 471.1 L1212.0 470.4 L1212.5 470.1 L1213.0 469.7 L1214.0 469.1 L1215.0 468.4 L1216.0 467.7 L1216.5 467.4 L1217.0 467.0 L1217.5 466.7 L1218.0 466.4 L1218.4 466.1 L1218.7 465.9 L1219.0 465.7 L1219.2 465.5 L1219.5 465.3 L1219.7 465.2 L1219.8 465.1 L1219.9 465.1 L1220.0 465.0 L1220.0 465.0 L1219.9 527.5 L1219.8 572.5 L1219.7 617.6 L1219.5 645.5 L1219.2 670.7 L1219.0 682.7 L1218.7 689.9 L1218.4 693.9 L1218.0 697.5 L1217.5 701.1 L1217.0 704.3 L1216.5 707.4 L1216.0 710.3 L1215.0 715.7 L1214.0 720.6 L1213.0 725.0 L1212.5 727.1 L1212.0 729.0 L1211.0 732.6 L1210.0 735.9 L1208.5 740.2 L1208.0 741.5 L1206.0 746.1 L1204.5 749.1 L1204.0 749.9 L1202.0 753.0 L1200.5 755.0 L1200.0 755.6 L1197.0 758.5 L1196.5 758.9 L1194.0 760.7 L1192.5 761.6 L1190.0 762.8 L1188.5 763.4 L1185.0 764.4 L1184.5 764.6 L1180.5 765.4 L1180.0 765.5 L1176.5 765.9 L1175.0 766.1 L1172.5 766.3 L1170.0 766.4 L1168.5 766.5 L1164.5 766.7 L1164.0 766.7 L1160.5 766.8 L1158.0 766.8 L1156.5 766.8 L1152.5 766.8 L1150.0 766.8 L1148.5 766.8 L1144.5 766.8 L1140.5 766.8 L1136.5 766.8 L1132.5 766.8 L1128.5 766.7 L1124.5 766.7 L1120.5 766.6 L1116.5 766.6 L1112.5 766.5 L1108.5 766.5 L1104.5 766.4 L1100.5 766.4 L1096.5 766.3 L1092.5 766.2 L1088.5 766.2 L1084.5 766.1 L1080.5 766.0 L1076.5 765.9 L1072.5 765.8 L1068.5 765.6 L1064.5 765.4 L1060.5 765.2 L1056.5 764.9 L1052.5 764.6 L1048.5 764.3 L1044.5 764.0 L1040.5 763.7 L1036.5 763.3 L1032.5 762.9 L1028.5 762.6 L1024.5 762.2 L1020.5 761.8 L1016.5 761.4 L1012.5 761.1 L1008.5 760.7 L1004.5 760.4 L1000.5 760.0 L996.5 759.7 L992.5 759.4 L988.5 759.1 L984.5 758.7 L980.5 758.4 L976.5 758.1 L972.5 757.7 L968.5 757.4 L964.5 757.0 L960.5 756.7 L956.5 756.3 L952.5 756.0 L948.5 755.6 L944.5 755.3 L940.5 754.9 L936.5 754.6 L932.5 754.3 L928.5 753.9 L924.5 753.6 L920.5 753.2 L916.5 752.9 L912.5 752.5 L908.5 752.2 L904.5 751.9 L900.5 751.5 L896.5 751.2 L892.5 750.8 L888.5 750.5 L884.5 750.1 L880.5 749.8 L876.5 749.4 L872.5 749.0 L868.5 748.7 L864.5 748.3 L860.5 748.0 L856.5 747.6 L852.5 747.3 L848.5 747.0 L844.5 746.6 L840.5 746.3 L836.5 746.1 L832.5 745.8 L828.5 745.5 L824.5 745.3 L820.5 745.1 L816.5 744.9 L812.5 744.7 L808.5 744.5 L804.5 744.3 L802.5 744.2 L800.5 744.1 L796.5 744.0 L794.5 743.9 L792.5 743.8 L788.5 743.6 L784.5 743.5 L782.5 743.4 L780.5 743.3 L777.5 743.2 L776.5 743.1 L772.5 743.0 L768.5 742.9 L767.5 742.8 L764.5 742.7 L762.5 742.7 L760.5 742.6 L758.5 742.5 L756.5 742.5 L755.5 742.5 L752.5 742.4 L750.5 742.3 L748.5 742.3 L746.5 742.2 L744.5 742.2 L742.5 742.2 L741.5 742.1 L740.5 742.1 L739.5 742.1 L738.5 742.1 L737.5 742.1 L736.5 742.1 L736.0 742.0 L735.5 742.0 L735.0 742.0 L734.5 742.0 L734.1 742.0 L733.8 742.0 L733.5 742.0 L733.2 742.0 L733.0 742.0 L732.9 742.0 L732.7 742.0 L732.6 742.0 L732.5 742.0 Z" fill="none" stroke="#1fae55" stroke-width="1.80" stroke-linejoin="round" stroke-dasharray="6,4"/>
<path d="M732.5 748.0 L732.6 725.9 L732.7 707.5 L732.9 685.3 L733.0 668.1 L733.2 647.5 L733.5 633.4 L733.8 621.7 L734.1 613.5 L734.5 605.7 L735.0 598.6 L735.5 593.2 L736.0 588.9 L736.5 585.2 L737.5 579.6 L738.5 575.5 L739.5 572.5 L740.5 570.3 L741.5 568.6 L742.5 567.4 L744.5 565.7 L746.5 564.7 L748.5 563.9 L750.5 563.4 L752.5 562.9 L755.5 562.3 L756.5 562.2 L758.5 561.8 L760.5 561.5 L762.5 561.2 L764.5 560.8 L767.5 560.4 L768.5 560.2 L772.5 559.6 L776.5 559.1 L777.5 558.9 L780.5 558.5 L782.5 558.2 L784.5 558.0 L788.5 557.4 L792.5 556.9 L794.5 556.6 L796.5 556.4 L800.5 555.8 L802.5 555.6 L804.5 555.3 L808.5 554.8 L812.5 554.3 L816.5 553.7 L820.5 553.2 L824.5 552.6 L828.5 552.1 L832.5 551.5 L836.5 551.0 L840.5 550.4 L844.5 549.9 L848.5 549.4 L852.5 548.8 L856.5 548.3 L860.5 547.7 L864.5 547.2 L868.5 546.7 L872.5 546.1 L876.5 545.6 L880.5 545.1 L884.5 544.6 L888.5 544.0 L892.5 543.5 L896.5 543.0 L900.5 542.5 L904.5 541.9 L908.5 541.4 L912.5 540.9 L916.5 540.4 L920.5 539.9 L924.5 539.4 L928.5 538.9 L932.5 538.4 L936.5 537.9 L940.5 537.4 L944.5 536.9 L948.5 536.4 L952.5 535.9 L956.5 535.4 L960.5 534.9 L964.5 534.4 L968.5 533.9 L972.5 533.4 L976.5 532.9 L980.5 532.4 L984.5 531.9 L988.5 531.4 L992.5 530.9 L996.5 530.4 L1000.5 529.9 L1004.5 529.4 L1008.5 529.0 L1012.5 528.5 L1016.5 528.0 L1020.5 527.6 L1024.5 527.2 L1028.5 526.7 L1032.5 526.3 L1036.5 525.8 L1040.5 525.4 L1044.5 524.9 L1048.5 524.4 L1052.5 523.9 L1056.5 523.4 L1060.5 522.9 L1064.5 522.4 L1068.5 521.8 L1072.5 521.2 L1076.5 520.6 L1080.5 519.9 L1084.5 519.2 L1088.5 518.5 L1092.5 517.8 L1096.5 517.0 L1100.5 516.2 L1104.5 515.4 L1108.5 514.6 L1112.5 513.7 L1116.5 512.8 L1120.5 511.8 L1124.5 510.8 L1128.5 509.8 L1132.5 508.7 L1136.5 507.6 L1140.5 506.5 L1144.5 505.3 L1148.5 504.1 L1150.0 503.6 L1152.5 502.8 L1156.5 501.5 L1158.0 501.0 L1160.5 500.2 L1164.0 499.0 L1164.5 498.8 L1168.5 497.3 L1170.0 496.7 L1172.5 495.6 L1175.0 494.5 L1176.5 493.8 L1180.0 492.1 L1180.5 491.9 L1184.5 489.8 L1185.0 489.6 L1188.5 487.7 L1190.0 486.9 L1192.5 485.4 L1194.0 484.6 L1196.5 483.1 L1197.0 482.8 L1200.0 481.0 L1200.5 480.7 L1202.0 479.7 L1204.0 478.5 L1204.5 478.2 L1206.0 477.2 L1208.0 475.9 L1208.5 475.6 L1210.0 474.6 L1211.0 474.0 L1212.0 473.3 L1212.5 473.0 L1213.0 472.7 L1214.0 472.0 L1215.0 471.3 L1216.0 470.7 L1216.5 470.3 L1217.0 470.0 L1217.5 469.7 L1218.0 469.3 L1218.4 469.1 L1218.7 468.9 L1219.0 468.7 L1219.2 468.5 L1219.5 468.3 L1219.7 468.2 L1219.8 468.1 L1219.9 468.1 L1220.0 468.0 L1220.0 468.0 L1219.9 529.9 L1219.8 574.4 L1219.7 619.1 L1219.5 646.7 L1219.2 671.7 L1219.0 683.6 L1218.7 690.7 L1218.4 694.6 L1218.0 698.2 L1217.5 701.8 L1217.0 705.0 L1216.5 708.0 L1216.0 710.9 L1215.0 716.3 L1214.0 721.1 L1213.0 725.5 L1212.5 727.5 L1212.0 729.5 L1211.0 733.0 L1210.0 736.3 L1208.5 740.6 L1208.0 741.9 L1206.0 746.5 L1204.5 749.4 L1204.0 750.2 L1202.0 753.3 L1200.5 755.3 L1200.0 755.8 L1197.0 758.8 L1196.5 759.2 L1194.0 761.0 L1192.5 761.9 L1190.0 763.1 L1188.5 763.7 L1185.0 764.7 L1184.5 764.9 L1180.5 765.7 L1180.0 765.8 L1176.5 766.2 L1175.0 766.4 L1172.5 766.6 L1170.0 766.7 L1168.5 766.8 L1164.5 767.0 L1164.0 767.0 L1160.5 767.1 L1158.0 767.1 L1156.5 767.2 L1152.5 767.2 L1150.0 767.2 L1148.5 767.2 L1144.5 767.3 L1140.5 767.3 L1136.5 767.3 L1132.5 767.3 L1128.5 767.3 L1124.5 767.3 L1120.5 767.3 L1116.5 767.3 L1112.5 767.3 L1108.5 767.3 L1104.5 767.3 L1100.5 767.3 L1096.5 767.3 L1092.5 767.3 L1088.5 767.3 L1084.5 767.3 L1080.5 767.3 L1076.5 767.3 L1072.5 767.2 L1068.5 767.1 L1064.5 766.9 L1060.5 766.7 L1056.5 766.5 L1052.5 766.2 L1048.5 765.9 L1044.5 765.6 L1040.5 765.3 L1036.5 764.9 L1032.5 764.6 L1028.5 764.2 L1024.5 763.8 L1020.5 763.5 L1016.5 763.2 L1012.5 762.8 L1008.5 762.5 L1004.5 762.3 L1000.5 762.0 L996.5 761.8 L992.5 761.6 L988.5 761.4 L984.5 761.2 L980.5 761.0 L976.5 760.8 L972.5 760.7 L968.5 760.5 L964.5 760.3 L960.5 760.2 L956.5 760.0 L952.5 759.8 L948.5 759.6 L944.5 759.5 L940.5 759.3 L936.5 759.1 L932.5 758.9 L928.5 758.7 L924.5 758.5 L920.5 758.3 L916.5 758.1 L912.5 757.9 L908.5 757.7 L904.5 757.4 L900.5 757.1 L896.5 756.8 L892.5 756.5 L888.5 756.1 L884.5 755.7 L880.5 755.3 L876.5 754.9 L872.5 754.5 L868.5 754.0 L864.5 753.6 L860.5 753.2 L856.5 752.7 L852.5 752.3 L848.5 751.9 L844.5 751.5 L840.5 751.1 L836.5 750.7 L832.5 750.4 L828.5 750.0 L824.5 749.8 L820.5 749.5 L816.5 749.3 L812.5 749.0 L808.5 748.8 L804.5 748.6 L802.5 748.5 L800.5 748.4 L796.5 748.2 L794.5 748.0 L792.5 747.9 L788.5 747.8 L784.5 747.6 L782.5 747.5 L780.5 747.4 L777.5 747.3 L776.5 747.3 L772.5 747.2 L768.5 747.1 L767.5 747.1 L764.5 747.0 L762.5 747.0 L760.5 747.0 L758.5 747.0 L756.5 747.0 L755.5 747.0 L752.5 747.1 L750.5 747.2 L748.5 747.3 L746.5 747.3 L744.5 747.4 L742.5 747.6 L741.5 747.6 L740.5 747.7 L739.5 747.7 L738.5 747.8 L737.5 747.9 L736.5 747.9 L736.0 748.0 L735.5 748.0 L735.0 748.0 L734.5 748.1 L734.1 748.1 L733.8 748.1 L733.5 748.1 L733.2 748.1 L733.0 748.2 L732.9 748.2 L732.7 748.2 L732.6 748.2 L732.5 748.2 Z" fill="none" stroke="#2f80cf" stroke-width="1.80" stroke-linejoin="round" stroke-dasharray="6,4"/>
<path d="M732.5 740.0 L732.6 718.9 L732.7 701.3 L732.9 680.0 L733.0 663.7 L733.2 643.9 L733.5 630.4 L733.8 619.3 L734.1 611.5 L734.5 604.0 L735.0 597.2 L735.5 592.0 L736.0 587.9 L736.5 584.4 L737.5 579.0 L738.5 575.0 L739.5 572.2 L740.5 570.0 L741.5 568.5 L742.5 567.3 L744.5 565.7 L746.5 564.6 L748.5 563.9 L750.5 563.4 L752.5 562.9 L755.5 562.3 L756.5 562.2 L758.5 561.8 L760.5 561.5 L762.5 561.2 L764.5 560.8 L767.5 560.4 L768.5 560.2 L772.5 559.6 L776.5 559.1 L777.5 558.9 L780.5 558.5 L782.5 558.2 L784.5 558.0 L788.5 557.4 L792.5 556.9 L794.5 556.6 L796.5 556.4 L800.5 555.8 L802.5 555.6 L804.5 555.3 L808.5 554.8 L812.5 554.3 L816.5 553.7 L820.5 553.2 L824.5 552.6 L828.5 552.1 L832.5 551.5 L836.5 551.0 L840.5 550.4 L844.5 549.9 L848.5 549.3 L852.5 548.8 L856.5 548.2 L860.5 547.7 L864.5 547.1 L868.5 546.6 L872.5 546.1 L876.5 545.5 L880.5 545.0 L884.5 544.5 L888.5 544.0 L892.5 543.4 L896.5 542.9 L900.5 542.4 L904.5 541.9 L908.5 541.4 L912.5 541.0 L916.5 540.5 L920.5 540.0 L924.5 539.5 L928.5 539.1 L932.5 538.6 L936.5 538.2 L940.5 537.7 L944.5 537.2 L948.5 536.8 L952.5 536.4 L956.5 535.9 L960.5 535.5 L964.5 535.0 L968.5 534.6 L972.5 534.1 L976.5 533.7 L980.5 533.2 L984.5 532.8 L988.5 532.3 L992.5 531.9 L996.5 531.4 L1000.5 530.9 L1004.5 530.5 L1008.5 530.0 L1012.5 529.6 L1016.5 529.2 L1020.5 528.8 L1024.5 528.3 L1028.5 527.9 L1032.5 527.5 L1036.5 527.1 L1040.5 526.6 L1044.5 526.2 L1048.5 525.8 L1052.5 525.3 L1056.5 524.8 L1060.5 524.3 L1064.5 523.8 L1068.5 523.2 L1072.5 522.7 L1076.5 522.1 L1080.5 521.4 L1084.5 520.7 L1088.5 520.0 L1092.5 519.3 L1096.5 518.5 L1100.5 517.7 L1104.5 516.9 L1108.5 516.0 L1112.5 515.1 L1116.5 514.1 L1120.5 513.1 L1124.5 512.1 L1128.5 511.0 L1132.5 509.9 L1136.5 508.8 L1140.5 507.6 L1144.5 506.4 L1148.5 505.1 L1151.0 504.4 L1152.5 503.9 L1156.5 502.5 L1159.0 501.7 L1160.5 501.2 L1164.5 499.8 L1165.0 499.6 L1168.5 498.3 L1171.0 497.3 L1172.5 496.7 L1176.0 495.2 L1176.5 494.9 L1180.5 493.1 L1181.0 492.9 L1184.5 491.2 L1186.0 490.4 L1188.5 489.1 L1191.0 487.8 L1192.5 487.0 L1195.0 485.6 L1196.5 484.8 L1198.0 483.9 L1200.5 482.5 L1201.0 482.2 L1203.0 481.1 L1204.5 480.2 L1205.0 479.9 L1207.0 478.7 L1208.5 477.8 L1209.0 477.5 L1211.0 476.2 L1212.0 475.6 L1212.5 475.3 L1213.0 475.0 L1214.0 474.4 L1215.0 473.8 L1216.0 473.1 L1216.5 472.8 L1217.0 472.5 L1217.5 472.2 L1218.0 471.9 L1218.5 471.6 L1219.0 471.3 L1219.4 471.0 L1219.7 470.8 L1220.0 470.6 L1220.2 470.5 L1220.5 470.3 L1220.7 470.2 L1220.8 470.1 L1220.9 470.1 L1221.0 470.0 L1221.0 470.0 L1220.9 532.9 L1220.8 578.2 L1220.7 623.6 L1220.5 651.6 L1220.2 676.9 L1220.0 688.9 L1219.7 695.9 L1219.4 699.8 L1219.0 703.3 L1218.5 706.7 L1218.0 709.7 L1217.5 712.5 L1217.0 715.2 L1216.5 717.7 L1216.0 720.1 L1215.0 724.5 L1214.0 728.5 L1213.0 732.0 L1212.5 733.6 L1212.0 735.1 L1211.0 738.0 L1209.0 742.8 L1208.5 743.8 L1207.0 746.6 L1205.0 749.7 L1204.5 750.3 L1203.0 752.1 L1201.0 754.1 L1200.5 754.5 L1198.0 756.3 L1196.5 757.2 L1195.0 757.9 L1192.5 758.9 L1191.0 759.4 L1188.5 760.0 L1186.0 760.5 L1184.5 760.7 L1181.0 761.1 L1180.5 761.2 L1176.5 761.4 L1176.0 761.4 L1172.5 761.5 L1171.0 761.6 L1168.5 761.6 L1165.0 761.6 L1164.5 761.6 L1160.5 761.6 L1159.0 761.6 L1156.5 761.5 L1152.5 761.5 L1151.0 761.4 L1148.5 761.4 L1144.5 761.3 L1140.5 761.2 L1136.5 761.0 L1132.5 760.9 L1128.5 760.8 L1124.5 760.6 L1120.5 760.5 L1116.5 760.3 L1112.5 760.2 L1108.5 760.0 L1104.5 759.9 L1100.5 759.7 L1096.5 759.6 L1092.5 759.4 L1088.5 759.2 L1084.5 759.1 L1080.5 758.9 L1076.5 758.8 L1072.5 758.6 L1068.5 758.4 L1064.5 758.2 L1060.5 757.9 L1056.5 757.7 L1052.5 757.4 L1048.5 757.2 L1044.5 756.9 L1040.5 756.7 L1036.5 756.4 L1032.5 756.1 L1028.5 755.8 L1024.5 755.6 L1020.5 755.3 L1016.5 755.0 L1012.5 754.8 L1008.5 754.5 L1004.5 754.3 L1000.5 754.0 L996.5 753.8 L992.5 753.6 L988.5 753.4 L984.5 753.2 L980.5 753.0 L976.5 752.8 L972.5 752.6 L968.5 752.4 L964.5 752.2 L960.5 752.0 L956.5 751.8 L952.5 751.6 L948.5 751.4 L944.5 751.2 L940.5 751.0 L936.5 750.8 L932.5 750.6 L928.5 750.3 L924.5 750.1 L920.5 749.9 L916.5 749.7 L912.5 749.4 L908.5 749.2 L904.5 748.9 L900.5 748.6 L896.5 748.3 L892.5 747.9 L888.5 747.6 L884.5 747.2 L880.5 746.8 L876.5 746.3 L872.5 745.9 L868.5 745.5 L864.5 745.1 L860.5 744.6 L856.5 744.2 L852.5 743.8 L848.5 743.5 L844.5 743.1 L840.5 742.7 L836.5 742.4 L832.5 742.2 L828.5 741.9 L824.5 741.7 L820.5 741.6 L816.5 741.4 L812.5 741.3 L808.5 741.2 L804.5 741.1 L802.5 741.0 L800.5 741.0 L796.5 740.9 L794.5 740.8 L792.5 740.8 L788.5 740.7 L784.5 740.6 L782.5 740.6 L780.5 740.5 L777.5 740.5 L776.5 740.5 L772.5 740.4 L768.5 740.3 L767.5 740.3 L764.5 740.3 L762.5 740.2 L760.5 740.2 L758.5 740.2 L756.5 740.1 L755.5 740.1 L752.5 740.1 L750.5 740.1 L748.5 740.1 L746.5 740.1 L744.5 740.0 L742.5 740.0 L741.5 740.0 L740.5 740.0 L739.5 740.0 L738.5 740.0 L737.5 740.0 L736.5 740.0 L736.0 740.0 L735.5 740.0 L735.0 740.0 L734.5 740.0 L734.1 740.0 L733.8 740.0 L733.5 740.0 L733.2 740.0 L733.0 740.0 L732.9 740.0 L732.7 740.0 L732.6 740.0 L732.5 740.0 Z" fill="none" stroke="#ee3b33" stroke-width="1.80" stroke-linejoin="round" stroke-dasharray="6,4"/>
<path d="M732.5 738.0 L732.6 715.8 L732.7 697.4 L732.9 675.4 L733.0 658.7 L733.2 638.9 L733.5 625.8 L733.8 615.5 L734.1 608.5 L734.5 602.3 L735.0 597.0 L735.5 593.1 L736.0 589.9 L736.5 587.4 L737.5 583.3 L738.5 580.4 L739.5 578.1 L740.5 576.5 L741.5 575.2 L742.5 574.1 L744.5 572.6 L746.5 571.6 L748.5 570.9 L750.5 570.3 L752.5 569.8 L755.5 569.2 L756.5 569.0 L758.5 568.6 L760.5 568.2 L762.5 567.8 L764.5 567.5 L767.5 567.0 L768.5 566.8 L772.5 566.2 L776.5 565.6 L777.5 565.5 L780.5 565.0 L782.5 564.8 L784.5 564.5 L788.5 564.0 L792.5 563.4 L794.5 563.2 L796.5 562.9 L800.5 562.4 L802.5 562.2 L804.5 561.9 L808.5 561.4 L812.5 560.9 L816.5 560.3 L820.5 559.8 L824.5 559.2 L828.5 558.6 L832.5 558.1 L836.5 557.5 L840.5 557.0 L844.5 556.4 L848.5 555.9 L852.5 555.3 L856.5 554.8 L860.5 554.2 L864.5 553.7 L868.5 553.2 L872.5 552.6 L876.5 552.1 L880.5 551.5 L884.5 551.0 L888.5 550.4 L892.5 549.9 L896.5 549.3 L900.5 548.8 L904.5 548.2 L908.5 547.6 L912.5 547.1 L916.5 546.5 L920.5 545.9 L924.5 545.3 L928.5 544.7 L932.5 544.1 L936.5 543.5 L940.5 542.9 L944.5 542.4 L948.5 541.8 L952.5 541.2 L956.5 540.5 L960.5 539.9 L964.5 539.3 L968.5 538.7 L972.5 538.1 L976.5 537.5 L980.5 536.9 L984.5 536.3 L988.5 535.7 L992.5 535.1 L996.5 534.5 L1000.5 533.9 L1004.5 533.3 L1008.5 532.8 L1012.5 532.2 L1016.5 531.6 L1020.5 531.1 L1024.5 530.6 L1028.5 530.0 L1032.5 529.5 L1036.5 528.9 L1040.5 528.4 L1044.5 527.8 L1048.5 527.2 L1052.5 526.6 L1056.5 526.0 L1060.5 525.4 L1064.5 524.8 L1068.5 524.1 L1072.5 523.4 L1076.5 522.7 L1080.5 521.9 L1084.5 521.1 L1088.5 520.3 L1092.5 519.5 L1096.5 518.6 L1100.5 517.7 L1104.5 516.8 L1108.5 515.9 L1112.5 514.9 L1116.5 513.9 L1120.5 512.9 L1124.5 511.8 L1128.5 510.7 L1132.5 509.5 L1136.5 508.4 L1140.5 507.1 L1144.5 505.8 L1148.5 504.5 L1150.0 504.0 L1152.5 503.2 L1156.5 501.7 L1158.0 501.2 L1160.5 500.3 L1164.0 499.0 L1164.5 498.8 L1168.5 497.1 L1170.0 496.5 L1172.5 495.3 L1175.0 494.2 L1176.5 493.4 L1180.0 491.6 L1180.5 491.4 L1184.5 489.2 L1185.0 488.9 L1188.5 486.9 L1190.0 486.0 L1192.5 484.5 L1194.0 483.6 L1196.5 482.0 L1197.0 481.7 L1200.0 479.7 L1200.5 479.4 L1202.0 478.4 L1204.0 477.1 L1204.5 476.8 L1206.0 475.8 L1208.0 474.4 L1208.5 474.1 L1210.0 473.0 L1211.0 472.3 L1212.0 471.6 L1212.5 471.3 L1213.0 470.9 L1214.0 470.2 L1215.0 469.5 L1216.0 468.8 L1216.5 468.5 L1217.0 468.1 L1217.5 467.8 L1218.0 467.4 L1218.4 467.1 L1218.7 466.9 L1219.0 466.7 L1219.2 466.5 L1219.5 466.4 L1219.7 466.2 L1219.8 466.1 L1219.9 466.1 L1220.0 466.0 L1220.0 466.0 L1219.9 529.2 L1219.8 574.8 L1219.7 620.4 L1219.5 648.5 L1219.2 673.7 L1219.0 685.7 L1218.7 692.6 L1218.4 696.4 L1218.0 699.6 L1217.5 702.8 L1217.0 705.6 L1216.5 708.3 L1216.0 710.9 L1215.0 715.6 L1214.0 719.9 L1213.0 723.7 L1212.5 725.5 L1212.0 727.2 L1211.0 730.4 L1210.0 733.3 L1208.5 737.1 L1208.0 738.2 L1206.0 742.3 L1204.5 744.9 L1204.0 745.7 L1202.0 748.4 L1200.5 750.1 L1200.0 750.7 L1197.0 753.3 L1196.5 753.7 L1194.0 755.3 L1192.5 756.1 L1190.0 757.2 L1188.5 757.7 L1185.0 758.7 L1184.5 758.8 L1180.5 759.6 L1180.0 759.6 L1176.5 760.0 L1175.0 760.2 L1172.5 760.4 L1170.0 760.5 L1168.5 760.6 L1164.5 760.7 L1164.0 760.7 L1160.5 760.8 L1158.0 760.8 L1156.5 760.8 L1152.5 760.8 L1150.0 760.9 L1148.5 760.9 L1144.5 760.8 L1140.5 760.8 L1136.5 760.8 L1132.5 760.8 L1128.5 760.7 L1124.5 760.7 L1120.5 760.6 L1116.5 760.6 L1112.5 760.5 L1108.5 760.5 L1104.5 760.4 L1100.5 760.4 L1096.5 760.3 L1092.5 760.2 L1088.5 760.2 L1084.5 760.1 L1080.5 760.0 L1076.5 759.9 L1072.5 759.8 L1068.5 759.7 L1064.5 759.5 L1060.5 759.3 L1056.5 759.1 L1052.5 758.8 L1048.5 758.5 L1044.5 758.3 L1040.5 758.0 L1036.5 757.7 L1032.5 757.4 L1028.5 757.1 L1024.5 756.8 L1020.5 756.5 L1016.5 756.2 L1012.5 755.9 L1008.5 755.6 L1004.5 755.3 L1000.5 755.0 L996.5 754.8 L992.5 754.5 L988.5 754.3 L984.5 754.0 L980.5 753.8 L976.5 753.6 L972.5 753.3 L968.5 753.1 L964.5 752.8 L960.5 752.6 L956.5 752.4 L952.5 752.1 L948.5 751.9 L944.5 751.6 L940.5 751.4 L936.5 751.1 L932.5 750.9 L928.5 750.6 L924.5 750.3 L920.5 750.0 L916.5 749.8 L912.5 749.5 L908.5 749.2 L904.5 748.9 L900.5 748.6 L896.5 748.2 L892.5 747.8 L888.5 747.5 L884.5 747.1 L880.5 746.7 L876.5 746.2 L872.5 745.8 L868.5 745.4 L864.5 745.0 L860.5 744.5 L856.5 744.1 L852.5 743.7 L848.5 743.3 L844.5 742.9 L840.5 742.6 L836.5 742.2 L832.5 741.9 L828.5 741.6 L824.5 741.3 L820.5 741.1 L816.5 740.9 L812.5 740.7 L808.5 740.5 L804.5 740.3 L802.5 740.2 L800.5 740.1 L796.5 739.9 L794.5 739.8 L792.5 739.7 L788.5 739.6 L784.5 739.4 L782.5 739.3 L780.5 739.2 L777.5 739.1 L776.5 739.1 L772.5 738.9 L768.5 738.8 L767.5 738.7 L764.5 738.6 L762.5 738.6 L760.5 738.5 L758.5 738.5 L756.5 738.4 L755.5 738.4 L752.5 738.3 L750.5 738.3 L748.5 738.2 L746.5 738.2 L744.5 738.1 L742.5 738.1 L741.5 738.1 L740.5 738.1 L739.5 738.1 L738.5 738.1 L737.5 738.0 L736.5 738.0 L736.0 738.0 L735.5 738.0 L735.0 738.0 L734.5 738.0 L734.1 738.0 L733.8 738.0 L733.5 738.0 L733.2 738.0 L733.0 738.0 L732.9 738.0 L732.7 738.0 L732.6 738.0 L732.5 738.0 Z" fill="none" stroke="#f59a5b" stroke-width="1.80" stroke-linejoin="round"/>
<path d="M732.5 741.0 L732.6 718.3 L732.7 699.4 L732.9 676.9 L733.0 659.7 L733.2 639.4 L733.5 626.1 L733.8 615.5 L734.1 608.4 L734.5 602.0 L735.0 596.5 L735.5 592.5 L736.0 589.3 L736.5 586.7 L737.5 582.6 L738.5 579.6 L739.5 577.3 L740.5 575.6 L741.5 574.3 L742.5 573.2 L744.5 571.8 L746.5 570.7 L748.5 570.0 L750.5 569.4 L752.5 569.0 L755.5 568.3 L756.5 568.1 L758.5 567.7 L760.5 567.3 L762.5 567.0 L764.5 566.6 L767.5 566.1 L768.5 566.0 L772.5 565.3 L776.5 564.7 L777.5 564.6 L780.5 564.2 L782.5 563.9 L784.5 563.6 L788.5 563.1 L792.5 562.6 L794.5 562.3 L796.5 562.1 L800.5 561.6 L802.5 561.3 L804.5 561.1 L808.5 560.6 L812.5 560.1 L816.5 559.5 L820.5 559.0 L824.5 558.4 L828.5 557.9 L832.5 557.3 L836.5 556.8 L840.5 556.3 L844.5 555.7 L848.5 555.2 L852.5 554.7 L856.5 554.2 L860.5 553.7 L864.5 553.2 L868.5 552.6 L872.5 552.1 L876.5 551.6 L880.5 551.1 L884.5 550.6 L888.5 550.0 L892.5 549.5 L896.5 548.9 L900.5 548.4 L904.5 547.8 L908.5 547.2 L912.5 546.7 L916.5 546.1 L920.5 545.5 L924.5 544.9 L928.5 544.2 L932.5 543.6 L936.5 543.0 L940.5 542.4 L944.5 541.8 L948.5 541.1 L952.5 540.5 L956.5 539.8 L960.5 539.2 L964.5 538.6 L968.5 537.9 L972.5 537.3 L976.5 536.7 L980.5 536.0 L984.5 535.4 L988.5 534.8 L992.5 534.1 L996.5 533.5 L1000.5 532.9 L1004.5 532.3 L1008.5 531.8 L1012.5 531.2 L1016.5 530.6 L1020.5 530.1 L1024.5 529.6 L1028.5 529.0 L1032.5 528.5 L1036.5 528.0 L1040.5 527.4 L1044.5 526.9 L1048.5 526.3 L1052.5 525.7 L1056.5 525.1 L1060.5 524.5 L1064.5 523.9 L1068.5 523.2 L1072.5 522.5 L1076.5 521.8 L1080.5 521.0 L1084.5 520.2 L1088.5 519.4 L1092.5 518.6 L1096.5 517.7 L1100.5 516.8 L1104.5 515.9 L1108.5 514.9 L1112.5 513.9 L1116.5 512.9 L1120.5 511.9 L1124.5 510.7 L1128.5 509.6 L1132.5 508.4 L1136.5 507.2 L1140.5 505.9 L1144.5 504.6 L1148.5 503.2 L1150.0 502.6 L1152.5 501.7 L1156.5 500.2 L1158.0 499.7 L1160.5 498.7 L1164.0 497.3 L1164.5 497.1 L1168.5 495.3 L1170.0 494.6 L1172.5 493.3 L1175.0 492.0 L1176.5 491.2 L1180.0 489.1 L1180.5 488.8 L1184.5 486.4 L1185.0 486.0 L1188.5 483.7 L1190.0 482.7 L1192.5 481.0 L1194.0 479.9 L1196.5 478.1 L1197.0 477.8 L1200.0 475.5 L1200.5 475.2 L1202.0 474.0 L1204.0 472.5 L1204.5 472.1 L1206.0 470.9 L1208.0 469.3 L1208.5 469.0 L1210.0 467.8 L1211.0 467.0 L1212.0 466.1 L1212.5 465.7 L1213.0 465.3 L1214.0 464.5 L1215.0 463.7 L1216.0 462.9 L1216.5 462.5 L1217.0 462.1 L1217.5 461.7 L1218.0 461.3 L1218.4 460.9 L1218.7 460.7 L1219.0 460.4 L1219.2 460.2 L1219.5 460.0 L1219.7 459.9 L1219.8 459.8 L1219.9 459.7 L1220.0 459.6 L1220.0 459.6 L1219.9 523.3 L1219.8 569.2 L1219.7 615.2 L1219.5 643.6 L1219.2 669.1 L1219.0 681.2 L1218.7 688.4 L1218.4 692.3 L1218.0 695.7 L1217.5 699.2 L1217.0 702.3 L1216.5 705.2 L1216.0 708.0 L1215.0 713.3 L1214.0 718.0 L1213.0 722.4 L1212.5 724.4 L1212.0 726.4 L1211.0 730.0 L1210.0 733.3 L1208.5 737.8 L1208.0 739.2 L1206.0 744.0 L1204.5 747.1 L1204.0 748.1 L1202.0 751.5 L1200.5 753.6 L1200.0 754.3 L1197.0 757.7 L1196.5 758.2 L1194.0 760.3 L1192.5 761.3 L1190.0 762.8 L1188.5 763.6 L1185.0 765.0 L1184.5 765.1 L1180.5 766.3 L1180.0 766.4 L1176.5 767.1 L1175.0 767.3 L1172.5 767.7 L1170.0 768.0 L1168.5 768.1 L1164.5 768.5 L1164.0 768.5 L1160.5 768.8 L1158.0 769.0 L1156.5 769.0 L1152.5 769.3 L1150.0 769.4 L1148.5 769.5 L1144.5 769.7 L1140.5 769.8 L1136.5 770.0 L1132.5 770.2 L1128.5 770.3 L1124.5 770.5 L1120.5 770.7 L1116.5 770.8 L1112.5 770.9 L1108.5 771.0 L1104.5 771.2 L1100.5 771.3 L1096.5 771.3 L1092.5 771.4 L1088.5 771.5 L1084.5 771.5 L1080.5 771.5 L1076.5 771.5 L1072.5 771.4 L1068.5 771.2 L1064.5 771.0 L1060.5 770.8 L1056.5 770.4 L1052.5 770.1 L1048.5 769.7 L1044.5 769.3 L1040.5 768.8 L1036.5 768.4 L1032.5 767.9 L1028.5 767.4 L1024.5 766.9 L1020.5 766.4 L1016.5 765.9 L1012.5 765.4 L1008.5 764.9 L1004.5 764.5 L1000.5 764.1 L996.5 763.6 L992.5 763.2 L988.5 762.8 L984.5 762.3 L980.5 761.9 L976.5 761.4 L972.5 760.9 L968.5 760.4 L964.5 760.0 L960.5 759.5 L956.5 759.0 L952.5 758.5 L948.5 758.0 L944.5 757.5 L940.5 757.0 L936.5 756.6 L932.5 756.1 L928.5 755.6 L924.5 755.1 L920.5 754.6 L916.5 754.2 L912.5 753.7 L908.5 753.3 L904.5 752.8 L900.5 752.4 L896.5 751.9 L892.5 751.5 L888.5 751.0 L884.5 750.5 L880.5 750.0 L876.5 749.5 L872.5 749.1 L868.5 748.6 L864.5 748.1 L860.5 747.7 L856.5 747.2 L852.5 746.8 L848.5 746.4 L844.5 746.0 L840.5 745.6 L836.5 745.2 L832.5 744.9 L828.5 744.6 L824.5 744.3 L820.5 744.1 L816.5 743.9 L812.5 743.7 L808.5 743.5 L804.5 743.3 L802.5 743.2 L800.5 743.1 L796.5 742.9 L794.5 742.8 L792.5 742.7 L788.5 742.5 L784.5 742.3 L782.5 742.2 L780.5 742.1 L777.5 742.0 L776.5 742.0 L772.5 741.8 L768.5 741.7 L767.5 741.7 L764.5 741.6 L762.5 741.5 L760.5 741.4 L758.5 741.4 L756.5 741.3 L755.5 741.3 L752.5 741.2 L750.5 741.2 L748.5 741.2 L746.5 741.1 L744.5 741.1 L742.5 741.1 L741.5 741.1 L740.5 741.0 L739.5 741.0 L738.5 741.0 L737.5 741.0 L736.5 741.0 L736.0 741.0 L735.5 741.0 L735.0 741.0 L734.5 741.0 L734.1 741.0 L733.8 741.0 L733.5 741.0 L733.2 741.0 L733.0 741.0 L732.9 741.0 L732.7 741.0 L732.6 741.0 L732.5 741.0 Z" fill="none" stroke="#1fae55" stroke-width="1.80" stroke-linejoin="round"/>
<path d="M732.5 739.0 L732.6 716.5 L732.7 697.9 L732.9 675.7 L733.0 658.7 L733.2 638.7 L733.5 625.4 L733.8 615.0 L734.1 608.0 L734.5 601.6 L735.0 596.3 L735.5 592.3 L736.0 589.2 L736.5 586.6 L737.5 582.5 L738.5 579.5 L739.5 577.3 L740.5 575.6 L741.5 574.2 L742.5 573.2 L744.5 571.7 L746.5 570.7 L748.5 570.0 L750.5 569.4 L752.5 569.0 L755.5 568.3 L756.5 568.1 L758.5 567.7 L760.5 567.3 L762.5 567.0 L764.5 566.6 L767.5 566.1 L768.5 566.0 L772.5 565.3 L776.5 564.7 L777.5 564.6 L780.5 564.2 L782.5 563.9 L784.5 563.6 L788.5 563.1 L792.5 562.6 L794.5 562.3 L796.5 562.1 L800.5 561.6 L802.5 561.3 L804.5 561.1 L808.5 560.6 L812.5 560.1 L816.5 559.5 L820.5 559.0 L824.5 558.4 L828.5 557.8 L832.5 557.3 L836.5 556.7 L840.5 556.2 L844.5 555.6 L848.5 555.1 L852.5 554.5 L856.5 554.0 L860.5 553.4 L864.5 552.9 L868.5 552.4 L872.5 551.9 L876.5 551.3 L880.5 550.8 L884.5 550.3 L888.5 549.8 L892.5 549.3 L896.5 548.8 L900.5 548.3 L904.5 547.8 L908.5 547.3 L912.5 546.8 L916.5 546.3 L920.5 545.9 L924.5 545.4 L928.5 544.9 L932.5 544.5 L936.5 544.0 L940.5 543.6 L944.5 543.1 L948.5 542.7 L952.5 542.2 L956.5 541.8 L960.5 541.4 L964.5 540.9 L968.5 540.5 L972.5 540.0 L976.5 539.6 L980.5 539.2 L984.5 538.7 L988.5 538.3 L992.5 537.8 L996.5 537.4 L1000.5 536.9 L1004.5 536.5 L1008.5 536.1 L1012.5 535.7 L1016.5 535.3 L1020.5 534.9 L1024.5 534.5 L1028.5 534.1 L1032.5 533.7 L1036.5 533.3 L1040.5 532.9 L1044.5 532.5 L1048.5 532.1 L1052.5 531.6 L1056.5 531.2 L1060.5 530.7 L1064.5 530.2 L1068.5 529.7 L1072.5 529.2 L1076.5 528.6 L1080.5 528.0 L1084.5 527.4 L1088.5 526.8 L1092.5 526.1 L1096.5 525.4 L1100.5 524.6 L1104.5 523.9 L1108.5 523.1 L1112.5 522.2 L1116.5 521.4 L1120.5 520.5 L1124.5 519.5 L1128.5 518.6 L1132.5 517.6 L1136.5 516.5 L1140.5 515.5 L1144.5 514.4 L1148.5 513.2 L1150.0 512.8 L1152.5 512.1 L1156.5 510.8 L1158.0 510.4 L1160.5 509.6 L1164.0 508.5 L1164.5 508.3 L1168.5 506.9 L1170.0 506.4 L1172.5 505.4 L1175.0 504.4 L1176.5 503.8 L1180.0 502.2 L1180.5 502.0 L1184.5 500.2 L1185.0 499.9 L1188.5 498.2 L1190.0 497.5 L1192.5 496.2 L1194.0 495.4 L1196.5 494.1 L1197.0 493.8 L1200.0 492.2 L1200.5 491.9 L1202.0 491.1 L1204.0 490.0 L1204.5 489.7 L1206.0 488.8 L1208.0 487.7 L1208.5 487.4 L1210.0 486.5 L1211.0 486.0 L1212.0 485.4 L1212.5 485.1 L1213.0 484.8 L1214.0 484.2 L1215.0 483.6 L1216.0 483.0 L1216.5 482.7 L1217.0 482.4 L1217.5 482.1 L1218.0 481.8 L1218.4 481.6 L1218.7 481.4 L1219.0 481.2 L1219.2 481.1 L1219.5 480.9 L1219.7 480.8 L1219.8 480.7 L1219.9 480.7 L1220.0 480.6 L1220.0 480.6 L1219.9 540.7 L1219.8 584.0 L1219.7 627.3 L1219.5 654.0 L1219.2 678.0 L1219.0 689.3 L1218.7 696.0 L1218.4 699.5 L1218.0 702.6 L1217.5 705.6 L1217.0 708.3 L1216.5 710.9 L1216.0 713.3 L1215.0 717.8 L1214.0 721.8 L1213.0 725.5 L1212.5 727.2 L1212.0 728.8 L1211.0 731.8 L1210.0 734.6 L1208.5 738.2 L1208.0 739.3 L1206.0 743.1 L1204.5 745.6 L1204.0 746.3 L1202.0 748.9 L1200.5 750.6 L1200.0 751.1 L1197.0 753.6 L1196.5 753.9 L1194.0 755.5 L1192.5 756.2 L1190.0 757.3 L1188.5 757.8 L1185.0 758.7 L1184.5 758.9 L1180.5 759.6 L1180.0 759.7 L1176.5 760.1 L1175.0 760.2 L1172.5 760.4 L1170.0 760.6 L1168.5 760.7 L1164.5 760.9 L1164.0 760.9 L1160.5 761.0 L1158.0 761.1 L1156.5 761.1 L1152.5 761.2 L1150.0 761.2 L1148.5 761.2 L1144.5 761.3 L1140.5 761.3 L1136.5 761.4 L1132.5 761.4 L1128.5 761.5 L1124.5 761.5 L1120.5 761.5 L1116.5 761.6 L1112.5 761.6 L1108.5 761.6 L1104.5 761.6 L1100.5 761.7 L1096.5 761.7 L1092.5 761.7 L1088.5 761.7 L1084.5 761.7 L1080.5 761.7 L1076.5 761.7 L1072.5 761.6 L1068.5 761.5 L1064.5 761.4 L1060.5 761.2 L1056.5 761.0 L1052.5 760.8 L1048.5 760.6 L1044.5 760.3 L1040.5 760.0 L1036.5 759.7 L1032.5 759.4 L1028.5 759.1 L1024.5 758.8 L1020.5 758.5 L1016.5 758.2 L1012.5 757.9 L1008.5 757.6 L1004.5 757.3 L1000.5 757.0 L996.5 756.8 L992.5 756.5 L988.5 756.3 L984.5 756.0 L980.5 755.8 L976.5 755.5 L972.5 755.2 L968.5 755.0 L964.5 754.7 L960.5 754.4 L956.5 754.2 L952.5 753.9 L948.5 753.6 L944.5 753.4 L940.5 753.1 L936.5 752.8 L932.5 752.5 L928.5 752.2 L924.5 751.9 L920.5 751.6 L916.5 751.3 L912.5 751.0 L908.5 750.7 L904.5 750.4 L900.5 750.0 L896.5 749.7 L892.5 749.3 L888.5 748.9 L884.5 748.5 L880.5 748.1 L876.5 747.7 L872.5 747.3 L868.5 746.8 L864.5 746.4 L860.5 746.0 L856.5 745.6 L852.5 745.2 L848.5 744.8 L844.5 744.4 L840.5 744.0 L836.5 743.7 L832.5 743.3 L828.5 743.0 L824.5 742.7 L820.5 742.5 L816.5 742.3 L812.5 742.1 L808.5 741.8 L804.5 741.6 L802.5 741.5 L800.5 741.4 L796.5 741.2 L794.5 741.1 L792.5 741.0 L788.5 740.8 L784.5 740.6 L782.5 740.5 L780.5 740.5 L777.5 740.3 L776.5 740.3 L772.5 740.1 L768.5 740.0 L767.5 739.9 L764.5 739.8 L762.5 739.7 L760.5 739.7 L758.5 739.6 L756.5 739.5 L755.5 739.5 L752.5 739.4 L750.5 739.4 L748.5 739.3 L746.5 739.3 L744.5 739.2 L742.5 739.2 L741.5 739.1 L740.5 739.1 L739.5 739.1 L738.5 739.1 L737.5 739.1 L736.5 739.1 L736.0 739.1 L735.5 739.0 L735.0 739.0 L734.5 739.0 L734.1 739.0 L733.8 739.0 L733.5 739.0 L733.2 739.0 L733.0 739.0 L732.9 739.0 L732.7 739.0 L732.6 739.0 L732.5 739.0 Z" fill="none" stroke="#ee3b33" stroke-width="1.80" stroke-linejoin="round"/>
<path d="M732.5 762.0 L732.6 754.2 L732.7 747.1 L732.9 737.5 L733.0 729.2 L733.2 717.6 L733.5 708.3 L733.8 699.4 L734.1 692.4 L734.5 685.3 L735.0 678.7 L735.5 673.8 L736.0 669.9 L736.5 666.7 L737.5 661.5 L738.5 657.0 L739.5 653.1 L740.5 649.4 L741.5 646.0 L742.5 642.8 L744.5 637.0 L746.5 631.9 L748.5 627.4 L750.5 623.3 L752.5 619.7 L755.5 615.0 L756.5 613.6 L758.5 611.0 L760.5 608.6 L762.5 606.5 L764.5 604.6 L767.5 602.0 L768.5 601.2 L772.5 598.3 L776.5 595.8 L777.5 595.2 L780.5 593.6 L782.5 592.6 L784.5 591.7 L788.5 590.0 L792.5 588.4 L794.5 587.7 L796.5 587.0 L800.5 585.6 L802.5 585.0 L804.5 584.4 L808.5 583.2 L812.5 582.0 L816.5 580.8 L820.5 579.7 L824.5 578.5 L828.5 577.4 L832.5 576.3 L836.5 575.2 L840.5 574.1 L844.5 573.1 L848.5 572.0 L852.5 570.9 L856.5 569.9 L860.5 568.8 L864.5 567.8 L868.5 566.8 L872.5 565.7 L876.5 564.7 L880.5 563.6 L884.5 562.6 L888.5 561.6 L892.5 560.5 L896.5 559.5 L900.5 558.4 L904.5 557.4 L908.5 556.3 L912.5 555.3 L916.5 554.2 L920.5 553.2 L924.5 552.1 L928.5 551.0 L932.5 550.0 L936.5 548.9 L940.5 547.9 L944.5 546.8 L948.5 545.7 L952.5 544.7 L956.5 543.6 L960.5 542.6 L964.5 541.5 L968.5 540.5 L972.5 539.4 L976.5 538.4 L980.5 537.4 L984.5 536.4 L988.5 535.3 L992.5 534.3 L996.5 533.4 L1000.5 532.4 L1004.5 531.4 L1008.5 530.5 L1012.5 529.5 L1016.5 528.6 L1020.5 527.6 L1024.5 526.7 L1028.5 525.8 L1032.5 524.9 L1036.5 524.0 L1040.5 523.1 L1044.5 522.2 L1048.5 521.3 L1052.5 520.4 L1056.5 519.5 L1060.5 518.6 L1064.5 517.6 L1068.5 516.7 L1072.5 515.8 L1076.5 514.9 L1080.5 514.0 L1084.5 513.1 L1088.5 512.2 L1092.5 511.4 L1096.5 510.6 L1100.5 509.8 L1104.5 509.0 L1108.5 508.2 L1112.5 507.5 L1116.5 506.7 L1120.5 505.9 L1124.5 505.1 L1128.5 504.2 L1132.5 503.3 L1136.5 502.4 L1140.5 501.4 L1144.5 500.4 L1148.5 499.3 L1150.0 498.9 L1152.5 498.2 L1156.5 497.0 L1158.0 496.5 L1160.5 495.7 L1164.0 494.5 L1164.5 494.3 L1168.5 492.6 L1170.0 491.9 L1172.5 490.7 L1175.0 489.3 L1176.5 488.5 L1180.0 486.4 L1180.5 486.1 L1184.5 483.5 L1185.0 483.2 L1188.5 481.0 L1190.0 480.0 L1192.5 478.4 L1194.0 477.3 L1196.5 475.6 L1197.0 475.3 L1200.0 473.1 L1200.5 472.7 L1202.0 471.6 L1204.0 470.1 L1204.5 469.7 L1206.0 468.5 L1208.0 467.0 L1208.5 466.6 L1210.0 465.3 L1211.0 464.5 L1212.0 463.7 L1212.5 463.3 L1213.0 462.9 L1214.0 462.0 L1215.0 461.2 L1216.0 460.3 L1216.5 459.9 L1217.0 459.4 L1217.5 459.0 L1218.0 458.6 L1218.4 458.2 L1218.7 458.0 L1219.0 457.7 L1219.2 457.5 L1219.5 457.2 L1219.7 457.1 L1219.8 457.0 L1219.9 456.9 L1220.0 456.8 L1220.0 456.8 L1219.9 470.7 L1219.8 482.7 L1219.7 497.7 L1219.5 509.9 L1219.2 525.5 L1219.0 536.9 L1218.7 547.1 L1218.4 554.7 L1218.0 562.7 L1217.5 570.5 L1217.0 577.1 L1216.5 583.1 L1216.0 588.6 L1215.0 598.7 L1214.0 607.8 L1213.0 616.2 L1212.5 620.1 L1212.0 623.8 L1211.0 630.8 L1210.0 637.2 L1208.5 645.8 L1208.0 648.5 L1206.0 658.2 L1204.5 664.5 L1204.0 666.5 L1202.0 673.7 L1200.5 678.5 L1200.0 680.0 L1197.0 688.1 L1196.5 689.3 L1194.0 694.9 L1192.5 697.9 L1190.0 702.4 L1188.5 704.9 L1185.0 710.0 L1184.5 710.7 L1180.5 715.6 L1180.0 716.2 L1176.5 719.8 L1175.0 721.2 L1172.5 723.4 L1170.0 725.4 L1168.5 726.5 L1164.5 729.3 L1164.0 729.6 L1160.5 731.7 L1158.0 733.1 L1156.5 733.8 L1152.5 735.7 L1150.0 736.8 L1148.5 737.4 L1144.5 738.9 L1140.5 740.3 L1136.5 741.5 L1132.5 742.6 L1128.5 743.6 L1124.5 744.4 L1120.5 745.3 L1116.5 746.0 L1112.5 746.7 L1108.5 747.3 L1104.5 747.9 L1100.5 748.5 L1096.5 749.0 L1092.5 749.5 L1088.5 750.0 L1084.5 750.4 L1080.5 750.9 L1076.5 751.4 L1072.5 751.8 L1068.5 752.3 L1064.5 752.7 L1060.5 753.2 L1056.5 753.6 L1052.5 754.0 L1048.5 754.3 L1044.5 754.7 L1040.5 755.1 L1036.5 755.5 L1032.5 755.9 L1028.5 756.3 L1024.5 756.7 L1020.5 757.1 L1016.5 757.5 L1012.5 757.8 L1008.5 758.2 L1004.5 758.5 L1000.5 758.9 L996.5 759.2 L992.5 759.5 L988.5 759.9 L984.5 760.2 L980.5 760.6 L976.5 760.9 L972.5 761.1 L968.5 761.4 L964.5 761.6 L960.5 761.7 L956.5 761.7 L952.5 761.7 L948.5 761.8 L944.5 761.8 L940.5 761.8 L936.5 761.7 L932.5 761.7 L928.5 761.7 L924.5 761.6 L920.5 761.6 L916.5 761.5 L912.5 761.4 L908.5 761.3 L904.5 761.2 L900.5 761.1 L896.5 760.8 L892.5 760.6 L888.5 760.2 L884.5 759.9 L880.5 759.5 L876.5 759.1 L872.5 758.7 L868.5 758.3 L864.5 758.0 L860.5 757.7 L856.5 757.4 L852.5 757.2 L848.5 757.1 L844.5 756.9 L840.5 756.8 L836.5 756.7 L832.5 756.6 L828.5 756.5 L824.5 756.4 L820.5 756.3 L816.5 756.3 L812.5 756.2 L808.5 756.1 L804.5 756.1 L802.5 756.1 L800.5 756.1 L796.5 756.1 L794.5 756.1 L792.5 756.1 L788.5 756.2 L784.5 756.4 L782.5 756.5 L780.5 756.6 L777.5 756.9 L776.5 756.9 L772.5 757.3 L768.5 757.6 L767.5 757.7 L764.5 758.0 L762.5 758.2 L760.5 758.4 L758.5 758.6 L756.5 758.8 L755.5 759.0 L752.5 759.4 L750.5 759.7 L748.5 760.0 L746.5 760.4 L744.5 760.7 L742.5 761.1 L741.5 761.3 L740.5 761.5 L739.5 761.7 L738.5 761.9 L737.5 762.1 L736.5 762.3 L736.0 762.4 L735.5 762.5 L735.0 762.7 L734.5 762.8 L734.1 762.8 L733.8 762.9 L733.5 763.0 L733.2 763.0 L733.0 763.1 L732.9 763.1 L732.7 763.2 L732.6 763.2 L732.5 763.2 Z" fill="none" stroke="#2f80cf" stroke-width="1.80" stroke-linejoin="round"/>
<path d="M732.5 732.0 L732.6 725.4 L732.7 719.4 L732.9 711.4 L733.0 704.3 L733.2 694.5 L733.5 686.7 L733.8 679.1 L734.1 673.2 L734.5 667.1 L735.0 661.5 L735.5 657.3 L736.0 653.9 L736.5 651.1 L737.5 646.5 L738.5 642.5 L739.5 639.0 L740.5 635.7 L741.5 632.6 L742.5 629.7 L744.5 624.3 L746.5 619.6 L748.5 615.3 L750.5 611.5 L752.5 608.1 L755.5 603.7 L756.5 602.4 L758.5 599.9 L760.5 597.7 L762.5 595.7 L764.5 593.9 L767.5 591.4 L768.5 590.7 L772.5 588.1 L776.5 585.9 L777.5 585.4 L780.5 584.0 L782.5 583.2 L784.5 582.4 L788.5 580.9 L792.5 579.6 L794.5 579.0 L796.5 578.5 L800.5 577.4 L802.5 576.9 L804.5 576.4 L808.5 575.5 L812.5 574.6 L816.5 573.8 L820.5 573.0 L824.5 572.3 L828.5 571.5 L832.5 570.8 L836.5 570.1 L840.5 569.4 L844.5 568.8 L848.5 568.1 L852.5 567.5 L856.5 566.9 L860.5 566.2 L864.5 565.6 L868.5 565.0 L872.5 564.4 L876.5 563.8 L880.5 563.1 L884.5 562.5 L888.5 561.9 L892.5 561.3 L896.5 560.7 L900.5 560.1 L904.5 559.4 L908.5 558.8 L912.5 558.2 L916.5 557.5 L920.5 556.9 L924.5 556.2 L928.5 555.5 L932.5 554.9 L936.5 554.2 L940.5 553.5 L944.5 552.9 L948.5 552.2 L952.5 551.5 L956.5 550.9 L960.5 550.3 L964.5 549.6 L968.5 549.0 L972.5 548.4 L976.5 547.8 L980.5 547.3 L984.5 546.7 L988.5 546.2 L992.5 545.7 L996.5 545.2 L1000.5 544.7 L1004.5 544.3 L1008.5 543.9 L1012.5 543.4 L1016.5 543.0 L1020.5 542.6 L1024.5 542.2 L1028.5 541.9 L1032.5 541.5 L1036.5 541.1 L1040.5 540.7 L1044.5 540.3 L1048.5 539.9 L1052.5 539.5 L1056.5 539.1 L1060.5 538.7 L1064.5 538.3 L1068.5 537.9 L1072.5 537.4 L1076.5 536.9 L1080.5 536.4 L1084.5 535.9 L1088.5 535.4 L1092.5 534.9 L1096.5 534.4 L1100.5 533.9 L1104.5 533.3 L1108.5 532.8 L1112.5 532.2 L1116.5 531.6 L1120.5 531.0 L1124.5 530.3 L1128.5 529.6 L1132.5 528.9 L1136.5 528.2 L1140.5 527.4 L1144.5 526.5 L1148.5 525.5 L1150.0 525.1 L1152.5 524.4 L1156.5 523.2 L1158.0 522.8 L1160.5 522.0 L1164.0 521.1 L1164.5 520.9 L1168.5 519.9 L1170.0 519.4 L1172.5 518.8 L1175.0 518.1 L1176.5 517.7 L1180.0 516.7 L1180.5 516.6 L1184.5 515.5 L1185.0 515.4 L1188.5 514.4 L1190.0 514.0 L1192.5 513.3 L1194.0 512.9 L1196.5 512.2 L1197.0 512.1 L1200.0 511.2 L1200.5 511.1 L1202.0 510.7 L1204.0 510.1 L1204.5 510.0 L1206.0 509.6 L1208.0 509.0 L1208.5 508.9 L1210.0 508.5 L1211.0 508.2 L1212.0 507.9 L1212.5 507.8 L1213.0 507.6 L1214.0 507.4 L1215.0 507.1 L1216.0 506.8 L1216.5 506.7 L1217.0 506.5 L1217.5 506.4 L1218.0 506.3 L1218.4 506.1 L1218.7 506.1 L1219.0 506.0 L1219.2 505.9 L1219.5 505.8 L1219.7 505.8 L1219.8 505.8 L1219.9 505.7 L1220.0 505.7 L1220.0 505.7 L1219.9 513.7 L1219.8 520.5 L1219.7 528.8 L1219.5 535.4 L1219.2 543.7 L1219.0 549.8 L1218.7 555.4 L1218.4 559.9 L1218.0 564.9 L1217.5 570.3 L1217.0 575.3 L1216.5 580.0 L1216.0 584.5 L1215.0 592.9 L1214.0 600.8 L1213.0 608.2 L1212.5 611.7 L1212.0 615.2 L1211.0 621.7 L1210.0 627.8 L1208.5 636.3 L1208.0 639.0 L1206.0 649.1 L1204.5 656.0 L1204.0 658.1 L1202.0 666.3 L1200.5 671.9 L1200.0 673.7 L1197.0 683.6 L1196.5 685.2 L1194.0 692.3 L1192.5 696.2 L1190.0 702.1 L1188.5 705.4 L1185.0 712.3 L1184.5 713.2 L1180.5 719.7 L1180.0 720.4 L1176.5 725.2 L1175.0 727.0 L1172.5 729.8 L1170.0 732.3 L1168.5 733.7 L1164.5 737.0 L1164.0 737.4 L1160.5 739.8 L1158.0 741.3 L1156.5 742.1 L1152.5 744.0 L1150.0 745.1 L1148.5 745.7 L1144.5 747.0 L1140.5 748.1 L1136.5 749.1 L1132.5 749.9 L1128.5 750.5 L1124.5 751.0 L1120.5 751.4 L1116.5 751.8 L1112.5 752.0 L1108.5 752.2 L1104.5 752.4 L1100.5 752.5 L1096.5 752.6 L1092.5 752.7 L1088.5 752.7 L1084.5 752.7 L1080.5 752.7 L1076.5 752.7 L1072.5 752.7 L1068.5 752.7 L1064.5 752.6 L1060.5 752.6 L1056.5 752.5 L1052.5 752.5 L1048.5 752.4 L1044.5 752.4 L1040.5 752.3 L1036.5 752.2 L1032.5 752.1 L1028.5 752.1 L1024.5 752.0 L1020.5 751.9 L1016.5 751.8 L1012.5 751.7 L1008.5 751.6 L1004.5 751.5 L1000.5 751.3 L996.5 751.2 L992.5 751.1 L988.5 750.9 L984.5 750.8 L980.5 750.6 L976.5 750.4 L972.5 750.2 L968.5 750.0 L964.5 749.8 L960.5 749.6 L956.5 749.4 L952.5 749.2 L948.5 748.9 L944.5 748.7 L940.5 748.4 L936.5 748.1 L932.5 747.9 L928.5 747.6 L924.5 747.3 L920.5 747.0 L916.5 746.7 L912.5 746.4 L908.5 746.1 L904.5 745.8 L900.5 745.4 L896.5 745.1 L892.5 744.7 L888.5 744.3 L884.5 743.9 L880.5 743.5 L876.5 743.0 L872.5 742.6 L868.5 742.1 L864.5 741.6 L860.5 741.2 L856.5 740.7 L852.5 740.2 L848.5 739.7 L844.5 739.3 L840.5 738.8 L836.5 738.4 L832.5 738.0 L828.5 737.5 L824.5 737.1 L820.5 736.8 L816.5 736.4 L812.5 736.0 L808.5 735.6 L804.5 735.2 L802.5 735.0 L800.5 734.7 L796.5 734.3 L794.5 734.1 L792.5 733.9 L788.5 733.5 L784.5 733.2 L782.5 733.0 L780.5 732.8 L777.5 732.6 L776.5 732.5 L772.5 732.3 L768.5 732.1 L767.5 732.1 L764.5 732.0 L762.5 732.0 L760.5 732.0 L758.5 732.0 L756.5 732.0 L755.5 732.0 L752.5 732.0 L750.5 732.0 L748.5 732.0 L746.5 732.0 L744.5 732.0 L742.5 732.0 L741.5 732.0 L740.5 732.0 L739.5 732.0 L738.5 732.0 L737.5 732.0 L736.5 732.0 L736.0 732.0 L735.5 732.0 L735.0 732.0 L734.5 732.0 L734.1 732.0 L733.8 732.0 L733.5 732.0 L733.2 732.0 L733.0 732.0 L732.9 732.0 L732.7 732.0 L732.6 732.0 L732.5 732.0 Z" fill="none" stroke="#333333" stroke-width="1.80" stroke-linejoin="round"/>
<text x="747.0" y="454.4" font-size="23.0" text-anchor="start" font-weight="bold" fill="#111" >(d)</text>
<text x="797.0" y="453.4" font-size="16.0" text-anchor="start" font-weight="bold" fill="#222" ><tspan font-style="italic">v</tspan> = 10 mV s<tspan font-size="9.6" dy="-6">-1</tspan><tspan dy="6">, &#916;</tspan><tspan font-style="italic">E</tspan> = 3.6V</text>
<path d="M835.3 601.2 h21.9" stroke="#333333" stroke-width="2.2"/>
<text x="860.5" y="606.0" font-size="14.0" text-anchor="start" font-weight="normal" fill="#333" >SiC-CDC 1100 A3</text>
<path d="M987.4 601.2 h22.9" stroke="#ee3b33" stroke-width="2.2"/>
<text x="1012.5" y="606.0" font-size="14.0" text-anchor="start" font-weight="normal" fill="#333" >St-900</text>
<path d="M835.3 623.0 h21.9" stroke="#ee3b33" stroke-width="2.2" stroke-dasharray="7,7.5"/>
<text x="860.5" y="627.8" font-size="14.0" text-anchor="start" font-weight="normal" fill="#333" >St-900-H2</text>
<path d="M987.4 623.0 h22.9" stroke="#1fae55" stroke-width="2.2"/>
<text x="1012.5" y="627.8" font-size="14.0" text-anchor="start" font-weight="normal" fill="#333" >St-1000</text>
<path d="M835.3 644.8 h21.9" stroke="#1fae55" stroke-width="2.2" stroke-dasharray="7,7.5"/>
<text x="860.5" y="649.6" font-size="14.0" text-anchor="start" font-weight="normal" fill="#333" >St-1000-H2</text>
<path d="M987.4 644.8 h22.9" stroke="#2f80cf" stroke-width="2.2"/>
<text x="1012.5" y="649.6" font-size="14.0" text-anchor="start" font-weight="normal" fill="#333" >St-CO2-900</text>
<path d="M835.3 666.6 h21.9" stroke="#2f80cf" stroke-width="2.2" stroke-dasharray="7,7.5"/>
<text x="860.5" y="671.4" font-size="14.0" text-anchor="start" font-weight="normal" fill="#333" >St-CO2-900-H2</text>
<path d="M987.4 666.6 h22.9" stroke="#f59a5b" stroke-width="2.2"/>
<text x="1012.5" y="671.4" font-size="14.0" text-anchor="start" font-weight="normal" fill="#333" >St-CO2-1000</text>
<path d="M835.3 688.4 h21.9" stroke="#f8c49a" stroke-width="2.2" stroke-dasharray="7,7.5"/>
<text x="860.5" y="693.2" font-size="14.0" text-anchor="start" font-weight="normal" fill="#333" >St-CO2-1000-H2</text>
<path d="M942.5 525.0 H969.5" stroke="#888" stroke-width="1.3"/>
<path d="M972.5 525.0 L966.5 522.4 L966.5 527.6 Z" fill="#888"/>
<path d="M985.0 773.5 H958.0" stroke="#888" stroke-width="1.3"/>
<path d="M955.0 773.5 L961.0 770.9 L961.0 776.1 Z" fill="#888"/>
<text x="964.3" y="829.4" font-size="21.0" text-anchor="middle" font-weight="bold" fill="#222" >&#916;<tspan font-style="italic">E</tspan> (V)</text>
<text transform="translate(677.5 607.6) rotate(-90)" font-size="21" font-weight="bold" fill="#222" text-anchor="middle"><tspan font-style="italic">C</tspan><tspan font-size="13.3" dy="4">m; CV</tspan><tspan dy="-4"> (F g</tspan><tspan font-size="12.9" dy="-8">-1</tspan><tspan dy="8">)</tspan></text>
<path d="M389.6 847.3 H933.7 V1191.3" fill="none" stroke="#a8a8a8" stroke-width="2"/>
<path d="M389.6 855.9 h3.4" stroke="#444" stroke-width="1.6"/>
<path d="M389.6 864.5 h3.4" stroke="#444" stroke-width="1.6"/>
<path d="M389.6 873.1 h3.4" stroke="#444" stroke-width="1.6"/>
<path d="M389.6 881.7 h3.4" stroke="#444" stroke-width="1.6"/>
<path d="M389.6 890.3 h3.4" stroke="#444" stroke-width="1.6"/>
<path d="M389.6 898.9 h3.4" stroke="#444" stroke-width="1.6"/>
<path d="M389.6 907.5 h3.4" stroke="#444" stroke-width="1.6"/>
<path d="M389.6 916.1 h3.4" stroke="#444" stroke-width="1.6"/>
<path d="M389.6 924.7 h3.4" stroke="#444" stroke-width="1.6"/>
<path d="M389.6 933.3 h3.4" stroke="#444" stroke-width="1.6"/>
<path d="M389.6 941.9 h3.4" stroke="#444" stroke-width="1.6"/>
<path d="M389.6 950.5 h3.4" stroke="#444" stroke-width="1.6"/>
<path d="M389.6 959.1 h3.4" stroke="#444" stroke-width="1.6"/>
<path d="M389.6 967.7 h3.4" stroke="#444" stroke-width="1.6"/>
<path d="M389.6 976.3 h3.4" stroke="#444" stroke-width="1.6"/>
<path d="M389.6 984.9 h3.4" stroke="#444" stroke-width="1.6"/>
<path d="M389.6 993.5 h3.4" stroke="#444" stroke-width="1.6"/>
<path d="M389.6 1002.1 h3.4" stroke="#444" stroke-width="1.6"/>
<path d="M389.6 1010.7 h3.4" stroke="#444" stroke-width="1.6"/>
<path d="M389.6 1019.3 h3.4" stroke="#444" stroke-width="1.6"/>
<path d="M389.6 1027.9 h3.4" stroke="#444" stroke-width="1.6"/>
<path d="M389.6 1036.5 h3.4" stroke="#444" stroke-width="1.6"/>
<path d="M389.6 1045.1 h3.4" stroke="#444" stroke-width="1.6"/>
<path d="M389.6 1053.7 h3.4" stroke="#444" stroke-width="1.6"/>
<path d="M389.6 1062.3 h3.4" stroke="#444" stroke-width="1.6"/>
<path d="M389.6 1070.9 h3.4" stroke="#444" stroke-width="1.6"/>
<path d="M389.6 1079.5 h3.4" stroke="#444" stroke-width="1.6"/>
<path d="M389.6 1088.1 h3.4" stroke="#444" stroke-width="1.6"/>
<path d="M389.6 1096.7 h3.4" stroke="#444" stroke-width="1.6"/>
<path d="M389.6 1105.3 h3.4" stroke="#444" stroke-width="1.6"/>
<path d="M389.6 1113.9 h3.4" stroke="#444" stroke-width="1.6"/>
<path d="M389.6 1122.5 h3.4" stroke="#444" stroke-width="1.6"/>
<path d="M389.6 1131.1 h3.4" stroke="#444" stroke-width="1.6"/>
<path d="M389.6 1139.7 h3.4" stroke="#444" stroke-width="1.6"/>
<path d="M389.6 1148.3 h3.4" stroke="#444" stroke-width="1.6"/>
<path d="M389.6 1156.9 h3.4" stroke="#444" stroke-width="1.6"/>
<path d="M389.6 1165.5 h3.4" stroke="#444" stroke-width="1.6"/>
<path d="M389.6 1174.1 h3.4" stroke="#444" stroke-width="1.6"/>
<path d="M389.6 1182.7 h3.4" stroke="#444" stroke-width="1.6"/>
<path d="M400.5 1191.3 v-3" stroke="#555" stroke-width="1.3"/>
<path d="M411.4 1191.3 v-3" stroke="#555" stroke-width="1.3"/>
<path d="M422.2 1191.3 v-3" stroke="#555" stroke-width="1.3"/>
<path d="M433.1 1191.3 v-3" stroke="#555" stroke-width="1.3"/>
<path d="M444.0 1191.3 v-3" stroke="#555" stroke-width="1.3"/>
<path d="M454.9 1191.3 v-3" stroke="#555" stroke-width="1.3"/>
<path d="M465.8 1191.3 v-3" stroke="#555" stroke-width="1.3"/>
<path d="M476.7 1191.3 v-3" stroke="#555" stroke-width="1.3"/>
<path d="M487.5 1191.3 v-3" stroke="#555" stroke-width="1.3"/>
<path d="M498.4 1191.3 v-3" stroke="#555" stroke-width="1.3"/>
<path d="M509.3 1191.3 v-3" stroke="#555" stroke-width="1.3"/>
<path d="M520.2 1191.3 v-3" stroke="#555" stroke-width="1.3"/>
<path d="M531.1 1191.3 v-3" stroke="#555" stroke-width="1.3"/>
<path d="M541.9 1191.3 v-3" stroke="#555" stroke-width="1.3"/>
<path d="M552.8 1191.3 v-3" stroke="#555" stroke-width="1.3"/>
<path d="M563.7 1191.3 v-3" stroke="#555" stroke-width="1.3"/>
<path d="M574.6 1191.3 v-3" stroke="#555" stroke-width="1.3"/>
<path d="M585.5 1191.3 v-3" stroke="#555" stroke-width="1.3"/>
<path d="M596.4 1191.3 v-3" stroke="#555" stroke-width="1.3"/>
<path d="M607.2 1191.3 v-3" stroke="#555" stroke-width="1.3"/>
<path d="M618.1 1191.3 v-3" stroke="#555" stroke-width="1.3"/>
<path d="M629.0 1191.3 v-3" stroke="#555" stroke-width="1.3"/>
<path d="M639.9 1191.3 v-3" stroke="#555" stroke-width="1.3"/>
<path d="M650.8 1191.3 v-3" stroke="#555" stroke-width="1.3"/>
<path d="M661.7 1191.3 v-3" stroke="#555" stroke-width="1.3"/>
<path d="M672.5 1191.3 v-3" stroke="#555" stroke-width="1.3"/>
<path d="M683.4 1191.3 v-3" stroke="#555" stroke-width="1.3"/>
<path d="M694.3 1191.3 v-3" stroke="#555" stroke-width="1.3"/>
<path d="M705.2 1191.3 v-3" stroke="#555" stroke-width="1.3"/>
<path d="M716.1 1191.3 v-3" stroke="#555" stroke-width="1.3"/>
<path d="M726.9 1191.3 v-3" stroke="#555" stroke-width="1.3"/>
<path d="M737.8 1191.3 v-3" stroke="#555" stroke-width="1.3"/>
<path d="M748.7 1191.3 v-3" stroke="#555" stroke-width="1.3"/>
<path d="M759.6 1191.3 v-3" stroke="#555" stroke-width="1.3"/>
<path d="M770.5 1191.3 v-3" stroke="#555" stroke-width="1.3"/>
<path d="M781.4 1191.3 v-3" stroke="#555" stroke-width="1.3"/>
<path d="M792.2 1191.3 v-3" stroke="#555" stroke-width="1.3"/>
<path d="M803.1 1191.3 v-3" stroke="#555" stroke-width="1.3"/>
<path d="M814.0 1191.3 v-3" stroke="#555" stroke-width="1.3"/>
<path d="M824.9 1191.3 v-3" stroke="#555" stroke-width="1.3"/>
<path d="M835.8 1191.3 v-3" stroke="#555" stroke-width="1.3"/>
<path d="M846.6 1191.3 v-3" stroke="#555" stroke-width="1.3"/>
<path d="M857.5 1191.3 v-3" stroke="#555" stroke-width="1.3"/>
<path d="M868.4 1191.3 v-3" stroke="#555" stroke-width="1.3"/>
<path d="M879.3 1191.3 v-3" stroke="#555" stroke-width="1.3"/>
<path d="M890.2 1191.3 v-3" stroke="#555" stroke-width="1.3"/>
<path d="M901.1 1191.3 v-3" stroke="#555" stroke-width="1.3"/>
<path d="M911.9 1191.3 v-3" stroke="#555" stroke-width="1.3"/>
<path d="M922.8 1191.3 v-3" stroke="#555" stroke-width="1.3"/>
<path d="M389.6 847.3 V1191.3 H933.7" fill="none" stroke="#777" stroke-width="2"/>
<path d="M933.7 848.3 V1191.3" stroke="#777" stroke-width="2"/>
<text x="376.5" y="851.8" font-size="13.0" text-anchor="end" font-weight="normal" fill="#3c3c3c" >160</text>
<text x="376.5" y="894.8" font-size="13.0" text-anchor="end" font-weight="normal" fill="#3c3c3c" >140</text>
<text x="376.5" y="937.8" font-size="13.0" text-anchor="end" font-weight="normal" fill="#3c3c3c" >120</text>
<text x="376.5" y="980.8" font-size="13.0" text-anchor="end" font-weight="normal" fill="#3c3c3c" >100</text>
<text x="376.5" y="1023.8" font-size="13.0" text-anchor="end" font-weight="normal" fill="#3c3c3c" >80</text>
<text x="376.5" y="1066.8" font-size="13.0" text-anchor="end" font-weight="normal" fill="#3c3c3c" >60</text>
<text x="376.5" y="1109.8" font-size="13.0" text-anchor="end" font-weight="normal" fill="#3c3c3c" >40</text>
<text x="376.5" y="1152.8" font-size="13.0" text-anchor="end" font-weight="normal" fill="#3c3c3c" >20</text>
<text x="376.5" y="1195.8" font-size="13.0" text-anchor="end" font-weight="normal" fill="#3c3c3c" >0</text>
<text x="389.6" y="1212.8" font-size="13.0" text-anchor="middle" font-weight="normal" fill="#3c3c3c" >0</text>
<text x="444.0" y="1212.8" font-size="13.0" text-anchor="middle" font-weight="normal" fill="#3c3c3c" >50</text>
<text x="498.4" y="1212.8" font-size="13.0" text-anchor="middle" font-weight="normal" fill="#3c3c3c" >100</text>
<text x="552.8" y="1212.8" font-size="13.0" text-anchor="middle" font-weight="normal" fill="#3c3c3c" >150</text>
<text x="607.2" y="1212.8" font-size="13.0" text-anchor="middle" font-weight="normal" fill="#3c3c3c" >200</text>
<text x="661.7" y="1212.8" font-size="13.0" text-anchor="middle" font-weight="normal" fill="#3c3c3c" >250</text>
<text x="716.1" y="1212.8" font-size="13.0" text-anchor="middle" font-weight="normal" fill="#3c3c3c" >300</text>
<text x="770.5" y="1212.8" font-size="13.0" text-anchor="middle" font-weight="normal" fill="#3c3c3c" >350</text>
<text x="824.9" y="1212.8" font-size="13.0" text-anchor="middle" font-weight="normal" fill="#3c3c3c" >400</text>
<text x="879.3" y="1212.8" font-size="13.0" text-anchor="middle" font-weight="normal" fill="#3c3c3c" >450</text>
<text x="933.7" y="1212.8" font-size="13.0" text-anchor="middle" font-weight="normal" fill="#3c3c3c" >500</text>
<path d="M390.7 904.3 C391.1 905.7 391.1 907.3 391.8 908.6 C392.6 910.1 393.7 911.8 395.0 912.9 C396.6 914.1 399.3 913.9 400.5 915.5 C404.7 920.7 407.3 927.5 411.4 933.1 C421.9 947.8 430.1 965.8 444.0 976.3 C459.1 987.8 480.0 992.3 498.4 999.1 C534.4 1012.3 570.0 1027.1 607.2 1036.1 C715.1 1062.1 824.9 1081.4 933.7 1104.0" fill="none" stroke="#1f6fbf" stroke-width="2.00" stroke-linejoin="round" stroke-linecap="round" opacity="1.00"/>
<circle cx="390.7" cy="904.3" r="3.1" fill="#1f6fbf"/>
<circle cx="391.8" cy="908.6" r="3.1" fill="#1f6fbf"/>
<circle cx="395.0" cy="912.9" r="3.1" fill="#1f6fbf"/>
<circle cx="400.5" cy="915.5" r="3.1" fill="#1f6fbf"/>
<circle cx="411.4" cy="933.1" r="3.1" fill="#1f6fbf"/>
<circle cx="444.0" cy="976.3" r="3.1" fill="#1f6fbf"/>
<circle cx="498.4" cy="999.1" r="3.1" fill="#1f6fbf"/>
<circle cx="607.2" cy="1036.1" r="3.1" fill="#1f6fbf"/>
<circle cx="933.7" cy="1104.0" r="3.1" fill="#1f6fbf"/>
<path d="M390.7 915.5 C391.1 915.5 391.4 915.4 391.8 915.5 C392.9 915.6 394.0 915.9 395.0 916.1 C396.9 916.5 398.7 916.6 400.5 917.2 C404.2 918.5 407.6 920.6 411.4 921.9 C422.1 925.6 433.1 929.0 444.0 932.2 C462.1 937.5 480.1 943.0 498.4 947.5 C534.5 956.3 570.7 965.1 607.2 972.0 C715.8 992.6 824.9 1010.7 933.7 1030.0" fill="none" stroke="#e8262a" stroke-width="2.00" stroke-linejoin="round" stroke-linecap="round" opacity="1.00"/>
<circle cx="390.7" cy="915.5" r="3.1" fill="#e8262a"/>
<circle cx="391.8" cy="915.5" r="3.1" fill="#e8262a"/>
<circle cx="395.0" cy="916.1" r="3.1" fill="#e8262a"/>
<circle cx="400.5" cy="917.2" r="3.1" fill="#e8262a"/>
<circle cx="411.4" cy="921.9" r="3.1" fill="#e8262a"/>
<circle cx="444.0" cy="932.2" r="3.1" fill="#e8262a"/>
<circle cx="498.4" cy="947.5" r="3.1" fill="#e8262a"/>
<circle cx="607.2" cy="972.0" r="3.1" fill="#e8262a"/>
<circle cx="933.7" cy="1030.0" r="3.1" fill="#e8262a"/>
<path d="M390.7 897.0 C391.1 898.0 391.2 899.1 391.8 900.0 C392.7 901.5 393.8 903.0 395.0 904.3 C396.7 905.8 398.5 907.3 400.5 908.4 C403.9 910.3 407.6 911.9 411.4 913.3 C422.1 917.4 432.9 921.5 444.0 924.7 C462.0 929.9 480.1 934.5 498.4 938.5 C534.5 946.3 570.7 954.7 607.2 960.0 C715.8 975.6 824.9 987.3 933.7 1001.0" fill="none" stroke="#f39a4e" stroke-width="2.00" stroke-linejoin="round" stroke-linecap="round" opacity="1.00"/>
<circle cx="390.7" cy="897.0" r="3.1" fill="#f39a4e"/>
<circle cx="391.8" cy="900.0" r="3.1" fill="#f39a4e"/>
<circle cx="395.0" cy="904.3" r="3.1" fill="#f39a4e"/>
<circle cx="400.5" cy="908.4" r="3.1" fill="#f39a4e"/>
<circle cx="411.4" cy="913.3" r="3.1" fill="#f39a4e"/>
<circle cx="444.0" cy="924.7" r="3.1" fill="#f39a4e"/>
<circle cx="498.4" cy="938.5" r="3.1" fill="#f39a4e"/>
<circle cx="607.2" cy="960.0" r="3.1" fill="#f39a4e"/>
<circle cx="933.7" cy="1001.0" r="3.1" fill="#f39a4e"/>
<path d="M390.7 886.9 C391.1 888.1 391.2 889.5 391.8 890.7 C392.6 892.5 393.7 894.2 395.0 895.7 C396.6 897.4 398.5 899.1 400.5 900.4 C403.9 902.6 407.6 904.5 411.4 906.2 C422.2 911.3 432.7 917.3 444.0 920.8 C461.7 926.3 480.3 929.2 498.4 933.3 C534.7 941.6 570.6 951.8 607.2 958.0 C715.7 976.5 824.9 991.0 933.7 1007.5" fill="none" stroke="#16a84a" stroke-width="2.00" stroke-linejoin="round" stroke-linecap="round" opacity="1.00"/>
<circle cx="390.7" cy="886.9" r="3.1" fill="#16a84a"/>
<circle cx="391.8" cy="890.7" r="3.1" fill="#16a84a"/>
<circle cx="395.0" cy="895.7" r="3.1" fill="#16a84a"/>
<circle cx="400.5" cy="900.4" r="3.1" fill="#16a84a"/>
<circle cx="411.4" cy="906.2" r="3.1" fill="#16a84a"/>
<circle cx="444.0" cy="920.8" r="3.1" fill="#16a84a"/>
<circle cx="498.4" cy="933.3" r="3.1" fill="#16a84a"/>
<circle cx="607.2" cy="958.0" r="3.1" fill="#16a84a"/>
<circle cx="933.7" cy="1007.5" r="3.1" fill="#16a84a"/>
<text x="413.3" y="869.7" font-size="23.0" text-anchor="start" font-weight="bold" fill="#111" >(e)</text>
<text x="452.7" y="869.1" font-size="16.0" text-anchor="start" font-weight="bold" fill="#222" >&#916;E = 3.2 V</text>
<path d="M803.1 865.9 h18.1" stroke="#e8262a" stroke-width="2"/>
<circle cx="812.4" cy="865.9" r="3.1" fill="#e8262a"/>
<text x="822.8" y="871.4" font-size="16.0" text-anchor="start" font-weight="normal" fill="#333" >St-900</text>
<path d="M803.1 893.4 h18.1" stroke="#16a84a" stroke-width="2"/>
<circle cx="812.4" cy="893.4" r="3.1" fill="#16a84a"/>
<text x="822.8" y="898.9" font-size="16.0" text-anchor="start" font-weight="normal" fill="#333" >St-1000</text>
<path d="M803.1 920.9 h18.1" stroke="#1f6fbf" stroke-width="2"/>
<circle cx="812.4" cy="920.9" r="3.1" fill="#1f6fbf"/>
<text x="822.8" y="926.4" font-size="16.0" text-anchor="start" font-weight="normal" fill="#333" >St-CO2-900</text>
<path d="M803.1 948.4 h18.1" stroke="#f39a4e" stroke-width="2"/>
<circle cx="812.4" cy="948.4" r="3.1" fill="#f39a4e"/>
<text x="822.8" y="953.9" font-size="16.0" text-anchor="start" font-weight="normal" fill="#333" >St-CO2-1000</text>
<text x="648.0" y="1245.0" font-size="20.0" text-anchor="middle" font-weight="bold" fill="#222" ><tspan font-style="italic">v</tspan> (mV s<tspan font-size="12" dy="-8">-1</tspan><tspan dy="8"> )</tspan></text>
<text transform="translate(339.0 1013.9) rotate(-90)" font-size="21" font-weight="bold" fill="#222" text-anchor="middle"><tspan font-style="italic">C</tspan><tspan font-size="13.3" dy="4">m</tspan><tspan dy="-4"> (F g</tspan><tspan font-size="12.9" dy="-8">-1</tspan><tspan dy="8">)</tspan></text>
</svg></body></html>
